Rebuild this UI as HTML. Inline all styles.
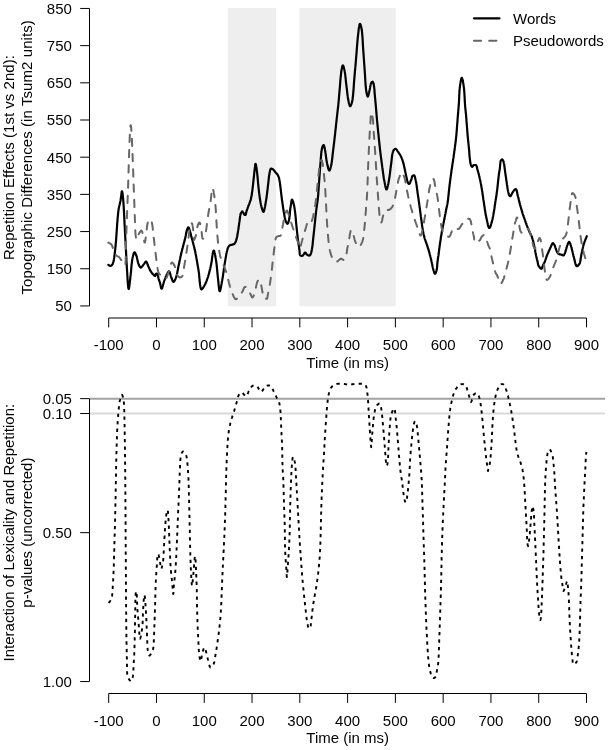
<!DOCTYPE html>
<html><head><meta charset="utf-8"><style>html,body{margin:0;padding:0;background:#fff;width:608px;height:750px;overflow:hidden}</style></head>
<body><svg width="608" height="750" viewBox="0 0 608 750" style="position:absolute;left:0;top:0">
<rect width="608" height="750" fill="#fff"/>
<rect x="227.8" y="7.9" width="48.1" height="298.4" fill="#eeeeee"/>
<rect x="299.4" y="7.9" width="96.3" height="298.4" fill="#eeeeee"/>
<line x1="89.6" y1="398.64" x2="605" y2="398.64" stroke="#a2a2a2" stroke-width="2"/>
<line x1="89.6" y1="413.53" x2="605" y2="413.53" stroke="#d9d9d9" stroke-width="2"/>
<path d="M108.4 264.8L108.9 265.2L109.4 265.5L110.0 265.8L110.5 265.8L111.1 265.7L111.6 265.4L112.1 264.9L112.5 264.4L112.7 263.9L112.9 263.4L113.1 262.9L113.3 262.4L113.4 261.8L113.6 261.2L113.7 260.6L113.8 260.0L113.9 259.3L114.0 258.7L114.1 258.1L114.2 257.5L114.3 256.8L114.4 256.2L114.4 255.6L114.5 255.1L114.6 254.5L114.7 253.9L114.8 253.3L114.8 252.7L114.9 252.1L115.0 251.5L115.0 250.9L115.1 250.3L115.2 249.7L115.2 249.1L115.3 248.5L115.4 247.9L115.4 247.3L115.5 246.7L115.5 246.1L115.6 245.5L115.6 244.9L115.7 244.3L115.7 243.7L115.8 243.1L115.9 242.5L115.9 241.9L116.0 241.3L116.0 240.7L116.1 240.1L116.1 239.5L116.2 238.9L116.2 238.3L116.2 237.7L116.3 237.1L116.3 236.5L116.4 235.9L116.4 235.3L116.5 234.7L116.5 234.1L116.5 233.5L116.6 232.9L116.6 232.3L116.7 231.7L116.7 231.1L116.7 230.5L116.8 229.9L116.8 229.3L116.9 228.8L116.9 228.2L116.9 227.6L117.0 227.0L117.0 226.4L117.1 225.8L117.1 225.2L117.1 224.6L117.2 224.0L117.2 223.4L117.3 222.8L117.3 222.2L117.4 221.6L117.4 221.0L117.5 220.4L117.5 219.8L117.6 219.2L117.6 218.6L117.7 218.0L117.7 217.4L117.8 216.8L117.8 216.2L117.9 215.6L118.0 215.0L118.0 214.4L118.1 213.8L118.1 213.2L118.2 212.6L118.3 212.0L118.3 211.4L118.4 210.8L118.5 210.2L118.6 209.6L118.7 209.0L118.7 208.4L118.8 207.9L119.0 207.3L119.1 206.7L119.2 206.1L119.4 205.5L119.5 204.9L119.7 204.3L119.8 203.8L120.0 203.2L120.1 202.6L120.2 202.0L120.4 201.4L120.5 200.8L120.6 200.2L120.7 199.5L120.8 198.7L120.9 197.9L121.0 197.1L121.1 196.4L121.2 195.6L121.3 194.8L121.4 194.1L121.5 193.5L121.6 192.9L121.6 192.3L121.7 191.9L121.8 191.6L121.9 191.4L122.0 191.3L122.1 191.4L122.2 191.5L122.2 191.8L122.3 192.2L122.4 192.6L122.5 193.2L122.6 193.8L122.7 194.4L122.8 195.2L122.8 195.9L122.9 196.7L123.0 197.5L123.1 198.2L123.1 199.0L123.2 199.8L123.3 200.6L123.3 201.3L123.4 201.9L123.4 202.6L123.5 203.2L123.5 203.7L123.5 204.3L123.6 204.9L123.6 205.5L123.7 206.1L123.7 206.7L123.7 207.3L123.8 207.9L123.8 208.5L123.8 209.1L123.9 209.7L123.9 210.3L123.9 210.9L124.0 211.5L124.0 212.1L124.0 212.7L124.1 213.3L124.1 213.9L124.1 214.5L124.1 215.1L124.2 215.7L124.2 216.3L124.2 216.9L124.3 217.5L124.3 218.1L124.3 218.7L124.3 219.3L124.4 219.9L124.4 220.5L124.4 221.1L124.5 221.7L124.5 222.3L124.5 222.9L124.5 223.5L124.6 224.1L124.6 224.7L124.6 225.3L124.7 225.9L124.7 226.5L124.7 227.1L124.8 227.7L124.8 228.3L124.8 228.9L124.9 229.5L124.9 230.1L124.9 230.7L125.0 231.3L125.0 231.9L125.0 232.5L125.0 233.1L125.1 233.7L125.1 234.3L125.1 234.9L125.2 235.5L125.2 236.1L125.2 236.7L125.3 237.3L125.3 237.9L125.3 238.5L125.4 239.1L125.4 239.7L125.4 240.3L125.5 240.9L125.5 241.5L125.5 242.1L125.6 242.7L125.6 243.3L125.6 243.9L125.6 244.5L125.7 245.1L125.7 245.7L125.7 246.3L125.8 246.9L125.8 247.5L125.8 248.1L125.9 248.7L125.9 249.3L125.9 249.9L126.0 250.5L126.0 251.1L126.0 251.7L126.1 252.3L126.1 252.9L126.1 253.5L126.1 254.1L126.2 254.7L126.2 255.3L126.2 255.9L126.3 256.5L126.3 257.1L126.3 257.7L126.4 258.3L126.4 258.9L126.4 259.5L126.4 260.1L126.5 260.7L126.5 261.3L126.5 261.9L126.6 262.5L126.6 263.1L126.6 263.7L126.7 264.3L126.7 264.9L126.7 265.5L126.8 266.1L126.8 266.7L126.8 267.3L126.9 267.9L126.9 268.5L127.0 269.1L127.0 269.7L127.0 270.3L127.1 270.9L127.1 271.6L127.2 272.3L127.2 273.1L127.3 273.8L127.3 274.6L127.3 275.3L127.4 276.1L127.4 276.9L127.5 277.7L127.5 278.5L127.6 279.3L127.6 280.1L127.7 280.9L127.7 281.6L127.8 282.4L127.8 283.1L127.9 283.8L128.0 284.4L128.0 285.1L128.1 285.7L128.1 286.2L128.2 286.8L128.2 287.2L128.3 287.7L128.4 288.0L128.4 288.3L128.5 288.6L128.5 288.8L128.6 288.9L128.7 289.0L128.7 289.0L128.8 288.9L128.9 288.7L129.0 288.4L129.0 288.0L129.1 287.6L129.2 287.1L129.3 286.5L129.4 285.9L129.5 285.2L129.5 284.5L129.6 283.8L129.7 283.0L129.8 282.2L129.9 281.5L130.0 280.7L130.1 279.9L130.2 279.1L130.3 278.3L130.3 277.6L130.4 276.9L130.5 276.2L130.6 275.5L130.6 274.9L130.7 274.4L130.8 273.8L130.8 273.2L130.9 272.6L131.0 272.0L131.0 271.4L131.1 270.8L131.1 270.2L131.2 269.5L131.2 268.9L131.3 268.3L131.3 267.7L131.4 267.1L131.4 266.5L131.5 265.9L131.5 265.3L131.6 264.7L131.7 264.1L131.7 263.6L131.8 263.0L131.9 262.4L131.9 261.8L132.0 261.2L132.1 260.6L132.2 260.0L132.3 259.4L132.4 258.8L132.5 258.2L132.6 257.5L132.8 256.8L133.0 256.0L133.2 255.3L133.4 254.6L133.6 253.9L133.8 253.3L134.0 252.9L134.3 252.5L134.5 252.3L134.7 252.3L135.0 252.6L135.3 253.0L135.5 253.6L135.8 254.3L136.1 255.0L136.4 255.7L136.6 256.3L136.8 256.9L136.9 257.5L137.1 258.1L137.2 258.7L137.3 259.2L137.4 259.8L137.6 260.4L137.7 261.0L137.8 261.6L138.0 262.2L138.1 262.8L138.3 263.3L138.5 263.9L138.8 264.5L139.0 265.2L139.3 265.9L139.7 266.5L140.0 267.0L140.4 267.4L140.7 267.6L141.1 267.5L141.4 267.3L141.8 266.9L142.2 266.4L142.7 265.8L143.1 265.2L143.5 264.6L143.9 264.1L144.3 263.6L144.7 263.0L145.1 262.4L145.4 261.9L145.8 261.6L146.1 261.5L146.4 261.7L146.7 262.2L147.0 262.8L147.2 263.4L147.5 264.2L147.7 264.8L148.0 265.5L148.2 266.0L148.5 266.6L148.7 267.1L148.9 267.7L149.2 268.2L149.4 268.8L149.7 269.3L149.9 269.9L150.2 270.4L150.5 270.9L150.8 271.4L151.1 271.9L151.5 272.4L151.8 272.9L152.2 273.4L152.6 273.8L153.0 274.3L153.5 274.8L154.1 275.3L154.6 275.7L155.0 275.9L155.3 276.0L155.5 275.4L155.6 274.6L155.8 273.9L156.2 273.7L156.8 273.7L157.3 273.8L157.6 274.4L157.8 275.0L157.9 275.5L158.1 276.1L158.2 276.7L158.3 277.3L158.4 277.9L158.5 278.5L158.7 279.1L158.9 279.7L159.0 280.2L159.2 280.8L159.5 281.4L159.7 281.9L159.9 282.5L160.0 283.1L160.2 283.7L160.4 284.4L160.5 285.2L160.7 286.0L160.8 286.7L161.0 287.4L161.1 288.0L161.3 288.4L161.5 288.7L161.6 288.7L161.8 288.6L162.0 288.4L162.2 288.0L162.3 287.5L162.5 286.9L162.7 286.2L162.9 285.5L163.1 284.7L163.3 284.0L163.5 283.2L163.7 282.5L163.9 281.9L164.1 281.2L164.3 280.7L164.5 280.1L164.7 279.6L164.9 279.0L165.2 278.4L165.4 277.9L165.6 277.3L165.8 276.7L166.1 276.2L166.3 275.6L166.6 275.1L166.8 274.6L167.1 274.0L167.4 273.5L167.7 272.9L168.1 272.2L168.5 271.7L168.8 271.4L169.1 271.3L169.4 271.5L169.6 271.9L169.8 272.4L170.0 273.0L170.2 273.7L170.4 274.4L170.6 275.2L170.8 275.9L171.0 276.6L171.2 277.2L171.4 277.8L171.7 278.5L171.9 279.2L172.2 279.9L172.5 280.5L172.7 281.1L173.0 281.6L173.3 281.8L173.6 281.9L173.9 281.7L174.2 281.4L174.5 280.9L174.8 280.3L175.2 279.6L175.5 278.9L175.7 278.2L176.0 277.6L176.1 277.1L176.3 276.5L176.5 276.0L176.6 275.4L176.8 274.8L176.9 274.2L177.1 273.6L177.2 273.1L177.3 272.5L177.4 271.9L177.5 271.3L177.6 270.7L177.8 270.1L177.9 269.5L178.0 268.9L178.1 268.3L178.2 267.7L178.3 267.1L178.4 266.5L178.6 265.9L178.7 265.3L178.8 264.7L178.9 264.2L179.1 263.6L179.2 263.0L179.3 262.4L179.4 261.8L179.6 261.2L179.7 260.6L179.8 260.0L179.9 259.5L180.0 258.9L180.2 258.3L180.3 257.7L180.4 257.1L180.5 256.5L180.7 255.9L180.8 255.3L180.9 254.8L181.1 254.2L181.2 253.6L181.3 253.0L181.5 252.4L181.6 251.8L181.8 251.3L181.9 250.7L182.1 250.1L182.2 249.5L182.4 248.9L182.5 248.4L182.7 247.8L182.8 247.2L183.0 246.6L183.1 246.0L183.3 245.5L183.4 244.9L183.6 244.3L183.7 243.7L183.9 243.1L184.1 242.6L184.2 242.0L184.4 241.4L184.5 240.8L184.7 240.2L184.8 239.7L185.0 239.0L185.2 238.3L185.3 237.6L185.5 236.9L185.6 236.2L185.8 235.4L185.9 234.6L186.1 233.9L186.3 233.1L186.4 232.4L186.6 231.6L186.7 230.9L186.9 230.3L187.1 229.7L187.2 229.1L187.4 228.6L187.6 228.2L187.7 227.9L187.9 227.6L188.1 227.4L188.2 227.3L188.4 227.3L188.6 227.5L188.8 227.7L189.0 228.0L189.1 228.5L189.3 229.0L189.5 229.6L189.7 230.2L189.9 230.9L190.1 231.6L190.3 232.3L190.5 233.1L190.7 233.9L190.9 234.6L191.0 235.4L191.2 236.1L191.4 236.7L191.6 237.3L191.7 237.9L191.9 238.5L192.0 239.1L192.2 239.7L192.4 240.2L192.5 240.8L192.7 241.4L192.8 242.0L193.0 242.6L193.1 243.1L193.3 243.7L193.4 244.3L193.6 244.9L193.7 245.5L193.9 246.0L194.0 246.6L194.2 247.2L194.3 247.8L194.4 248.4L194.6 249.0L194.7 249.6L194.8 250.1L195.0 250.7L195.1 251.3L195.2 251.9L195.4 252.5L195.5 253.1L195.6 253.7L195.7 254.2L195.8 254.8L195.9 255.4L196.1 256.0L196.2 256.6L196.3 257.2L196.4 257.8L196.5 258.4L196.6 259.0L196.7 259.5L196.8 260.1L196.9 260.7L197.0 261.3L197.1 261.9L197.2 262.5L197.3 263.1L197.4 263.7L197.5 264.3L197.6 264.9L197.7 265.5L197.8 266.1L197.9 266.6L198.0 267.2L198.1 267.8L198.2 268.4L198.3 269.0L198.4 269.6L198.5 270.2L198.6 270.8L198.7 271.5L198.8 272.2L198.9 272.9L199.0 273.6L199.1 274.3L199.1 275.1L199.2 275.9L199.3 276.7L199.3 277.4L199.4 278.2L199.5 279.0L199.6 279.8L199.6 280.6L199.7 281.3L199.8 282.1L199.9 282.8L199.9 283.5L200.0 284.2L200.1 284.9L200.2 285.5L200.3 286.1L200.4 286.7L200.5 287.2L200.6 287.6L200.7 288.1L200.8 288.4L200.9 288.7L201.1 289.0L201.2 289.2L201.4 289.3L201.5 289.4L201.7 289.4L202.0 289.2L202.3 288.8L202.7 288.3L203.1 287.7L203.5 287.1L203.9 286.5L204.3 285.8L204.6 285.2L204.9 284.7L205.2 284.2L205.4 283.6L205.7 283.1L205.9 282.6L206.2 282.0L206.4 281.4L206.6 280.9L206.8 280.3L207.0 279.7L207.2 279.2L207.4 278.6L207.6 278.0L207.8 277.4L208.0 276.9L208.2 276.3L208.3 275.7L208.5 275.2L208.7 274.6L208.8 274.0L209.0 273.4L209.2 272.9L209.3 272.3L209.5 271.7L209.6 271.1L209.7 270.5L209.9 269.9L210.0 269.4L210.2 268.8L210.3 268.2L210.4 267.6L210.6 267.0L210.7 266.4L210.8 265.8L210.9 265.2L211.1 264.7L211.2 264.0L211.3 263.3L211.4 262.6L211.6 261.9L211.7 261.1L211.8 260.4L211.9 259.6L212.0 258.8L212.1 258.0L212.2 257.2L212.3 256.5L212.4 255.7L212.5 255.0L212.6 254.4L212.7 253.7L212.8 253.1L213.0 252.6L213.1 252.1L213.2 251.6L213.3 251.3L213.4 251.0L213.5 250.8L213.6 250.6L213.8 250.6L213.9 250.7L214.0 250.9L214.2 251.2L214.3 251.7L214.5 252.2L214.6 252.8L214.8 253.5L215.0 254.2L215.1 254.9L215.3 255.7L215.4 256.5L215.5 257.2L215.7 258.0L215.8 258.7L215.9 259.4L216.0 260.0L216.1 260.6L216.2 261.2L216.3 261.8L216.3 262.4L216.4 263.0L216.5 263.6L216.6 264.2L216.6 264.8L216.7 265.4L216.8 266.0L216.8 266.6L216.9 267.2L216.9 267.7L217.0 268.3L217.0 268.9L217.1 269.5L217.2 270.1L217.2 270.7L217.3 271.3L217.3 271.9L217.4 272.5L217.4 273.1L217.5 273.7L217.6 274.3L217.6 274.9L217.7 275.5L217.7 276.1L217.8 276.7L217.9 277.3L217.9 277.9L218.0 278.6L218.1 279.3L218.2 280.0L218.2 280.7L218.3 281.5L218.4 282.3L218.5 283.1L218.5 283.9L218.6 284.7L218.7 285.4L218.8 286.2L218.8 286.9L218.9 287.6L219.0 288.3L219.1 288.9L219.2 289.4L219.2 289.9L219.3 290.3L219.4 290.7L219.5 291.0L219.6 291.1L219.7 291.2L219.8 291.2L219.9 291.1L220.0 290.9L220.2 290.5L220.3 290.1L220.4 289.6L220.6 289.1L220.7 288.4L220.8 287.8L221.0 287.1L221.1 286.3L221.3 285.6L221.4 284.8L221.5 284.0L221.7 283.2L221.8 282.5L221.9 281.7L222.1 281.0L222.2 280.4L222.3 279.8L222.4 279.2L222.5 278.6L222.6 278.0L222.7 277.4L222.8 276.8L222.9 276.2L223.0 275.6L223.1 275.1L223.1 274.5L223.2 273.9L223.3 273.3L223.4 272.7L223.5 272.1L223.6 271.5L223.7 270.9L223.7 270.3L223.8 269.7L223.9 269.1L224.0 268.5L224.1 267.9L224.2 267.3L224.2 266.7L224.3 266.1L224.4 265.5L224.5 264.9L224.6 264.4L224.7 263.8L224.8 263.2L224.9 262.6L225.0 262.0L225.1 261.4L225.2 260.8L225.3 260.2L225.4 259.6L225.5 259.0L225.6 258.4L225.7 257.8L225.8 257.2L225.9 256.6L226.0 256.1L226.1 255.5L226.2 254.9L226.3 254.3L226.4 253.7L226.5 253.1L226.7 252.5L226.8 251.9L226.9 251.4L227.1 250.8L227.2 250.2L227.4 249.6L227.5 249.0L227.7 248.4L227.9 247.9L228.2 247.3L228.5 246.8L228.8 246.3L229.2 245.9L229.7 245.5L230.2 245.1L230.7 244.9L231.3 244.8L231.9 244.8L232.5 244.6L233.1 244.4L233.7 244.2L234.2 244.0L234.5 243.6L234.9 243.1L235.2 242.6L235.5 242.0L235.8 241.4L236.0 240.8L236.2 240.3L236.4 239.7L236.5 239.1L236.7 238.6L236.8 238.0L236.9 237.4L237.1 236.8L237.2 236.2L237.3 235.6L237.4 235.0L237.5 234.4L237.6 233.8L237.7 233.2L237.8 232.6L237.9 232.0L238.0 231.4L238.1 230.9L238.2 230.3L238.3 229.7L238.4 229.1L238.5 228.5L238.6 227.9L238.6 227.3L238.7 226.7L238.8 226.1L238.9 225.5L239.0 224.9L239.1 224.3L239.1 223.7L239.2 223.1L239.3 222.5L239.4 221.9L239.5 221.4L239.6 220.8L239.6 220.2L239.7 219.6L239.8 219.0L239.9 218.4L240.0 217.8L240.0 217.1L240.1 216.5L240.2 216.0L240.3 215.4L240.4 214.8L240.6 214.2L240.7 213.7L241.0 213.1L241.3 212.6L241.7 212.1L241.9 211.5L242.2 211.4L242.6 211.8L243.0 212.4L243.4 212.9L243.7 213.4L244.0 214.0L244.3 214.5L244.7 215.0L245.2 215.0L245.5 214.8L245.8 214.4L246.0 213.8L246.1 213.1L246.3 212.3L246.4 211.6L246.6 211.0L246.8 210.5L247.0 209.9L247.2 209.3L247.4 208.8L247.6 208.2L247.8 207.6L248.0 207.1L248.2 206.5L248.4 206.0L248.6 205.4L248.9 204.8L249.1 204.3L249.3 203.7L249.5 203.1L249.7 202.6L249.9 202.0L250.1 201.5L250.3 200.9L250.5 200.3L250.7 199.8L250.8 199.2L251.0 198.6L251.1 198.0L251.2 197.4L251.3 196.8L251.5 196.2L251.6 195.7L251.7 195.1L251.8 194.5L251.8 193.9L251.9 193.3L252.0 192.7L252.1 192.1L252.2 191.5L252.3 190.9L252.4 190.3L252.4 189.7L252.5 189.1L252.6 188.5L252.6 187.9L252.7 187.3L252.8 186.7L252.9 186.1L252.9 185.5L253.0 184.9L253.1 184.3L253.1 183.8L253.2 183.2L253.2 182.6L253.3 182.0L253.4 181.4L253.4 180.8L253.5 180.2L253.6 179.6L253.6 179.0L253.7 178.4L253.8 177.8L253.8 177.2L253.9 176.6L254.0 176.0L254.0 175.4L254.1 174.8L254.1 174.2L254.2 173.6L254.3 173.0L254.3 172.4L254.4 171.8L254.4 171.2L254.5 170.6L254.6 170.0L254.7 169.4L254.7 168.8L254.8 168.2L254.9 167.6L255.0 167.0L255.1 166.2L255.1 165.5L255.2 164.7L255.3 164.2L255.4 163.8L255.6 163.8L255.7 164.0L255.8 164.4L255.9 164.9L256.1 165.6L256.2 166.3L256.3 167.1L256.4 167.8L256.6 168.6L256.7 169.3L256.7 170.0L256.8 170.6L256.9 171.2L257.0 171.8L257.1 172.4L257.1 172.9L257.2 173.5L257.3 174.1L257.3 174.7L257.4 175.3L257.4 175.9L257.5 176.5L257.6 177.1L257.6 177.7L257.7 178.3L257.7 178.9L257.8 179.5L257.8 180.1L257.9 180.7L257.9 181.3L258.0 181.9L258.0 182.5L258.1 183.1L258.1 183.7L258.2 184.3L258.3 184.9L258.3 185.5L258.4 186.1L258.4 186.7L258.5 187.3L258.6 187.9L258.6 188.5L258.7 189.1L258.8 189.7L258.8 190.3L258.9 190.9L259.0 191.5L259.0 192.1L259.1 192.7L259.2 193.3L259.3 193.8L259.3 194.4L259.4 195.0L259.5 195.6L259.6 196.2L259.6 196.8L259.7 197.4L259.8 198.0L259.9 198.6L260.0 199.2L260.1 199.8L260.2 200.4L260.3 201.0L260.4 201.6L260.5 202.2L260.6 202.8L260.7 203.3L260.8 203.9L260.9 204.5L261.1 205.1L261.2 205.7L261.3 206.3L261.5 206.9L261.6 207.4L261.8 208.0L262.0 208.6L262.2 209.2L262.4 209.9L262.7 210.7L262.9 211.3L263.2 211.7L263.4 211.9L263.6 211.8L263.8 211.5L264.0 211.0L264.2 210.4L264.3 209.7L264.5 208.9L264.7 208.2L264.8 207.4L265.0 206.7L265.1 206.2L265.2 205.6L265.3 205.0L265.4 204.4L265.5 203.8L265.6 203.2L265.7 202.6L265.8 202.0L265.9 201.4L266.0 200.8L266.1 200.2L266.2 199.6L266.3 199.1L266.4 198.5L266.5 197.9L266.6 197.3L266.6 196.7L266.7 196.1L266.8 195.5L266.9 194.9L267.0 194.3L267.0 193.7L267.1 193.1L267.2 192.5L267.2 191.9L267.3 191.3L267.4 190.7L267.5 190.1L267.5 189.5L267.6 188.9L267.7 188.3L267.7 187.7L267.8 187.1L267.9 186.6L267.9 186.0L268.0 185.4L268.1 184.8L268.1 184.2L268.2 183.6L268.3 183.0L268.4 182.4L268.4 181.8L268.5 181.2L268.6 180.6L268.6 180.0L268.7 179.4L268.7 178.8L268.8 178.2L268.9 177.6L268.9 177.0L269.0 176.4L269.1 175.8L269.2 175.2L269.3 174.6L269.4 174.0L269.5 173.4L269.6 172.8L269.7 172.2L269.8 171.7L269.9 171.1L270.1 170.4L270.3 169.7L270.6 169.0L270.9 168.6L271.2 168.5L271.7 168.7L272.3 169.0L272.9 169.3L273.3 169.7L273.8 170.1L274.1 170.5L274.5 171.0L274.9 171.5L275.2 172.0L275.6 172.5L276.0 172.9L276.4 173.4L276.9 173.9L277.2 174.3L277.6 174.8L277.9 175.3L278.1 175.8L278.4 176.4L278.6 176.9L278.8 177.5L279.0 178.1L279.2 178.7L279.3 179.3L279.4 179.8L279.5 180.4L279.6 181.0L279.7 181.6L279.8 182.2L279.9 182.8L280.0 183.4L280.1 184.0L280.1 184.6L280.2 185.2L280.3 185.8L280.4 186.4L280.4 187.0L280.5 187.6L280.6 188.2L280.7 188.8L280.7 189.4L280.8 190.0L280.9 190.6L280.9 191.1L281.0 191.7L281.1 192.3L281.1 192.9L281.2 193.5L281.3 194.1L281.3 194.7L281.4 195.3L281.5 195.9L281.6 196.5L281.6 197.1L281.7 197.7L281.8 198.3L281.9 198.9L281.9 199.5L282.0 200.1L282.1 200.7L282.2 201.3L282.3 201.9L282.4 202.5L282.4 203.1L282.5 203.6L282.6 204.2L282.7 204.8L282.8 205.4L282.9 206.0L282.9 206.6L283.0 207.2L283.1 207.8L283.2 208.4L283.3 209.0L283.4 209.6L283.5 210.2L283.6 210.8L283.7 211.4L283.8 212.0L283.9 212.5L284.0 213.1L284.1 213.7L284.2 214.3L284.3 214.9L284.4 215.5L284.5 216.1L284.6 216.7L284.7 217.3L284.9 217.9L285.0 218.5L285.1 219.1L285.2 219.7L285.4 220.2L285.6 220.8L285.8 221.4L286.1 222.1L286.5 222.8L286.8 223.3L287.1 223.7L287.4 223.8L287.7 223.7L287.9 223.3L288.2 222.8L288.4 222.2L288.6 221.5L288.8 220.7L289.0 220.0L289.1 219.3L289.3 218.7L289.4 218.1L289.4 217.5L289.5 216.9L289.6 216.3L289.7 215.7L289.7 215.1L289.8 214.5L289.8 213.9L289.9 213.3L289.9 212.7L290.0 212.1L290.0 211.5L290.1 210.9L290.1 210.3L290.2 209.7L290.3 209.1L290.3 208.5L290.4 207.9L290.5 207.3L290.6 206.7L290.7 206.2L290.8 205.6L290.9 205.0L291.0 204.4L291.1 203.8L291.3 203.2L291.3 202.4L291.4 201.6L291.5 200.9L291.6 200.3L291.8 199.8L292.0 199.6L292.4 200.0L292.6 200.5L292.9 201.0L293.1 201.6L293.2 202.2L293.4 202.8L293.5 203.4L293.7 204.0L293.8 204.5L293.9 205.1L294.1 205.7L294.2 206.3L294.3 206.9L294.4 207.5L294.5 208.1L294.6 208.7L294.7 209.3L294.8 209.8L294.9 210.4L294.9 211.0L295.0 211.6L295.1 212.2L295.2 212.8L295.2 213.4L295.3 214.0L295.4 214.6L295.4 215.2L295.5 215.8L295.6 216.4L295.6 217.0L295.7 217.6L295.7 218.2L295.8 218.8L295.8 219.4L295.9 220.0L295.9 220.6L296.0 221.2L296.0 221.8L296.1 222.4L296.1 223.0L296.2 223.6L296.3 224.2L296.3 224.8L296.4 225.4L296.4 226.0L296.5 226.6L296.6 227.2L296.6 227.8L296.7 228.4L296.7 228.9L296.8 229.5L296.9 230.1L296.9 230.7L297.0 231.3L297.1 231.9L297.1 232.5L297.2 233.1L297.3 233.7L297.3 234.3L297.4 234.9L297.5 235.5L297.5 236.1L297.6 236.7L297.7 237.3L297.7 237.9L297.8 238.5L297.9 239.1L298.0 239.7L298.0 240.3L298.1 240.9L298.2 241.5L298.3 242.1L298.4 242.7L298.4 243.2L298.5 243.8L298.6 244.4L298.7 245.0L298.8 245.6L298.9 246.2L299.0 246.8L299.1 247.4L299.1 248.0L299.2 248.6L299.3 249.2L299.4 249.8L299.5 250.4L299.5 251.0L299.6 251.7L299.6 252.3L299.7 253.0L299.7 253.6L299.8 254.2L299.9 254.7L300.0 255.1L300.5 255.5L301.1 255.8L301.7 256.0L302.2 255.9L302.7 255.6L303.2 255.1L303.6 254.6L304.0 254.1L304.3 253.4L304.6 252.8L304.9 252.5L305.3 252.6L305.7 253.0L306.1 253.5L306.5 254.1L307.0 254.6L307.5 255.0L308.0 255.2L308.6 255.5L309.2 255.6L309.6 255.5L310.0 255.2L310.4 254.7L310.7 254.1L311.0 253.4L311.2 252.7L311.3 252.2L311.5 251.6L311.6 251.1L311.7 250.5L311.8 249.9L311.9 249.4L312.0 248.8L312.1 248.2L312.2 247.6L312.3 247.0L312.4 246.4L312.5 245.8L312.5 245.2L312.6 244.6L312.7 244.0L312.7 243.4L312.8 242.8L312.8 242.2L312.9 241.5L313.0 240.9L313.0 240.3L313.1 239.7L313.1 239.1L313.2 238.5L313.3 237.9L313.3 237.3L313.4 236.7L313.5 236.1L313.5 235.5L313.6 234.9L313.7 234.3L313.7 233.7L313.8 233.1L313.9 232.5L313.9 231.9L314.0 231.3L314.1 230.7L314.1 230.1L314.2 229.5L314.3 228.9L314.3 228.3L314.4 227.7L314.4 227.2L314.5 226.6L314.6 226.0L314.6 225.4L314.7 224.8L314.7 224.2L314.8 223.6L314.9 223.0L314.9 222.4L315.0 221.8L315.1 221.2L315.1 220.6L315.2 220.0L315.2 219.4L315.3 218.8L315.4 218.2L315.4 217.6L315.5 217.0L315.6 216.4L315.6 215.8L315.7 215.2L315.8 214.6L315.8 214.0L315.9 213.4L315.9 212.8L316.0 212.2L316.1 211.6L316.1 211.0L316.2 210.4L316.3 209.8L316.4 209.3L316.4 208.7L316.5 208.1L316.6 207.5L316.7 206.9L316.8 206.3L316.9 205.7L317.0 205.1L317.0 204.5L317.1 203.9L317.2 203.3L317.3 202.7L317.4 202.1L317.5 201.5L317.5 200.9L317.6 200.3L317.7 199.7L317.8 199.1L317.8 198.6L317.9 198.0L317.9 197.4L318.0 196.8L318.1 196.2L318.1 195.6L318.2 195.0L318.2 194.4L318.3 193.8L318.3 193.2L318.3 192.6L318.4 192.0L318.4 191.4L318.5 190.8L318.5 190.2L318.6 189.6L318.6 189.0L318.6 188.4L318.7 187.8L318.7 187.2L318.8 186.6L318.8 186.0L318.8 185.4L318.9 184.8L318.9 184.2L319.0 183.6L319.0 183.0L319.1 182.4L319.1 181.8L319.1 181.2L319.2 180.6L319.2 180.0L319.3 179.4L319.3 178.8L319.4 178.2L319.4 177.6L319.4 177.0L319.5 176.4L319.5 175.8L319.6 175.2L319.6 174.6L319.7 174.0L319.7 173.4L319.7 172.8L319.8 172.2L319.8 171.6L319.9 171.0L319.9 170.4L320.0 169.8L320.0 169.2L320.0 168.6L320.1 168.0L320.1 167.4L320.2 166.8L320.2 166.2L320.3 165.6L320.3 165.0L320.4 164.5L320.4 163.9L320.5 163.3L320.5 162.7L320.6 162.1L320.6 161.5L320.7 160.8L320.7 160.2L320.7 159.6L320.8 159.0L320.8 158.4L320.9 157.8L320.9 157.2L321.0 156.6L321.0 156.0L321.1 155.4L321.1 154.8L321.2 154.2L321.2 153.6L321.3 153.0L321.4 152.4L321.4 151.8L321.5 151.2L321.6 150.6L321.7 150.1L321.8 149.5L321.9 148.9L322.0 148.3L322.2 147.6L322.4 146.9L322.7 146.2L323.0 145.6L323.3 145.2L323.5 145.0L323.7 145.1L323.9 145.4L324.1 145.9L324.3 146.6L324.4 147.3L324.6 148.0L324.8 148.8L324.9 149.5L325.0 150.1L325.1 150.7L325.3 151.3L325.4 151.9L325.4 152.5L325.5 153.1L325.6 153.7L325.7 154.3L325.8 154.9L325.9 155.5L325.9 156.1L326.0 156.7L326.1 157.3L326.2 157.9L326.2 158.4L326.3 159.0L326.4 159.6L326.5 160.2L326.6 160.8L326.7 161.4L326.8 162.0L326.9 162.6L327.0 163.2L327.2 163.9L327.3 164.6L327.5 165.4L327.7 166.1L327.9 166.9L328.1 167.6L328.2 168.3L328.4 168.9L328.6 169.5L328.8 170.0L329.0 170.3L329.2 170.5L329.4 170.6L329.6 170.5L329.8 170.2L330.0 169.7L330.2 169.1L330.4 168.4L330.6 167.7L330.8 166.9L331.0 166.2L331.1 165.5L331.3 164.9L331.4 164.3L331.5 163.7L331.6 163.1L331.7 162.6L331.8 162.0L331.9 161.4L331.9 160.8L332.0 160.2L332.1 159.6L332.2 159.0L332.2 158.4L332.3 157.8L332.4 157.2L332.4 156.6L332.5 156.0L332.6 155.4L332.6 154.8L332.7 154.2L332.8 153.6L332.8 153.0L332.9 152.4L333.0 151.8L333.0 151.2L333.1 150.6L333.2 150.0L333.3 149.4L333.3 148.8L333.4 148.2L333.5 147.6L333.6 147.0L333.6 146.4L333.7 145.8L333.8 145.2L333.8 144.7L333.9 144.1L334.0 143.5L334.1 142.9L334.1 142.3L334.2 141.7L334.3 141.1L334.3 140.5L334.4 139.9L334.5 139.3L334.5 138.7L334.6 138.1L334.7 137.5L334.7 136.9L334.8 136.3L334.9 135.7L335.0 135.1L335.0 134.5L335.1 133.9L335.2 133.3L335.2 132.7L335.3 132.1L335.3 131.5L335.4 130.9L335.5 130.3L335.5 129.8L335.6 129.2L335.7 128.6L335.7 128.0L335.8 127.4L335.9 126.8L335.9 126.2L336.0 125.6L336.0 125.0L336.1 124.4L336.2 123.8L336.2 123.2L336.3 122.6L336.4 122.0L336.4 121.4L336.5 120.8L336.6 120.2L336.6 119.6L336.7 119.0L336.8 118.4L336.8 117.8L336.9 117.2L337.0 116.6L337.0 116.0L337.1 115.4L337.2 114.8L337.2 114.2L337.3 113.6L337.4 113.0L337.4 112.5L337.5 111.9L337.6 111.3L337.6 110.7L337.7 110.1L337.8 109.5L337.8 108.9L337.9 108.3L338.0 107.7L338.1 107.1L338.1 106.5L338.2 105.9L338.3 105.3L338.3 104.7L338.4 104.1L338.4 103.5L338.5 102.9L338.5 102.3L338.6 101.7L338.7 101.1L338.7 100.5L338.8 99.9L338.8 99.3L338.9 98.7L338.9 98.1L339.0 97.5L339.0 96.9L339.1 96.3L339.1 95.7L339.2 95.1L339.2 94.5L339.3 93.9L339.3 93.3L339.4 92.8L339.4 92.2L339.5 91.6L339.5 91.0L339.6 90.4L339.6 89.8L339.7 89.2L339.7 88.6L339.8 88.0L339.8 87.4L339.9 86.8L339.9 86.2L340.0 85.6L340.0 85.0L340.1 84.4L340.1 83.8L340.2 83.2L340.2 82.6L340.2 82.0L340.3 81.4L340.3 80.8L340.4 80.2L340.4 79.6L340.5 79.0L340.5 78.4L340.6 77.8L340.7 77.2L340.7 76.6L340.8 76.0L340.9 75.4L340.9 74.8L341.0 74.2L341.1 73.6L341.1 73.0L341.2 72.4L341.3 71.8L341.4 71.1L341.5 70.4L341.7 69.6L341.8 68.8L341.9 68.1L342.1 67.4L342.2 66.7L342.4 66.2L342.6 65.8L342.7 65.5L342.9 65.4L343.1 65.5L343.3 65.9L343.5 66.4L343.7 67.1L343.9 67.8L344.1 68.6L344.3 69.3L344.4 69.9L344.5 70.5L344.7 71.1L344.8 71.7L344.9 72.2L344.9 72.8L345.0 73.4L345.1 74.0L345.2 74.6L345.3 75.2L345.3 75.8L345.4 76.4L345.5 77.0L345.5 77.6L345.6 78.2L345.7 78.8L345.7 79.4L345.8 80.0L345.8 80.6L345.9 81.2L346.0 81.8L346.0 82.4L346.1 83.0L346.2 83.6L346.2 84.2L346.3 84.8L346.4 85.4L346.5 86.0L346.5 86.6L346.6 87.2L346.7 87.8L346.8 88.4L346.8 89.0L346.9 89.6L347.0 90.2L347.0 90.8L347.1 91.4L347.2 92.0L347.2 92.6L347.3 93.2L347.4 93.8L347.4 94.4L347.5 95.0L347.6 95.6L347.7 96.2L347.8 96.7L347.8 97.3L347.9 97.9L348.0 98.5L348.1 99.1L348.2 99.7L348.4 100.3L348.5 100.9L348.6 101.5L348.7 102.2L348.9 102.9L349.1 103.7L349.3 104.4L349.5 105.0L349.7 105.6L349.9 106.0L350.1 106.2L350.3 106.2L350.6 105.9L350.8 105.5L351.1 104.9L351.3 104.3L351.6 103.6L351.8 102.8L352.0 102.1L352.2 101.4L352.3 100.8L352.4 100.2L352.5 99.7L352.6 99.1L352.6 98.5L352.7 97.9L352.8 97.3L352.9 96.7L352.9 96.2L353.0 95.6L353.1 95.0L353.1 94.4L353.2 93.8L353.2 93.2L353.3 92.6L353.3 92.0L353.4 91.4L353.4 90.8L353.5 90.2L353.5 89.6L353.6 89.0L353.6 88.4L353.7 87.8L353.7 87.2L353.7 86.5L353.8 85.9L353.8 85.3L353.9 84.7L353.9 84.1L353.9 83.5L354.0 82.9L354.0 82.3L354.1 81.7L354.1 81.1L354.2 80.5L354.2 79.9L354.3 79.3L354.3 78.7L354.4 78.1L354.4 77.5L354.5 76.9L354.5 76.3L354.6 75.7L354.6 75.1L354.7 74.5L354.7 73.9L354.8 73.3L354.8 72.7L354.9 72.1L354.9 71.5L355.0 70.9L355.0 70.3L355.1 69.7L355.1 69.1L355.2 68.5L355.2 67.9L355.3 67.4L355.4 66.8L355.4 66.2L355.5 65.6L355.5 65.0L355.6 64.4L355.6 63.8L355.7 63.2L355.7 62.6L355.8 62.0L355.8 61.4L355.9 60.8L355.9 60.2L356.0 59.6L356.0 59.0L356.1 58.4L356.1 57.8L356.2 57.2L356.2 56.6L356.3 56.0L356.3 55.4L356.4 54.8L356.4 54.2L356.5 53.6L356.5 53.0L356.6 52.4L356.6 51.8L356.7 51.2L356.7 50.6L356.7 50.0L356.8 49.4L356.8 48.8L356.9 48.2L356.9 47.6L357.0 47.0L357.0 46.4L357.1 45.8L357.1 45.2L357.2 44.6L357.2 44.0L357.3 43.4L357.3 42.8L357.4 42.2L357.4 41.6L357.5 41.0L357.5 40.4L357.6 39.8L357.6 39.2L357.7 38.6L357.7 38.0L357.8 37.4L357.9 36.9L357.9 36.3L358.0 35.7L358.1 35.1L358.1 34.5L358.2 33.8L358.3 33.1L358.4 32.4L358.5 31.6L358.5 30.8L358.6 30.1L358.7 29.3L358.8 28.5L358.9 27.7L359.1 27.0L359.2 26.4L359.3 25.8L359.4 25.2L359.5 24.7L359.6 24.3L359.7 24.1L359.9 23.9L360.0 23.8L360.1 23.9L360.3 24.1L360.4 24.5L360.6 25.0L360.8 25.6L361.0 26.3L361.2 27.0L361.3 27.8L361.5 28.6L361.6 29.3L361.8 30.1L361.9 30.7L361.9 31.3L362.0 31.9L362.1 32.5L362.1 33.1L362.2 33.7L362.2 34.3L362.3 34.9L362.3 35.5L362.4 36.1L362.4 36.7L362.5 37.3L362.5 37.9L362.6 38.5L362.6 39.1L362.6 39.7L362.7 40.3L362.7 40.9L362.7 41.5L362.8 42.1L362.8 42.7L362.8 43.3L362.9 43.9L362.9 44.5L362.9 45.1L363.0 45.7L363.0 46.3L363.0 46.9L363.1 47.5L363.1 48.1L363.2 48.7L363.2 49.3L363.2 49.9L363.3 50.5L363.3 51.1L363.4 51.7L363.4 52.3L363.5 52.9L363.5 53.5L363.5 54.1L363.6 54.7L363.6 55.3L363.7 55.9L363.7 56.5L363.7 57.1L363.8 57.7L363.8 58.3L363.9 58.8L363.9 59.4L364.0 60.0L364.0 60.6L364.0 61.2L364.1 61.8L364.1 62.4L364.2 63.0L364.2 63.6L364.2 64.2L364.3 64.8L364.3 65.4L364.4 66.0L364.4 66.6L364.5 67.2L364.5 67.8L364.5 68.4L364.6 69.0L364.6 69.6L364.7 70.2L364.7 70.8L364.8 71.4L364.8 72.0L364.8 72.6L364.9 73.2L364.9 73.8L365.0 74.4L365.0 75.0L365.0 75.6L365.1 76.2L365.1 76.8L365.1 77.4L365.2 78.0L365.2 78.6L365.2 79.2L365.3 79.8L365.3 80.4L365.3 81.0L365.4 81.6L365.4 82.2L365.5 82.8L365.5 83.4L365.5 84.0L365.6 84.6L365.6 85.2L365.7 85.8L365.7 86.4L365.8 87.0L365.9 87.6L365.9 88.2L366.0 88.8L366.0 89.4L366.1 90.0L366.2 90.6L366.3 91.2L366.4 91.8L366.5 92.6L366.7 93.3L366.8 94.1L367.0 94.8L367.2 95.5L367.4 96.0L367.6 96.4L367.7 96.6L367.9 96.6L368.1 96.3L368.2 95.9L368.4 95.4L368.6 94.7L368.7 94.0L368.9 93.2L369.1 92.4L369.2 91.7L369.4 91.1L369.5 90.5L369.6 89.9L369.8 89.3L369.9 88.7L370.0 88.1L370.1 87.5L370.2 86.8L370.3 86.2L370.4 85.7L370.5 85.1L370.7 84.5L370.8 84.0L371.0 83.4L371.3 82.9L371.8 82.2L372.2 81.8L372.5 81.6L372.8 81.8L373.0 82.1L373.2 82.7L373.5 83.4L373.6 84.1L373.8 84.9L373.9 85.6L374.0 86.2L374.1 86.8L374.2 87.4L374.2 87.9L374.3 88.5L374.4 89.1L374.4 89.7L374.5 90.3L374.5 90.9L374.5 91.5L374.6 92.1L374.6 92.7L374.7 93.4L374.7 94.0L374.8 94.6L374.8 95.2L374.9 95.8L374.9 96.3L375.0 96.9L375.0 97.5L375.1 98.1L375.2 98.7L375.2 99.3L375.3 99.9L375.3 100.5L375.4 101.1L375.4 101.7L375.5 102.3L375.5 102.9L375.6 103.5L375.7 104.1L375.7 104.7L375.8 105.3L375.8 105.9L375.9 106.5L375.9 107.1L376.0 107.7L376.0 108.3L376.1 108.9L376.1 109.5L376.2 110.1L376.2 110.7L376.3 111.3L376.3 111.9L376.4 112.5L376.4 113.1L376.5 113.7L376.5 114.3L376.6 114.9L376.6 115.5L376.7 116.1L376.7 116.7L376.8 117.3L376.8 117.9L376.9 118.5L376.9 119.1L377.0 119.7L377.0 120.3L377.1 120.9L377.2 121.4L377.2 122.0L377.3 122.6L377.3 123.2L377.4 123.8L377.4 124.4L377.5 125.0L377.6 125.6L377.6 126.2L377.7 126.8L377.7 127.4L377.8 128.0L377.9 128.6L377.9 129.2L378.0 129.8L378.0 130.4L378.1 131.0L378.1 131.6L378.2 132.2L378.3 132.8L378.3 133.4L378.4 134.0L378.5 134.6L378.5 135.2L378.6 135.8L378.6 136.4L378.7 137.0L378.8 137.6L378.8 138.2L378.9 138.8L378.9 139.4L379.0 140.0L379.1 140.6L379.1 141.2L379.2 141.7L379.3 142.3L379.3 142.9L379.4 143.5L379.4 144.1L379.5 144.7L379.6 145.3L379.6 145.9L379.7 146.5L379.8 147.1L379.8 147.7L379.9 148.3L380.0 148.9L380.0 149.5L380.1 150.1L380.2 150.7L380.2 151.3L380.3 151.9L380.4 152.5L380.5 153.1L380.5 153.7L380.6 154.3L380.7 154.9L380.7 155.5L380.8 156.1L380.9 156.6L381.0 157.2L381.1 157.8L381.1 158.4L381.2 159.0L381.3 159.6L381.4 160.2L381.4 160.8L381.5 161.4L381.6 162.0L381.7 162.6L381.8 163.2L381.8 163.8L381.9 164.4L382.0 165.0L382.1 165.6L382.2 166.2L382.2 166.8L382.3 167.4L382.4 168.0L382.5 168.5L382.6 169.1L382.6 169.7L382.7 170.3L382.8 170.9L382.9 171.5L383.0 172.1L383.0 172.7L383.1 173.3L383.2 173.9L383.3 174.5L383.4 175.1L383.5 175.7L383.5 176.3L383.6 176.9L383.7 177.5L383.8 178.1L383.9 178.7L384.0 179.2L384.1 179.8L384.2 180.4L384.4 181.0L384.5 181.6L384.6 182.3L384.7 183.0L384.9 183.7L385.0 184.5L385.2 185.3L385.3 186.0L385.5 186.8L385.6 187.4L385.8 188.0L386.0 188.5L386.1 189.0L386.3 189.2L386.4 189.4L386.6 189.4L386.7 189.2L386.9 188.9L387.1 188.5L387.3 188.0L387.4 187.4L387.6 186.7L387.8 186.0L388.0 185.2L388.1 184.5L388.3 183.7L388.4 182.9L388.6 182.2L388.7 181.6L388.8 181.0L388.9 180.4L389.0 179.8L389.1 179.2L389.2 178.6L389.3 178.0L389.4 177.4L389.5 176.8L389.6 176.3L389.6 175.7L389.7 175.1L389.8 174.5L389.9 173.9L390.0 173.3L390.0 172.7L390.1 172.1L390.2 171.5L390.2 170.9L390.3 170.3L390.4 169.7L390.5 169.1L390.5 168.5L390.6 167.9L390.7 167.3L390.8 166.7L390.8 166.1L390.9 165.5L391.0 164.9L391.1 164.3L391.2 163.7L391.3 163.1L391.3 162.5L391.4 161.9L391.5 161.3L391.5 160.6L391.6 160.0L391.7 159.4L391.7 158.8L391.8 158.1L391.9 157.5L391.9 156.9L392.0 156.3L392.1 155.7L392.2 155.1L392.3 154.5L392.4 153.9L392.5 153.4L392.6 152.8L392.8 152.3L392.9 151.8L393.1 151.3L393.3 150.7L393.7 150.2L394.2 149.6L394.6 149.1L395.1 148.9L395.5 148.8L395.9 149.0L396.4 149.4L396.8 149.9L397.2 150.5L397.5 151.1L397.9 151.6L398.3 152.1L398.6 152.6L399.0 153.1L399.3 153.6L399.6 154.1L400.0 154.6L400.3 155.2L400.6 155.7L400.8 156.2L401.1 156.7L401.3 157.3L401.6 157.8L401.8 158.4L402.0 158.9L402.2 159.5L402.4 160.1L402.6 160.7L402.8 161.2L403.0 161.8L403.2 162.4L403.3 163.0L403.5 163.5L403.6 164.1L403.8 164.7L403.9 165.3L404.0 165.9L404.1 166.5L404.3 167.0L404.4 167.6L404.5 168.2L404.7 168.8L404.8 169.4L404.9 170.0L405.0 170.6L405.2 171.1L405.3 171.7L405.4 172.3L405.6 172.9L405.7 173.5L405.8 174.1L406.0 174.7L406.1 175.3L406.2 175.8L406.3 176.4L406.4 177.0L406.5 177.6L406.7 178.2L406.8 178.8L406.9 179.4L407.1 179.9L407.2 180.5L407.4 181.2L407.5 181.7L407.7 182.3L408.0 182.8L408.3 183.4L408.7 183.8L409.3 183.8L409.7 183.6L409.9 183.1L410.2 182.3L410.4 181.7L410.6 181.2L410.9 180.6L411.1 180.1L411.4 179.5L411.5 179.0L411.7 178.3L411.8 177.7L411.9 177.1L412.1 176.5L412.4 176.1L412.9 175.7L413.5 175.4L414.0 175.3L414.3 175.4L414.5 175.8L414.7 176.3L414.9 177.0L415.1 177.7L415.3 178.4L415.4 179.2L415.6 179.8L415.7 180.4L415.8 181.0L416.0 181.6L416.1 182.2L416.2 182.8L416.3 183.4L416.4 184.0L416.5 184.6L416.6 185.1L416.7 185.7L416.7 186.3L416.8 186.9L416.9 187.5L417.0 188.1L417.0 188.7L417.1 189.3L417.2 189.9L417.3 190.5L417.4 191.1L417.4 191.7L417.5 192.3L417.6 192.9L417.7 193.5L417.8 194.1L417.9 194.7L418.0 195.3L418.0 195.8L418.1 196.4L418.2 197.0L418.3 197.6L418.4 198.2L418.5 198.8L418.6 199.4L418.6 200.0L418.7 200.6L418.8 201.2L418.9 201.8L419.0 202.4L419.1 203.0L419.2 203.6L419.2 204.2L419.3 204.8L419.4 205.4L419.5 205.9L419.6 206.5L419.6 207.1L419.7 207.7L419.8 208.3L419.9 208.9L420.0 209.5L420.0 210.1L420.1 210.7L420.2 211.3L420.3 211.9L420.3 212.5L420.4 213.1L420.5 213.7L420.6 214.3L420.7 214.9L420.7 215.5L420.8 216.1L420.9 216.7L421.0 217.2L421.1 217.8L421.1 218.4L421.2 219.0L421.3 219.6L421.4 220.2L421.5 220.8L421.6 221.4L421.6 222.0L421.7 222.6L421.8 223.2L421.9 223.8L422.0 224.4L422.0 225.0L422.1 225.6L422.2 226.2L422.3 226.8L422.4 227.4L422.5 227.9L422.6 228.5L422.7 229.1L422.8 229.7L422.9 230.3L423.0 230.9L423.1 231.5L423.2 232.1L423.3 232.7L423.4 233.3L423.6 233.8L423.7 234.4L423.8 235.0L424.0 235.6L424.1 236.2L424.3 236.8L424.4 237.3L424.6 237.9L424.7 238.5L424.9 239.1L425.1 239.6L425.3 240.2L425.5 240.8L425.7 241.4L425.9 241.9L426.1 242.5L426.3 243.0L426.5 243.6L426.7 244.2L426.9 244.7L427.1 245.3L427.3 245.9L427.4 246.4L427.6 247.0L427.8 247.6L428.0 248.2L428.2 248.7L428.4 249.3L428.6 249.9L428.7 250.5L428.9 251.0L429.1 251.6L429.2 252.2L429.4 252.8L429.5 253.3L429.7 253.9L429.8 254.5L430.0 255.1L430.1 255.7L430.3 256.2L430.4 256.8L430.6 257.4L430.7 258.0L430.9 258.6L431.0 259.2L431.1 259.7L431.3 260.3L431.4 260.9L431.5 261.5L431.7 262.1L431.8 262.7L431.9 263.3L432.1 263.8L432.2 264.4L432.3 265.0L432.4 265.6L432.5 266.2L432.6 266.8L432.8 267.4L432.9 268.0L433.0 268.5L433.2 269.1L433.4 269.8L433.6 270.6L433.8 271.3L434.0 272.0L434.2 272.7L434.5 273.2L434.7 273.6L434.9 273.8L435.1 273.8L435.4 273.5L435.6 273.1L435.9 272.5L436.1 271.8L436.4 271.1L436.6 270.3L436.7 269.6L436.9 269.0L436.9 268.4L437.0 267.8L437.1 267.2L437.1 266.6L437.2 266.0L437.2 265.4L437.2 264.8L437.3 264.2L437.3 263.6L437.4 263.0L437.4 262.4L437.5 261.8L437.6 261.2L437.7 260.6L437.8 260.0L437.8 259.4L437.9 258.8L438.0 258.2L438.1 257.6L438.2 257.0L438.3 256.4L438.4 255.9L438.5 255.3L438.5 254.7L438.6 254.1L438.7 253.5L438.8 252.9L438.8 252.3L438.9 251.7L439.0 251.1L439.1 250.5L439.1 249.9L439.2 249.3L439.3 248.7L439.4 248.1L439.5 247.5L439.5 246.9L439.6 246.3L439.7 245.7L439.8 245.1L439.9 244.5L439.9 244.0L440.0 243.4L440.1 242.8L440.2 242.2L440.3 241.6L440.4 241.0L440.5 240.4L440.6 239.8L440.7 239.2L440.7 238.6L440.8 238.0L440.9 237.4L441.0 236.8L441.1 236.2L441.2 235.6L441.3 235.1L441.4 234.5L441.5 233.9L441.6 233.3L441.7 232.7L441.8 232.1L441.9 231.5L442.0 230.9L442.1 230.3L442.2 229.7L442.3 229.1L442.5 228.6L442.6 228.0L442.7 227.4L442.8 226.8L442.9 226.2L443.0 225.6L443.2 225.0L443.3 224.4L443.4 223.9L443.5 223.3L443.6 222.7L443.8 222.1L443.9 221.5L444.0 220.9L444.1 220.3L444.2 219.7L444.4 219.1L444.5 218.6L444.6 218.0L444.7 217.4L444.8 216.8L444.9 216.2L445.0 215.6L445.1 215.0L445.2 214.4L445.4 213.8L445.5 213.3L445.6 212.7L445.7 212.1L445.8 211.5L445.9 210.9L446.0 210.3L446.2 209.7L446.3 209.1L446.4 208.5L446.5 208.0L446.7 207.4L446.8 206.8L446.9 206.2L447.0 205.6L447.2 205.0L447.3 204.4L447.4 203.9L447.5 203.3L447.6 202.7L447.7 202.1L447.8 201.5L447.9 200.9L447.9 200.3L448.0 199.7L448.1 199.1L448.1 198.5L448.2 197.9L448.3 197.3L448.3 196.7L448.4 196.1L448.5 195.5L448.5 194.9L448.6 194.3L448.7 193.7L448.7 193.1L448.8 192.5L448.8 191.9L448.9 191.3L449.0 190.7L449.0 190.1L449.1 189.6L449.2 189.0L449.2 188.4L449.3 187.8L449.4 187.2L449.4 186.6L449.5 186.0L449.6 185.4L449.6 184.8L449.7 184.2L449.8 183.6L449.9 183.0L449.9 182.4L450.0 181.8L450.1 181.2L450.2 180.6L450.2 180.0L450.3 179.4L450.4 178.8L450.5 178.2L450.5 177.6L450.6 177.0L450.7 176.5L450.8 175.9L450.9 175.3L451.0 174.7L451.0 174.1L451.1 173.5L451.2 172.9L451.3 172.3L451.4 171.7L451.4 171.1L451.5 170.5L451.6 169.9L451.7 169.3L451.8 168.7L451.9 168.1L452.0 167.5L452.1 166.9L452.2 166.4L452.2 165.8L452.3 165.2L452.4 164.6L452.5 164.0L452.6 163.4L452.7 162.8L452.8 162.2L452.9 161.6L453.0 161.0L453.1 160.4L453.1 159.8L453.2 159.2L453.3 158.6L453.4 158.0L453.5 157.5L453.6 156.9L453.7 156.3L453.7 155.7L453.8 155.1L453.9 154.5L454.0 153.9L454.1 153.3L454.2 152.7L454.2 152.1L454.3 151.5L454.4 150.9L454.5 150.3L454.6 149.7L454.7 149.1L454.7 148.5L454.8 147.9L454.9 147.4L455.0 146.8L455.0 146.2L455.1 145.6L455.2 145.0L455.3 144.4L455.4 143.8L455.4 143.2L455.5 142.6L455.6 142.0L455.7 141.4L455.7 140.8L455.8 140.2L455.9 139.6L455.9 139.0L456.0 138.4L456.1 137.8L456.1 137.2L456.2 136.6L456.3 136.0L456.3 135.4L456.4 134.8L456.4 134.2L456.5 133.6L456.5 133.0L456.6 132.4L456.6 131.9L456.7 131.3L456.7 130.7L456.8 130.1L456.8 129.5L456.9 128.9L456.9 128.3L456.9 127.7L457.0 127.1L457.0 126.5L457.1 125.9L457.1 125.3L457.2 124.7L457.2 124.1L457.3 123.5L457.3 122.9L457.4 122.3L457.4 121.7L457.5 121.1L457.5 120.5L457.5 119.9L457.6 119.3L457.6 118.7L457.7 118.1L457.7 117.5L457.8 116.9L457.8 116.3L457.9 115.7L457.9 115.1L458.0 114.5L458.0 113.9L458.1 113.3L458.1 112.7L458.2 112.1L458.2 111.5L458.3 110.9L458.3 110.3L458.4 109.7L458.4 109.1L458.5 108.5L458.5 107.9L458.6 107.3L458.6 106.7L458.7 106.1L458.7 105.5L458.8 104.9L458.8 104.3L458.9 103.7L458.9 103.1L458.9 102.5L459.0 101.9L459.0 101.3L459.0 100.7L459.0 100.1L459.1 99.5L459.1 98.9L459.1 98.3L459.1 97.7L459.2 97.1L459.2 96.5L459.2 95.9L459.2 95.3L459.3 94.7L459.3 94.1L459.3 93.5L459.4 92.9L459.4 92.3L459.4 91.7L459.5 91.1L459.5 90.5L459.6 90.0L459.6 89.4L459.7 88.7L459.8 88.0L459.8 87.3L459.9 86.5L460.0 85.8L460.1 85.0L460.2 84.2L460.4 83.4L460.5 82.7L460.6 81.9L460.7 81.2L460.9 80.6L461.0 79.9L461.1 79.4L461.2 78.9L461.4 78.5L461.5 78.2L461.6 77.9L461.7 77.8L461.8 77.8L462.0 77.9L462.1 78.1L462.2 78.4L462.3 78.8L462.5 79.3L462.6 79.8L462.7 80.4L462.9 81.1L463.0 81.8L463.1 82.5L463.3 83.3L463.4 84.0L463.5 84.8L463.6 85.6L463.7 86.4L463.8 87.1L463.9 87.9L464.0 88.6L464.1 89.2L464.1 89.8L464.2 90.4L464.2 91.0L464.3 91.6L464.3 92.2L464.4 92.8L464.4 93.4L464.4 94.0L464.5 94.6L464.5 95.2L464.5 95.8L464.6 96.4L464.6 97.0L464.6 97.6L464.7 98.2L464.7 98.8L464.7 99.4L464.7 100.0L464.8 100.6L464.8 101.2L464.8 101.8L464.9 102.4L464.9 103.0L465.0 103.6L465.0 104.2L465.0 104.8L465.1 105.4L465.1 106.0L465.2 106.6L465.2 107.2L465.3 107.8L465.4 108.4L465.4 109.0L465.5 109.6L465.5 110.2L465.6 110.8L465.7 111.4L465.7 112.0L465.8 112.6L465.8 113.1L465.9 113.7L466.0 114.3L466.0 114.9L466.1 115.5L466.1 116.1L466.2 116.7L466.2 117.3L466.3 117.9L466.3 118.5L466.4 119.1L466.4 119.7L466.4 120.3L466.5 120.9L466.5 121.5L466.6 122.1L466.6 122.7L466.7 123.3L466.7 123.9L466.8 124.5L466.8 125.1L466.9 125.7L466.9 126.3L467.0 126.9L467.0 127.5L467.1 128.1L467.1 128.7L467.2 129.3L467.2 129.9L467.2 130.5L467.3 131.1L467.3 131.7L467.4 132.3L467.4 132.9L467.5 133.5L467.5 134.1L467.6 134.7L467.6 135.3L467.7 135.9L467.7 136.5L467.8 137.1L467.9 137.7L467.9 138.3L468.0 138.9L468.0 139.5L468.1 140.1L468.1 140.7L468.2 141.2L468.3 141.8L468.3 142.4L468.4 143.0L468.5 143.6L468.5 144.2L468.6 144.8L468.6 145.4L468.7 146.0L468.8 146.6L468.8 147.2L468.9 147.8L468.9 148.4L469.0 149.0L469.1 149.6L469.1 150.2L469.2 150.8L469.2 151.4L469.3 152.0L469.3 152.7L469.3 153.3L469.4 153.9L469.4 154.5L469.5 155.1L469.5 155.7L469.6 156.3L469.6 156.9L469.7 157.5L469.8 158.1L469.8 158.7L469.9 159.3L470.0 159.9L470.0 160.5L470.1 161.1L470.2 161.6L470.3 162.2L470.4 162.8L470.5 163.4L470.6 163.9L470.8 164.6L471.1 165.3L471.3 166.0L471.7 166.5L472.0 166.8L472.3 166.9L472.7 166.4L473.1 165.8L473.5 165.2L474.0 165.0L474.6 165.0L475.2 165.0L475.7 165.0L476.1 165.2L476.3 165.6L476.6 166.1L476.8 166.7L477.0 167.4L477.1 168.2L477.3 168.9L477.5 169.6L477.6 170.2L477.8 170.8L478.0 171.4L478.2 172.0L478.3 172.5L478.5 173.1L478.6 173.7L478.8 174.3L478.9 174.9L479.1 175.4L479.2 176.0L479.4 176.6L479.5 177.2L479.6 177.8L479.8 178.4L479.9 179.0L480.0 179.5L480.2 180.1L480.3 180.7L480.4 181.3L480.5 181.9L480.6 182.5L480.8 183.1L480.9 183.7L481.0 184.2L481.1 184.8L481.2 185.4L481.3 186.0L481.4 186.6L481.5 187.2L481.6 187.8L481.7 188.4L481.8 189.0L481.9 189.6L482.0 190.2L482.1 190.7L482.2 191.3L482.3 191.9L482.4 192.5L482.5 193.1L482.5 193.7L482.6 194.3L482.7 194.9L482.8 195.5L482.9 196.1L483.0 196.7L483.1 197.3L483.1 197.9L483.2 198.5L483.3 199.1L483.4 199.7L483.5 200.2L483.6 200.8L483.7 201.4L483.8 202.0L483.9 202.6L484.0 203.2L484.0 203.8L484.1 204.4L484.2 205.0L484.3 205.6L484.4 206.2L484.5 206.8L484.6 207.4L484.7 208.0L484.7 208.6L484.8 209.1L484.9 209.7L485.0 210.3L485.1 210.9L485.2 211.5L485.3 212.1L485.4 212.7L485.5 213.3L485.6 213.9L485.7 214.5L485.8 215.1L485.9 215.7L486.1 216.2L486.2 216.8L486.3 217.4L486.4 218.0L486.5 218.6L486.7 219.2L486.8 219.8L486.9 220.4L487.1 220.9L487.2 221.5L487.4 222.1L487.5 222.7L487.7 223.4L487.8 224.2L488.0 224.9L488.2 225.7L488.3 226.4L488.5 227.0L488.8 227.5L489.0 227.8L489.3 228.0L489.7 227.8L490.1 227.4L490.3 226.9L490.5 226.3L490.7 225.7L490.9 225.1L491.0 224.5L491.2 223.9L491.4 223.3L491.5 222.8L491.7 222.2L491.9 221.6L492.0 221.0L492.2 220.4L492.3 219.9L492.5 219.3L492.6 218.7L492.7 218.1L492.8 217.5L492.9 216.9L493.1 216.3L493.2 215.8L493.3 215.2L493.4 214.6L493.5 214.0L493.6 213.4L493.7 212.8L493.8 212.2L493.9 211.6L494.0 211.0L494.1 210.4L494.2 209.8L494.3 209.2L494.4 208.7L494.5 208.1L494.6 207.5L494.6 206.9L494.7 206.3L494.8 205.7L494.9 205.1L495.0 204.5L495.1 203.9L495.2 203.3L495.3 202.7L495.3 202.1L495.4 201.5L495.5 200.9L495.6 200.4L495.7 199.8L495.8 199.2L495.9 198.6L496.0 198.0L496.1 197.4L496.2 196.8L496.3 196.2L496.4 195.6L496.5 195.0L496.6 194.4L496.6 193.8L496.7 193.2L496.8 192.6L496.9 192.0L497.0 191.5L497.0 190.9L497.1 190.3L497.2 189.7L497.3 189.1L497.3 188.5L497.4 187.9L497.5 187.3L497.5 186.7L497.6 186.1L497.7 185.5L497.7 184.9L497.8 184.3L497.9 183.7L497.9 183.1L498.0 182.5L498.0 181.9L498.1 181.3L498.2 180.7L498.2 180.1L498.3 179.5L498.4 178.9L498.4 178.3L498.5 177.7L498.6 177.1L498.6 176.5L498.7 175.9L498.8 175.4L498.8 174.8L498.9 174.2L499.0 173.6L499.1 173.0L499.2 172.4L499.3 171.8L499.4 171.2L499.5 170.6L499.6 170.0L499.7 169.4L499.8 168.8L499.9 168.2L499.9 167.6L500.0 167.0L500.0 166.4L500.1 165.8L500.1 165.1L500.2 164.5L500.2 163.9L500.3 163.3L500.3 162.7L500.4 162.2L500.5 161.6L500.6 161.1L501.0 160.5L501.4 159.9L501.8 159.5L502.2 159.4L502.5 159.7L502.9 160.2L503.2 160.8L503.4 161.5L503.7 162.2L503.8 162.8L503.9 163.3L504.1 163.9L504.2 164.5L504.3 165.1L504.3 165.7L504.4 166.3L504.5 166.9L504.6 167.5L504.6 168.1L504.7 168.7L504.8 169.3L504.9 169.9L505.0 170.5L505.0 171.1L505.1 171.7L505.2 172.3L505.3 172.9L505.4 173.5L505.5 174.1L505.5 174.6L505.6 175.2L505.7 175.8L505.8 176.4L505.9 177.0L506.0 177.6L506.1 178.2L506.1 178.8L506.2 179.4L506.3 180.0L506.4 180.6L506.5 181.2L506.6 181.8L506.7 182.4L506.7 183.0L506.8 183.6L506.9 184.2L507.0 184.7L507.1 185.3L507.2 185.9L507.3 186.5L507.3 187.1L507.4 187.7L507.5 188.3L507.6 188.9L507.7 189.5L507.9 190.1L508.0 190.7L508.1 191.3L508.2 191.8L508.4 192.4L508.5 193.0L508.7 193.6L508.8 194.2L509.0 194.8L509.2 195.3L509.6 195.8L510.1 196.2L510.5 196.1L510.9 195.7L511.2 195.1L511.5 194.5L511.8 193.9L512.1 193.3L512.4 192.8L512.8 192.3L513.1 191.8L513.4 191.3L513.7 190.8L514.1 190.3L514.5 189.9L515.0 189.4L515.5 189.2L515.9 189.2L516.2 189.4L516.4 189.8L516.6 190.3L516.8 190.9L517.0 191.6L517.1 192.4L517.2 193.1L517.4 193.9L517.5 194.6L517.6 195.2L517.8 195.8L518.0 196.4L518.1 197.0L518.3 197.6L518.4 198.1L518.6 198.7L518.7 199.3L518.9 199.9L519.0 200.5L519.1 201.1L519.3 201.6L519.4 202.2L519.6 202.8L519.7 203.4L519.9 204.0L520.0 204.5L520.2 205.1L520.4 205.7L520.5 206.3L520.7 206.9L520.8 207.4L521.0 208.0L521.2 208.6L521.3 209.2L521.5 209.7L521.7 210.3L521.8 210.9L522.0 211.5L522.2 212.0L522.3 212.6L522.5 213.2L522.7 213.8L522.9 214.3L523.1 214.9L523.3 215.5L523.5 216.0L523.7 216.6L523.9 217.2L524.1 217.7L524.3 218.3L524.5 218.9L524.7 219.4L524.9 220.0L525.1 220.6L525.3 221.1L525.5 221.7L525.7 222.3L525.9 222.8L526.1 223.4L526.3 224.0L526.5 224.5L526.7 225.1L526.9 225.6L527.1 226.2L527.3 226.8L527.6 227.3L527.8 227.9L528.0 228.4L528.2 229.0L528.4 229.5L528.7 230.1L528.9 230.7L529.2 231.2L529.4 231.8L529.6 232.3L529.9 232.8L530.2 233.4L530.4 233.9L530.7 234.4L531.0 235.0L531.3 235.5L531.5 236.0L531.8 236.6L532.0 237.2L532.1 237.7L532.3 238.3L532.5 238.9L532.7 239.5L532.8 240.0L533.0 240.6L533.1 241.2L533.3 241.8L533.4 242.4L533.6 243.0L533.7 243.5L533.8 244.1L534.0 244.7L534.1 245.3L534.3 245.9L534.4 246.5L534.5 247.0L534.6 247.6L534.8 248.2L534.9 248.8L535.0 249.4L535.1 250.0L535.2 250.6L535.2 251.2L535.3 251.8L535.5 252.4L535.6 253.0L535.7 253.5L535.8 254.1L535.9 254.7L536.0 255.3L536.2 255.9L536.3 256.5L536.4 257.1L536.6 257.7L536.7 258.2L536.8 258.8L537.0 259.4L537.1 260.0L537.3 260.6L537.4 261.1L537.6 261.7L537.7 262.3L537.8 262.9L537.9 263.5L538.0 264.1L538.2 264.7L538.3 265.2L538.6 265.8L539.0 266.4L539.4 267.0L539.8 267.6L540.3 268.1L540.7 268.5L541.1 268.7L541.5 268.8L541.7 268.6L542.0 268.2L542.2 267.5L542.4 266.8L542.7 266.1L542.9 265.4L543.2 264.9L543.5 264.3L543.8 263.8L544.1 263.3L544.3 262.8L544.6 262.2L544.8 261.6L545.0 261.1L545.2 260.5L545.4 259.9L545.6 259.4L545.8 258.8L546.0 258.3L546.2 257.7L546.4 257.1L546.6 256.5L546.8 256.0L547.0 255.4L547.2 254.9L547.4 254.3L547.7 253.8L547.9 253.2L548.2 252.7L548.4 252.1L548.7 251.6L548.9 251.0L549.2 250.5L549.4 249.9L549.7 249.4L549.9 248.8L550.1 248.3L550.4 247.7L550.7 247.2L550.9 246.6L551.2 245.9L551.5 245.2L551.8 244.5L552.1 243.9L552.4 243.5L552.7 243.2L553.0 243.1L553.3 243.3L553.7 243.7L554.0 244.3L554.4 244.9L554.7 245.6L555.0 246.2L555.2 246.7L555.3 247.3L555.5 247.9L555.7 248.5L555.9 249.0L556.1 249.6L556.3 250.2L556.5 250.7L556.8 251.3L557.0 251.8L557.3 252.4L557.6 252.9L558.0 253.4L558.4 253.8L558.9 254.0L559.5 254.3L560.1 254.4L560.7 254.5L561.3 254.7L561.9 254.8L562.4 255.0L562.9 255.4L563.4 255.5L563.8 255.2L564.2 254.6L564.5 254.0L564.8 253.5L565.0 252.9L565.2 252.4L565.4 251.8L565.6 251.2L565.7 250.6L565.9 250.0L566.1 249.5L566.2 248.9L566.4 248.3L566.5 247.7L566.7 247.1L566.9 246.6L567.1 246.0L567.3 245.4L567.6 244.6L567.8 243.9L568.1 243.3L568.4 242.7L568.7 242.2L568.9 241.9L569.2 241.9L569.4 242.1L569.7 242.4L569.9 242.9L570.2 243.5L570.4 244.2L570.6 244.9L570.9 245.7L571.1 246.4L571.3 247.1L571.5 247.7L571.6 248.2L571.8 248.8L571.9 249.4L572.1 250.0L572.2 250.5L572.4 251.1L572.5 251.7L572.6 252.3L572.8 252.9L572.9 253.5L573.0 254.1L573.2 254.7L573.3 255.2L573.4 255.8L573.6 256.4L573.8 257.0L573.9 257.6L574.1 258.2L574.3 258.8L574.4 259.6L574.6 260.3L574.8 261.0L574.9 261.8L575.1 262.5L575.3 263.2L575.5 263.9L575.7 264.5L575.9 265.0L576.1 265.5L576.4 265.8L576.6 266.1L576.9 266.2L577.2 266.1L577.7 265.9L578.2 265.4L578.7 264.9L579.2 264.3L579.5 263.8L579.7 263.3L579.9 262.8L580.0 262.3L580.2 261.7L580.3 261.2L580.4 260.6L580.5 260.0L580.6 259.4L580.7 258.8L580.8 258.1L580.9 257.5L581.0 256.9L581.1 256.3L581.2 255.6L581.3 255.0L581.4 254.4L581.5 253.8L581.7 253.2L581.8 252.7L581.9 252.1L582.0 251.5L582.2 250.9L582.3 250.3L582.4 249.7L582.5 249.1L582.7 248.5L582.8 248.0L582.9 247.4L583.1 246.8L583.2 246.2L583.4 245.6L583.5 245.0L583.7 244.5L583.9 243.9L584.0 243.3L584.2 242.8L584.4 242.2L584.6 241.6L584.8 241.1L585.0 240.5L585.3 240.0L585.5 239.4L585.7 238.8L585.9 238.3L586.2 237.7L586.4 237.2L586.6 236.6L586.8 236.2" fill="none" stroke="#000" stroke-width="2.2" stroke-linejoin="round" stroke-linecap="round"/>
<path d="M108.4 242.6L108.9 242.9L109.5 243.2L110.1 243.5L110.6 243.8L111.1 244.1L111.5 244.5L111.7 244.9L112.0 245.4L112.2 246.0L112.4 246.6L112.6 247.2L112.8 247.8L113.0 248.4L113.2 249.0L113.4 249.5L113.6 250.1L113.8 250.7L114.0 251.2L114.2 251.8L114.4 252.4L114.7 252.9L114.9 253.4L115.2 253.9L115.6 254.5L116.0 255.0L116.4 255.4L116.8 255.8L117.3 256.1L117.9 256.4L118.4 256.6L118.9 257.0L119.3 257.4L119.7 257.8L120.1 258.3L120.4 258.8L120.8 259.3L121.1 259.8L121.3 260.4L121.6 261.1L121.8 261.8L122.0 262.5L122.2 263.2L122.4 263.8L122.7 264.3L123.0 264.6L123.3 264.8L123.9 264.8L124.5 264.8L125.2 264.8L125.2 264.8L125.3 264.7L125.4 264.5L125.4 264.3L125.4 264.0L125.5 263.7L125.5 263.3L125.5 262.9L125.6 262.4L125.6 261.9L125.6 261.3L125.7 260.7L125.7 260.1L125.7 259.4L125.7 258.7L125.7 258.0L125.7 257.3L125.7 256.5L125.8 255.8L125.8 255.0L125.8 254.2L125.8 253.4L125.8 252.6L125.8 251.8L125.8 251.0L125.8 250.2L125.8 249.4L125.9 248.7L125.9 247.9L125.9 247.2L125.9 246.5L125.9 245.8L125.9 245.1L125.9 244.5L126.0 243.9L126.0 243.3L126.0 242.7L126.0 242.1L126.1 241.5L126.1 240.9L126.1 240.3L126.1 239.7L126.1 239.1L126.2 238.5L126.2 237.9L126.2 237.3L126.2 236.7L126.2 236.1L126.3 235.5L126.3 234.9L126.3 234.3L126.3 233.7L126.3 233.1L126.4 232.5L126.4 231.9L126.4 231.3L126.4 230.7L126.4 230.1L126.5 229.5L126.5 228.9L126.5 228.3L126.5 227.7L126.5 227.1L126.6 226.5L126.6 225.9L126.6 225.3L126.6 224.7L126.6 224.1L126.7 223.5L126.7 222.9L126.7 222.3L126.7 221.7L126.8 221.1L126.8 220.5L126.8 219.9L126.8 219.3L126.8 218.7L126.9 218.1L126.9 217.5L126.9 216.9L126.9 216.3L127.0 215.7L127.0 215.1L127.0 214.5L127.0 213.9L127.1 213.3L127.1 212.7L127.1 212.1L127.1 211.5L127.2 210.9L127.2 210.3L127.2 209.7L127.2 209.1L127.2 208.5L127.3 207.9L127.3 207.3L127.3 206.7L127.3 206.1L127.4 205.5L127.4 204.9L127.4 204.3L127.4 203.7L127.5 203.1L127.5 202.5L127.5 201.9L127.5 201.3L127.6 200.7L127.6 200.1L127.6 199.5L127.6 198.9L127.7 198.3L127.7 197.7L127.7 197.0L127.7 196.4L127.8 195.7L127.8 195.1L127.8 194.4L127.8 193.7L127.9 193.0L127.9 192.3L127.9 191.6L127.9 190.9L128.0 190.2L128.0 189.5L128.0 188.8L128.0 188.0L128.1 187.3L128.1 186.6L128.1 185.8L128.1 185.1L128.2 184.3L128.2 183.6L128.2 182.8L128.2 182.0L128.3 181.2L128.3 180.5L128.3 179.7L128.3 178.9L128.3 178.1L128.4 177.3L128.4 176.5L128.4 175.8L128.4 175.0L128.5 174.2L128.5 173.4L128.5 172.6L128.5 171.8L128.6 171.0L128.6 170.2L128.6 169.4L128.6 168.6L128.7 167.8L128.7 167.0L128.7 166.2L128.7 165.4L128.8 164.6L128.8 163.8L128.8 163.0L128.8 162.2L128.9 161.4L128.9 160.6L128.9 159.9L128.9 159.1L129.0 158.3L129.0 157.5L129.0 156.8L129.0 156.0L129.1 155.2L129.1 154.5L129.1 153.7L129.1 153.0L129.2 152.2L129.2 151.5L129.2 150.7L129.2 150.0L129.3 149.3L129.3 148.6L129.3 147.9L129.3 147.2L129.4 146.5L129.4 145.8L129.4 145.1L129.4 144.4L129.5 143.8L129.5 143.1L129.5 142.4L129.5 141.8L129.6 141.2L129.6 140.5L129.6 139.9L129.6 139.3L129.7 138.7L129.7 138.1L129.7 137.6L129.7 137.0L129.8 136.4L129.8 135.9L129.8 135.3L129.8 134.8L129.9 134.3L129.9 133.8L129.9 133.3L129.9 132.8L130.0 132.4L130.0 131.9L130.0 131.5L130.0 131.1L130.1 130.6L130.1 130.2L130.1 129.9L130.1 129.5L130.2 129.1L130.2 128.8L130.2 128.5L130.2 128.1L130.3 127.8L130.3 127.6L130.3 127.3L130.3 127.0L130.4 126.8L130.4 126.6L130.4 126.4L130.4 126.2L130.5 126.0L130.5 125.9L130.5 125.7L130.5 125.6L130.6 125.5L130.6 125.4L130.6 125.4L130.7 125.3L130.7 125.3L130.7 125.3L130.7 125.3L130.8 125.3L130.8 125.4L130.8 125.5L130.8 125.6L130.9 125.7L130.9 125.8L130.9 125.9L130.9 126.1L131.0 126.3L131.0 126.4L131.0 126.7L131.1 126.9L131.1 127.1L131.1 127.4L131.1 127.6L131.2 127.9L131.2 128.2L131.2 128.6L131.3 128.9L131.3 129.2L131.3 129.6L131.3 130.0L131.4 130.4L131.4 130.8L131.4 131.2L131.5 131.6L131.5 132.1L131.5 132.5L131.5 133.0L131.6 133.5L131.6 134.0L131.6 134.5L131.7 135.0L131.7 135.5L131.7 136.0L131.7 136.6L131.8 137.2L131.8 137.7L131.8 138.3L131.9 138.9L131.9 139.5L131.9 140.1L132.0 140.7L132.0 141.4L132.0 142.0L132.0 142.6L132.1 143.3L132.1 144.0L132.1 144.6L132.2 145.3L132.2 146.0L132.2 146.7L132.3 147.4L132.3 148.1L132.3 148.8L132.3 149.5L132.4 150.2L132.4 151.0L132.4 151.7L132.5 152.4L132.5 153.2L132.5 153.9L132.6 154.7L132.6 155.5L132.6 156.2L132.6 157.0L132.7 157.8L132.7 158.5L132.7 159.3L132.8 160.1L132.8 160.9L132.8 161.7L132.8 162.5L132.9 163.2L132.9 164.0L132.9 164.8L133.0 165.6L133.0 166.4L133.0 167.2L133.0 168.0L133.1 168.8L133.1 169.6L133.1 170.4L133.2 171.2L133.2 172.0L133.2 172.8L133.2 173.6L133.3 174.4L133.3 175.2L133.3 176.0L133.4 176.8L133.4 177.6L133.4 178.4L133.4 179.1L133.5 179.9L133.5 180.7L133.5 181.5L133.6 182.2L133.6 183.0L133.6 183.8L133.6 184.5L133.7 185.3L133.7 186.0L133.7 186.8L133.7 187.5L133.8 188.3L133.8 189.0L133.8 189.7L133.8 190.4L133.9 191.1L133.9 191.8L133.9 192.5L133.9 193.2L134.0 193.9L134.0 194.6L134.0 195.3L134.0 195.9L134.1 196.6L134.1 197.2L134.1 197.9L134.1 198.5L134.2 199.1L134.2 199.7L134.2 200.3L134.2 200.9L134.3 201.5L134.3 202.1L134.3 202.7L134.3 203.3L134.3 203.9L134.4 204.5L134.4 205.1L134.4 205.7L134.4 206.3L134.4 206.9L134.5 207.5L134.5 208.1L134.5 208.7L134.5 209.3L134.5 209.9L134.6 210.5L134.6 211.1L134.6 211.7L134.6 212.3L134.7 212.9L134.7 213.5L134.7 214.1L134.7 214.7L134.7 215.3L134.8 215.9L134.8 216.5L134.8 217.1L134.8 217.7L134.8 218.3L134.9 218.9L134.9 219.5L134.9 220.1L134.9 220.7L134.9 221.3L135.0 221.9L135.0 222.5L135.0 223.1L135.0 223.7L135.0 224.3L135.0 224.9L135.1 225.5L135.1 226.1L135.1 226.7L135.1 227.3L135.2 227.9L135.2 228.5L135.2 229.1L135.2 229.7L135.3 230.3L135.3 230.9L135.3 231.5L135.4 232.1L135.4 232.7L135.5 233.4L135.5 234.1L135.6 234.9L135.7 235.7L135.8 236.5L135.9 237.2L136.0 237.9L136.1 238.5L136.2 239.0L136.4 239.3L136.5 239.6L136.6 239.6L136.8 239.4L137.0 239.0L137.2 238.4L137.4 237.7L137.6 237.0L137.8 236.2L138.1 235.5L138.3 234.9L138.6 234.4L139.0 233.8L139.3 233.1L139.7 232.5L140.1 231.9L140.5 231.3L140.9 230.9L141.2 230.7L141.4 230.6L141.7 230.8L141.9 231.1L142.1 231.6L142.3 232.2L142.5 232.9L142.7 233.7L142.8 234.4L143.0 235.2L143.2 235.8L143.3 236.4L143.5 237.1L143.6 237.8L143.7 238.6L143.9 239.4L144.0 240.1L144.1 240.8L144.3 241.5L144.4 242.0L144.5 242.4L144.6 242.6L144.7 242.6L144.9 242.5L145.0 242.2L145.1 241.8L145.2 241.3L145.3 240.7L145.4 240.1L145.5 239.4L145.6 238.6L145.7 237.8L145.8 237.1L145.8 236.3L145.9 235.5L146.0 234.8L146.1 234.1L146.2 233.5L146.3 232.9L146.4 232.3L146.5 231.7L146.5 231.1L146.6 230.4L146.7 229.8L146.7 229.2L146.8 228.6L146.9 228.0L146.9 227.4L147.0 226.8L147.1 226.1L147.2 225.5L147.3 225.0L147.3 224.4L147.5 223.8L147.6 223.2L147.7 222.7L147.8 222.1L148.0 221.6L148.2 221.0L148.6 220.4L149.0 219.8L149.4 219.4L149.8 219.2L150.2 219.4L150.6 219.8L151.0 220.4L151.4 221.0L151.6 221.6L151.7 222.1L151.9 222.7L152.0 223.2L152.1 223.8L152.2 224.3L152.3 224.9L152.4 225.5L152.5 226.1L152.6 226.7L152.6 227.3L152.7 227.9L152.8 228.5L152.8 229.1L152.9 229.8L152.9 230.4L153.0 231.0L153.1 231.6L153.1 232.2L153.2 232.8L153.2 233.5L153.3 234.1L153.4 234.7L153.5 235.3L153.5 235.9L153.6 236.5L153.7 237.0L153.7 237.6L153.8 238.2L153.9 238.8L154.0 239.4L154.0 240.0L154.1 240.6L154.2 241.2L154.2 241.8L154.3 242.4L154.4 243.0L154.4 243.6L154.5 244.2L154.6 244.8L154.6 245.4L154.7 246.0L154.8 246.6L154.9 247.2L154.9 247.8L155.0 248.4L155.1 249.0L155.1 249.6L155.2 250.2L155.3 250.8L155.4 251.3L155.4 251.9L155.5 252.5L155.6 253.1L155.6 253.7L155.7 254.3L155.8 254.9L155.8 255.5L155.9 256.1L156.0 256.7L156.1 257.3L156.1 257.9L156.2 258.5L156.3 259.1L156.4 259.7L156.4 260.3L156.5 260.9L156.6 261.5L156.7 262.1L156.7 262.7L156.8 263.3L156.9 263.9L157.0 264.4L157.1 265.0L157.2 265.6L157.2 266.3L157.3 266.9L157.4 267.5L157.5 268.1L157.6 268.7L157.7 269.2L157.8 269.8L157.9 270.4L158.1 271.0L158.2 271.5L158.4 272.1L158.6 272.7L158.9 273.2L159.2 273.7L159.6 274.2L160.0 274.6L160.4 275.0L160.9 275.3L161.4 275.7L162.0 276.0L162.4 276.4L162.9 276.9L163.4 277.4L163.9 277.8L164.4 278.3L164.9 278.6L165.3 278.8L165.6 278.8L165.9 278.6L166.2 278.2L166.5 277.8L166.8 277.2L167.1 276.6L167.3 275.9L167.5 275.2L167.8 274.5L168.0 273.8L168.3 273.1L168.5 272.5L168.7 272.0L168.9 271.3L169.1 270.6L169.3 269.9L169.5 269.2L169.7 268.5L169.9 267.7L170.1 267.0L170.3 266.2L170.5 265.6L170.7 264.9L170.9 264.3L171.1 263.8L171.3 263.3L171.5 263.0L171.7 262.7L172.0 262.5L172.2 262.5L172.5 262.7L172.9 263.0L173.3 263.5L173.7 264.1L174.0 264.8L174.4 265.4L174.7 266.0L174.9 266.6L175.1 267.1L175.3 267.7L175.4 268.3L175.6 268.9L175.7 269.5L175.8 270.1L176.0 270.7L176.1 271.4L176.2 272.0L176.4 272.5L176.5 273.1L176.7 273.7L176.9 274.2L177.1 274.7L177.4 275.2L177.7 275.8L178.1 276.3L178.6 276.8L179.1 277.2L179.6 277.5L180.1 277.5L180.7 277.3L181.3 277.0L181.9 276.7L182.2 276.3L182.4 275.9L182.6 275.5L182.8 275.0L182.9 274.5L183.1 274.0L183.2 273.4L183.3 272.8L183.4 272.2L183.5 271.5L183.6 270.9L183.7 270.2L183.8 269.5L183.8 268.9L183.9 268.2L184.0 267.6L184.1 266.9L184.2 266.3L184.3 265.7L184.4 265.1L184.5 264.5L184.6 263.9L184.7 263.3L184.8 262.8L184.9 262.2L185.0 261.6L185.1 261.0L185.2 260.4L185.3 259.8L185.4 259.2L185.5 258.6L185.6 258.0L185.7 257.4L185.8 256.8L185.9 256.2L186.0 255.6L186.1 255.1L186.2 254.5L186.2 253.9L186.3 253.3L186.4 252.7L186.5 252.1L186.6 251.5L186.7 250.9L186.8 250.3L186.9 249.7L187.0 249.1L187.0 248.5L187.1 247.9L187.2 247.3L187.3 246.7L187.4 246.1L187.5 245.6L187.5 245.0L187.6 244.4L187.7 243.8L187.8 243.2L187.9 242.6L188.0 242.0L188.0 241.4L188.1 240.8L188.2 240.2L188.3 239.6L188.4 239.0L188.5 238.4L188.5 237.8L188.6 237.2L188.7 236.6L188.8 236.0L188.8 235.4L188.9 234.8L189.0 234.2L189.0 233.6L189.1 233.0L189.1 232.4L189.2 231.7L189.3 231.1L189.4 230.5L189.4 229.9L189.5 229.3L189.6 228.7L189.7 228.2L189.8 227.6L189.9 227.0L190.0 226.4L190.2 225.9L190.3 225.3L190.5 224.8L190.8 224.1L191.2 223.5L191.5 223.1L191.7 223.2L192.0 223.5L192.2 224.0L192.4 224.6L192.5 225.4L192.7 226.1L192.8 226.9L192.9 227.5L193.0 228.1L193.1 228.8L193.1 229.5L193.2 230.2L193.3 231.0L193.3 231.8L193.3 232.6L193.4 233.4L193.4 234.2L193.5 234.9L193.5 235.7L193.5 236.4L193.6 237.1L193.6 237.7L193.7 238.3L193.7 238.8L193.8 239.2L193.9 239.5L193.9 239.8L194.0 240.0L194.1 240.0L194.2 239.9L194.4 239.5L194.6 239.0L194.9 238.4L195.1 237.7L195.4 237.0L195.6 236.2L195.9 235.5L196.0 234.9L196.2 234.3L196.3 233.7L196.4 233.1L196.5 232.5L196.6 231.9L196.7 231.3L196.8 230.7L196.9 230.1L196.9 229.5L197.0 228.9L197.1 228.3L197.2 227.7L197.3 227.1L197.5 226.6L197.6 226.0L197.8 225.4L197.9 224.9L198.2 224.3L198.6 223.6L198.9 223.0L199.3 222.6L199.6 222.5L199.8 222.7L200.0 223.1L200.2 223.6L200.3 224.3L200.5 225.0L200.7 225.8L200.8 226.5L200.9 227.2L201.1 227.8L201.2 228.5L201.3 229.2L201.4 229.9L201.5 230.7L201.6 231.4L201.7 232.2L201.7 233.0L201.8 233.8L201.9 234.5L202.0 235.3L202.1 235.9L202.1 236.6L202.2 237.2L202.3 237.7L202.4 238.1L202.6 238.4L202.7 238.7L202.8 238.8L203.0 238.8L203.2 238.6L203.5 238.2L203.8 237.7L204.1 237.1L204.4 236.4L204.7 235.7L205.0 235.0L205.2 234.3L205.4 233.7L205.5 233.2L205.7 232.6L205.8 232.0L205.9 231.4L206.0 230.8L206.1 230.3L206.2 229.7L206.3 229.1L206.4 228.5L206.4 227.9L206.5 227.3L206.6 226.7L206.7 226.1L206.7 225.5L206.8 224.9L206.9 224.2L207.0 223.6L207.0 223.0L207.1 222.4L207.2 221.9L207.3 221.3L207.4 220.7L207.5 220.1L207.6 219.5L207.6 218.9L207.7 218.3L207.8 217.7L207.9 217.1L208.0 216.5L208.1 215.9L208.1 215.3L208.2 214.7L208.3 214.1L208.4 213.5L208.5 212.9L208.6 212.3L208.7 211.8L208.8 211.2L208.9 210.6L209.0 210.0L209.1 209.4L209.2 208.8L209.3 208.2L209.4 207.6L209.5 207.0L209.6 206.4L209.8 205.9L209.9 205.3L210.0 204.7L210.1 204.1L210.2 203.5L210.3 202.9L210.4 202.3L210.5 201.7L210.6 201.0L210.7 200.3L210.8 199.6L210.9 198.8L211.0 198.0L211.1 197.3L211.2 196.5L211.2 195.7L211.3 194.9L211.4 194.1L211.5 193.4L211.6 192.7L211.6 192.0L211.7 191.3L211.8 190.7L211.9 190.1L212.0 189.6L212.1 189.2L212.1 188.8L212.2 188.5L212.3 188.3L212.4 188.1L212.5 188.1L212.6 188.1L212.7 188.3L212.8 188.5L212.9 188.7L213.0 189.1L213.1 189.5L213.2 189.9L213.4 190.4L213.5 190.9L213.6 191.5L213.7 192.2L213.8 192.8L213.9 193.5L214.1 194.2L214.2 195.0L214.3 195.8L214.4 196.5L214.5 197.3L214.6 198.1L214.7 198.9L214.8 199.7L214.9 200.4L215.0 201.2L215.1 202.0L215.2 202.7L215.2 203.4L215.3 204.0L215.4 204.7L215.4 205.3L215.5 205.9L215.5 206.5L215.6 207.1L215.6 207.7L215.7 208.3L215.7 208.9L215.8 209.5L215.8 210.1L215.8 210.7L215.9 211.3L215.9 211.9L215.9 212.5L216.0 213.1L216.0 213.7L216.0 214.3L216.1 214.9L216.1 215.5L216.1 216.1L216.2 216.7L216.2 217.3L216.2 217.9L216.3 218.5L216.3 219.1L216.3 219.7L216.4 220.3L216.4 220.9L216.4 221.5L216.5 222.0L216.5 222.6L216.5 223.2L216.6 223.8L216.6 224.4L216.6 225.0L216.7 225.6L216.7 226.2L216.8 226.8L216.8 227.4L216.9 228.0L216.9 228.6L216.9 229.2L217.0 229.8L217.0 230.4L217.1 231.0L217.1 231.6L217.1 232.2L217.2 232.8L217.2 233.4L217.3 234.0L217.3 234.6L217.4 235.2L217.4 235.8L217.5 236.4L217.5 237.0L217.6 237.6L217.6 238.2L217.7 238.8L217.7 239.4L217.8 240.0L217.8 240.6L217.9 241.2L218.0 241.8L218.0 242.4L218.1 243.0L218.2 243.6L218.2 244.2L218.3 244.8L218.4 245.4L218.5 246.0L218.5 246.6L218.6 247.2L218.7 247.8L218.8 248.4L218.9 249.0L219.0 249.5L219.1 250.1L219.2 250.7L219.3 251.3L219.4 251.9L219.5 252.5L219.6 253.1L219.7 253.7L219.9 254.3L220.0 254.9L220.1 255.4L220.2 256.0L220.4 256.6L220.5 257.2L220.7 257.7L220.9 258.3L221.1 258.9L221.3 259.4L221.5 260.0L221.7 260.6L221.9 261.1L222.1 261.7L222.4 262.3L222.6 262.8L222.8 263.4L223.0 263.9L223.2 264.5L223.5 265.1L223.7 265.6L223.9 266.2L224.2 266.7L224.4 267.3L224.7 267.8L224.9 268.4L225.2 268.9L225.4 269.5L225.6 270.0L225.8 270.6L226.0 271.1L226.2 271.7L226.3 272.3L226.5 272.9L226.7 273.4L226.8 274.0L227.0 274.6L227.2 275.2L227.3 275.8L227.4 276.4L227.6 276.9L227.7 277.5L227.8 278.1L227.9 278.7L228.1 279.3L228.2 279.9L228.4 280.4L228.6 281.0L228.7 281.6L228.8 282.2L229.0 282.8L229.1 283.4L229.2 283.9L229.4 284.5L229.5 285.1L229.7 285.7L229.9 286.3L230.1 286.8L230.3 287.4L230.6 287.9L230.9 288.4L231.1 289.0L231.3 289.6L231.4 290.1L231.6 290.7L231.8 291.3L231.9 291.9L232.1 292.5L232.3 293.0L232.5 293.6L232.7 294.2L232.9 294.7L233.1 295.3L233.4 295.8L233.6 296.4L233.9 296.9L234.2 297.4L234.6 298.1L234.9 298.6L235.3 299.1L235.8 299.2L236.3 299.1L236.8 298.8L237.4 298.5L238.0 298.2L238.4 297.8L238.8 297.4L239.2 296.9L239.5 296.4L239.8 295.9L240.1 295.3L240.4 294.8L240.7 294.3L241.0 293.7L241.4 293.2L241.7 292.7L242.0 292.2L242.3 291.7L242.6 291.2L242.9 290.7L243.1 290.1L243.4 289.5L243.6 288.9L243.8 288.4L244.0 287.8L244.4 287.4L244.8 286.9L245.3 286.8L245.7 287.2L246.2 287.7L246.6 288.2L247.0 288.7L247.4 289.1L247.8 289.6L248.2 290.0L248.6 290.5L248.9 291.0L249.2 291.5L249.5 292.0L249.8 292.5L250.0 293.1L250.3 293.6L250.5 294.2L250.8 294.7L251.1 295.4L251.4 296.1L251.7 296.7L252.0 297.2L252.3 297.5L252.6 297.4L252.9 297.1L253.2 296.5L253.6 295.9L253.8 295.2L254.1 294.5L254.3 294.0L254.5 293.4L254.6 292.9L254.8 292.3L254.9 291.7L255.1 291.1L255.2 290.5L255.4 289.9L255.5 289.3L255.6 288.8L255.8 288.2L255.9 287.6L256.0 287.0L256.1 286.4L256.2 285.8L256.4 285.2L256.5 284.6L256.6 284.0L256.8 283.5L257.0 282.9L257.2 282.3L257.4 281.7L257.7 281.0L258.0 280.3L258.3 279.8L258.6 279.5L259.0 279.7L259.4 280.2L259.7 280.7L259.9 281.3L260.2 281.8L260.4 282.4L260.6 283.0L260.8 283.5L260.9 284.1L261.1 284.7L261.2 285.3L261.4 285.9L261.5 286.5L261.6 287.0L261.7 287.6L261.8 288.2L261.9 288.8L262.0 289.4L262.1 290.0L262.2 290.6L262.3 291.2L262.4 291.8L262.6 292.4L262.7 293.0L262.8 293.5L263.0 294.1L263.1 294.7L263.3 295.3L263.5 296.0L263.7 296.7L263.8 297.4L264.1 298.1L264.3 298.5L264.7 298.8L265.1 298.8L265.8 298.8L266.4 298.8L266.9 298.8L267.1 298.6L267.3 298.2L267.4 297.6L267.5 296.9L267.6 296.2L267.7 295.4L267.8 294.7L267.9 294.0L268.1 293.5L268.2 292.9L268.3 292.3L268.5 291.7L268.6 291.1L268.8 290.5L268.9 290.0L269.0 289.4L269.1 288.8L269.2 288.2L269.3 287.6L269.4 287.0L269.5 286.4L269.6 285.8L269.7 285.2L269.8 284.6L269.9 284.0L270.0 283.5L270.1 282.9L270.2 282.3L270.3 281.7L270.3 281.1L270.4 280.5L270.5 279.9L270.6 279.3L270.7 278.7L270.8 278.1L270.8 277.5L270.9 276.9L271.0 276.3L271.1 275.7L271.1 275.1L271.2 274.5L271.3 273.9L271.4 273.3L271.4 272.8L271.5 272.2L271.6 271.6L271.7 271.0L271.7 270.4L271.8 269.8L271.9 269.2L271.9 268.6L272.0 268.0L272.1 267.4L272.2 266.8L272.2 266.2L272.3 265.6L272.3 265.0L272.4 264.4L272.5 263.8L272.5 263.2L272.6 262.6L272.7 262.0L272.7 261.4L272.8 260.8L272.9 260.2L272.9 259.6L273.0 259.0L273.1 258.4L273.2 257.9L273.2 257.3L273.3 256.7L273.4 256.1L273.5 255.5L273.5 254.9L273.6 254.3L273.7 253.7L273.7 253.1L273.8 252.5L273.9 251.9L274.0 251.3L274.0 250.7L274.1 250.1L274.2 249.5L274.3 248.9L274.3 248.3L274.4 247.7L274.5 247.1L274.6 246.5L274.7 245.9L274.7 245.3L274.8 244.7L274.9 244.1L275.0 243.5L275.0 242.8L275.1 242.1L275.2 241.5L275.3 240.9L275.4 240.2L275.5 239.6L275.6 239.1L275.7 238.5L275.9 238.1L276.0 237.6L276.3 237.2L276.8 236.8L277.4 236.5L278.0 236.3L278.6 236.1L279.3 236.0L279.9 235.9L280.3 235.8L280.6 235.6L280.8 235.3L281.0 234.9L281.2 234.5L281.3 234.0L281.5 233.4L281.6 232.8L281.8 232.2L281.9 231.5L282.0 230.8L282.1 230.1L282.2 229.4L282.3 228.6L282.4 227.9L282.5 227.2L282.6 226.5L282.7 225.9L282.8 225.3L283.0 224.7L283.1 224.1L283.2 223.5L283.3 222.9L283.4 222.3L283.5 221.7L283.6 221.1L283.7 220.5L283.8 219.9L283.9 219.4L284.0 218.8L284.1 218.2L284.3 217.6L284.4 217.0L284.5 216.4L284.7 215.8L284.8 215.3L285.0 214.7L285.2 214.0L285.4 213.3L285.7 212.6L285.9 211.9L286.2 211.3L286.4 210.9L286.7 210.6L286.9 210.6L287.2 210.8L287.4 211.2L287.7 211.7L287.9 212.3L288.2 213.0L288.4 213.7L288.6 214.4L288.9 215.1L289.1 215.8L289.3 216.4L289.5 217.0L289.7 217.5L289.9 218.1L290.1 218.7L290.2 219.2L290.4 219.8L290.6 220.4L290.7 221.0L290.9 221.6L291.1 222.1L291.2 222.7L291.4 223.3L291.6 223.9L291.8 224.4L292.0 225.0L292.1 225.6L292.3 226.1L292.5 226.7L292.7 227.3L292.9 227.8L293.1 228.4L293.3 229.0L293.5 229.5L293.7 230.1L293.9 230.7L294.1 231.2L294.3 231.8L294.5 232.4L294.7 233.0L294.9 233.5L295.0 234.1L295.2 234.7L295.4 235.2L295.6 235.8L295.8 236.4L296.0 236.9L296.2 237.5L296.4 238.1L296.6 238.6L296.8 239.2L297.0 239.8L297.2 240.3L297.4 240.9L297.7 241.4L297.9 242.0L298.1 242.6L298.3 243.1L298.6 243.7L298.9 244.2L299.2 244.7L299.4 245.3L299.7 245.9L299.8 246.4L299.9 247.0L299.9 247.8L300.0 248.4L300.0 248.5L300.1 248.3L300.2 248.0L300.3 247.5L300.5 247.0L300.7 246.3L300.8 245.6L301.0 244.8L301.2 244.1L301.4 243.3L301.6 242.6L301.7 241.9L301.9 241.3L302.1 240.7L302.2 240.1L302.4 239.5L302.6 238.9L302.7 238.4L302.9 237.8L303.1 237.2L303.3 236.6L303.4 236.1L303.6 235.5L303.8 234.9L303.9 234.3L304.1 233.8L304.3 233.2L304.4 232.6L304.6 232.0L304.8 231.5L304.9 230.9L305.1 230.3L305.3 229.7L305.5 229.2L305.7 228.6L305.8 228.0L306.0 227.3L306.2 226.6L306.4 225.8L306.6 225.1L306.8 224.4L307.0 223.7L307.3 223.1L307.5 222.6L307.8 222.1L308.1 221.8L308.4 221.6L308.7 221.6L309.2 221.9L309.8 222.4L310.3 222.8L310.7 223.0L311.1 222.8L311.3 222.4L311.6 221.9L311.8 221.2L312.0 220.5L312.2 219.8L312.4 219.1L312.6 218.5L312.7 217.9L312.9 217.3L313.0 216.8L313.2 216.2L313.3 215.6L313.4 215.0L313.5 214.4L313.6 213.8L313.7 213.2L313.9 212.6L314.0 212.0L314.1 211.5L314.2 210.9L314.3 210.3L314.4 209.7L314.5 209.1L314.6 208.5L314.7 207.9L314.8 207.3L314.9 206.7L315.0 206.1L315.1 205.5L315.2 205.0L315.3 204.4L315.4 203.8L315.5 203.2L315.6 202.6L315.7 202.0L315.7 201.4L315.8 200.8L315.9 200.2L315.9 199.6L316.0 199.0L316.1 198.4L316.1 197.8L316.2 197.2L316.2 196.6L316.3 196.0L316.4 195.4L316.4 194.8L316.5 194.2L316.6 193.6L316.6 193.0L316.7 192.4L316.8 191.8L316.8 191.2L316.9 190.6L317.0 190.1L317.0 189.5L317.1 188.9L317.1 188.3L317.2 187.7L317.3 187.1L317.3 186.5L317.4 185.9L317.5 185.3L317.5 184.7L317.6 184.1L317.7 183.5L317.7 182.9L317.8 182.3L317.9 181.7L317.9 181.1L318.0 180.5L318.1 179.9L318.1 179.3L318.2 178.7L318.2 178.1L318.3 177.5L318.4 176.9L318.4 176.3L318.5 175.7L318.5 175.1L318.6 174.5L318.7 173.9L318.7 173.3L318.8 172.7L318.8 172.1L318.9 171.5L318.9 170.9L319.0 170.3L319.1 169.7L319.1 169.1L319.2 168.5L319.3 167.9L319.4 167.3L319.5 166.7L319.6 166.1L319.7 165.6L319.8 165.0L319.9 164.4L320.0 163.8L320.1 163.2L320.3 162.5L320.6 161.7L320.8 161.1L321.1 160.5L321.3 160.1L321.5 160.0L321.7 160.1L321.9 160.4L322.1 160.9L322.2 161.5L322.4 162.2L322.5 162.9L322.7 163.7L322.8 164.4L322.9 165.2L323.0 165.9L323.1 166.5L323.2 167.1L323.3 167.7L323.4 168.2L323.5 168.8L323.5 169.4L323.6 170.0L323.7 170.6L323.7 171.2L323.8 171.8L323.8 172.4L323.9 173.0L323.9 173.6L324.0 174.2L324.0 174.8L324.1 175.4L324.1 176.0L324.2 176.6L324.2 177.2L324.3 177.8L324.3 178.4L324.4 179.0L324.5 179.6L324.5 180.2L324.6 180.8L324.6 181.4L324.7 182.0L324.7 182.6L324.8 183.2L324.8 183.8L324.9 184.4L324.9 185.0L325.0 185.6L325.0 186.2L325.1 186.8L325.1 187.4L325.1 188.0L325.2 188.6L325.2 189.2L325.3 189.8L325.3 190.4L325.3 191.0L325.4 191.6L325.4 192.2L325.4 192.8L325.5 193.4L325.5 194.0L325.5 194.6L325.6 195.2L325.6 195.8L325.6 196.4L325.7 197.0L325.7 197.6L325.7 198.2L325.8 198.8L325.8 199.4L325.8 200.0L325.9 200.6L325.9 201.2L325.9 201.8L326.0 202.4L326.0 203.0L326.0 203.6L326.0 204.2L326.1 204.8L326.1 205.4L326.1 206.0L326.2 206.6L326.2 207.2L326.2 207.8L326.2 208.4L326.3 209.0L326.3 209.6L326.3 210.2L326.4 210.8L326.4 211.4L326.4 212.0L326.4 212.5L326.5 213.1L326.5 213.7L326.5 214.3L326.6 214.9L326.6 215.5L326.6 216.1L326.7 216.7L326.7 217.3L326.7 217.9L326.8 218.5L326.8 219.1L326.8 219.7L326.9 220.3L326.9 220.9L326.9 221.5L327.0 222.1L327.0 222.7L327.1 223.3L327.1 223.9L327.1 224.5L327.2 225.1L327.2 225.7L327.3 226.3L327.3 226.9L327.3 227.5L327.4 228.1L327.4 228.7L327.5 229.3L327.5 229.9L327.6 230.5L327.6 231.1L327.7 231.7L327.7 232.3L327.8 232.9L327.8 233.5L327.9 234.1L327.9 234.7L328.0 235.3L328.0 235.9L328.1 236.5L328.1 237.1L328.2 237.7L328.3 238.3L328.3 238.9L328.4 239.5L328.4 240.1L328.5 240.7L328.6 241.3L328.6 241.9L328.7 242.5L328.8 243.1L328.9 243.7L328.9 244.2L329.0 244.8L329.1 245.4L329.2 246.0L329.3 246.6L329.3 247.2L329.4 247.8L329.5 248.4L329.6 249.0L329.7 249.6L329.8 250.2L330.0 250.8L330.1 251.4L330.2 251.9L330.4 252.5L330.5 253.1L330.7 253.7L330.9 254.3L331.0 254.9L331.2 255.4L331.5 256.0L331.7 256.5L331.9 257.1L332.2 257.6L332.5 258.1L332.8 258.6L333.1 259.1L333.5 259.6L333.9 260.1L334.3 260.5L334.8 261.0L335.2 261.4L335.7 261.8L336.2 261.9L336.7 261.8L337.2 261.5L337.7 261.2L338.3 260.7L338.8 260.3L339.3 259.8L339.8 259.4L340.3 259.0L340.8 258.8L341.4 258.8L341.9 259.0L342.5 259.4L343.1 259.7L343.6 260.0L344.0 260.0L344.4 259.6L344.8 259.1L345.2 258.5L345.5 257.8L345.7 257.3L345.8 256.8L346.0 256.2L346.1 255.6L346.3 255.1L346.4 254.5L346.5 253.9L346.6 253.3L346.7 252.7L346.8 252.1L346.9 251.5L347.0 250.9L347.1 250.3L347.1 249.6L347.2 249.0L347.3 248.4L347.4 247.8L347.5 247.3L347.7 246.7L347.8 246.1L347.9 245.5L348.0 244.9L348.1 244.3L348.2 243.7L348.3 243.1L348.4 242.5L348.5 241.9L348.6 241.3L348.7 240.8L348.9 240.2L349.0 239.6L349.1 239.0L349.2 238.4L349.3 237.8L349.5 237.2L349.6 236.6L349.7 235.8L349.8 235.1L349.9 234.3L350.1 233.5L350.2 232.8L350.3 232.1L350.5 231.5L350.6 230.9L350.8 230.5L350.9 230.2L351.1 230.0L351.3 230.1L351.6 230.3L351.9 230.8L352.2 231.5L352.5 232.2L352.8 232.9L353.0 233.5L353.2 234.1L353.4 234.6L353.6 235.2L353.7 235.8L353.9 236.4L354.0 237.0L354.2 237.6L354.3 238.2L354.5 238.8L354.6 239.4L354.7 240.0L354.9 240.5L355.1 241.1L355.3 241.7L355.5 242.2L355.7 242.7L356.0 243.3L356.3 244.0L356.7 244.6L357.1 245.2L357.5 245.8L357.9 246.3L358.2 246.6L358.6 246.9L358.9 246.9L359.2 246.8L359.6 246.6L359.9 246.2L360.2 245.8L360.6 245.3L360.9 244.7L361.2 244.1L361.5 243.4L361.8 242.8L362.1 242.1L362.4 241.3L362.6 240.6L362.8 240.0L363.0 239.3L363.1 238.7L363.2 238.2L363.3 237.6L363.4 237.0L363.5 236.4L363.6 235.9L363.7 235.3L363.7 234.7L363.8 234.1L363.9 233.5L363.9 232.9L364.0 232.3L364.1 231.6L364.1 231.0L364.2 230.4L364.2 229.8L364.3 229.2L364.4 228.6L364.4 228.0L364.5 227.4L364.5 226.8L364.6 226.2L364.6 225.6L364.7 225.0L364.8 224.4L364.8 223.8L364.9 223.2L364.9 222.7L365.0 222.1L365.0 221.5L365.1 220.9L365.1 220.3L365.2 219.7L365.2 219.1L365.3 218.5L365.3 217.9L365.4 217.3L365.4 216.7L365.5 216.1L365.5 215.5L365.5 214.9L365.6 214.3L365.6 213.7L365.7 213.1L365.7 212.5L365.8 211.9L365.8 211.3L365.9 210.7L365.9 210.1L366.0 209.5L366.0 208.9L366.0 208.3L366.1 207.7L366.1 207.1L366.2 206.5L366.2 205.9L366.3 205.3L366.3 204.7L366.4 204.1L366.4 203.5L366.5 202.9L366.5 202.3L366.6 201.7L366.6 201.1L366.7 200.5L366.7 199.9L366.8 199.3L366.8 198.7L366.9 198.1L366.9 197.5L366.9 196.9L367.0 196.3L367.0 195.7L367.0 195.1L367.1 194.5L367.1 193.9L367.1 193.3L367.2 192.7L367.2 192.1L367.2 191.5L367.2 190.9L367.3 190.3L367.3 189.7L367.3 189.1L367.3 188.5L367.4 187.9L367.4 187.3L367.4 186.7L367.4 186.1L367.5 185.5L367.5 184.9L367.5 184.3L367.5 183.7L367.5 183.1L367.6 182.5L367.6 181.9L367.6 181.3L367.6 180.7L367.6 180.1L367.7 179.5L367.7 178.9L367.7 178.3L367.7 177.7L367.7 177.1L367.7 176.5L367.8 175.9L367.8 175.3L367.8 174.7L367.8 174.1L367.9 173.5L367.9 172.9L367.9 172.3L367.9 171.8L367.9 171.2L368.0 170.6L368.0 170.0L368.0 169.4L368.0 168.8L368.1 168.2L368.1 167.6L368.1 167.0L368.1 166.4L368.2 165.8L368.2 165.2L368.2 164.6L368.2 164.0L368.3 163.4L368.3 162.8L368.3 162.2L368.3 161.6L368.4 161.0L368.4 160.4L368.4 159.8L368.4 159.2L368.5 158.6L368.5 158.0L368.5 157.4L368.5 156.8L368.6 156.2L368.6 155.6L368.6 155.0L368.6 154.4L368.7 153.8L368.7 153.2L368.7 152.6L368.8 152.0L368.8 151.4L368.8 150.8L368.8 150.2L368.9 149.6L368.9 149.0L368.9 148.4L369.0 147.8L369.0 147.2L369.0 146.6L369.0 146.0L369.1 145.4L369.1 144.8L369.1 144.2L369.2 143.6L369.2 143.0L369.2 142.4L369.3 141.8L369.3 141.2L369.3 140.6L369.3 140.0L369.4 139.4L369.4 138.8L369.4 138.2L369.5 137.6L369.5 137.0L369.5 136.4L369.6 135.8L369.6 135.2L369.6 134.6L369.7 134.0L369.7 133.4L369.7 132.8L369.8 132.2L369.8 131.6L369.9 131.0L369.9 130.4L369.9 129.8L370.0 129.2L370.0 128.6L370.0 128.0L370.1 127.4L370.1 126.8L370.2 126.2L370.2 125.6L370.2 125.0L370.3 124.4L370.3 123.8L370.4 123.2L370.4 122.5L370.4 121.7L370.5 121.0L370.5 120.2L370.6 119.4L370.6 118.6L370.6 117.8L370.7 117.0L370.7 116.3L370.8 115.6L370.8 114.9L370.9 114.3L370.9 113.8L371.0 113.4L371.0 113.0L371.1 112.7L371.2 112.6L371.3 112.5L371.4 112.7L371.6 113.1L371.8 113.8L372.1 114.5L372.3 115.2L372.4 115.9L372.5 116.5L372.6 117.1L372.7 117.7L372.8 118.3L372.8 118.9L372.9 119.5L373.0 120.1L373.0 120.7L373.1 121.3L373.1 121.9L373.1 122.5L373.2 123.1L373.2 123.7L373.3 124.3L373.3 124.9L373.3 125.5L373.4 126.1L373.4 126.7L373.4 127.3L373.5 127.9L373.5 128.5L373.5 129.1L373.6 129.7L373.6 130.3L373.7 130.9L373.7 131.5L373.7 132.1L373.8 132.7L373.8 133.3L373.9 133.9L373.9 134.5L374.0 135.1L374.0 135.7L374.1 136.3L374.1 136.9L374.1 137.5L374.2 138.1L374.2 138.7L374.3 139.3L374.3 139.9L374.3 140.5L374.4 141.1L374.4 141.7L374.5 142.3L374.5 142.9L374.6 143.5L374.6 144.1L374.6 144.7L374.7 145.3L374.7 145.9L374.8 146.5L374.8 147.1L374.8 147.7L374.9 148.3L374.9 148.9L375.0 149.5L375.0 150.1L375.0 150.7L375.1 151.3L375.1 151.9L375.2 152.4L375.2 153.0L375.2 153.6L375.3 154.2L375.3 154.8L375.3 155.4L375.4 156.0L375.4 156.6L375.5 157.2L375.5 157.8L375.5 158.4L375.6 159.0L375.6 159.6L375.6 160.2L375.7 160.8L375.7 161.4L375.8 162.0L375.8 162.6L375.8 163.2L375.9 163.8L375.9 164.4L375.9 165.0L376.0 165.6L376.0 166.2L376.0 166.8L376.1 167.4L376.1 168.0L376.2 168.6L376.2 169.2L376.2 169.8L376.3 170.4L376.3 171.0L376.3 171.6L376.4 172.2L376.4 172.8L376.4 173.4L376.5 174.0L376.5 174.6L376.6 175.2L376.6 175.8L376.6 176.4L376.7 177.0L376.7 177.6L376.8 178.2L376.8 178.8L376.8 179.4L376.9 180.0L376.9 180.6L377.0 181.2L377.0 181.8L377.1 182.4L377.1 183.0L377.2 183.6L377.2 184.2L377.2 184.8L377.3 185.4L377.3 186.0L377.4 186.6L377.4 187.2L377.4 187.8L377.5 188.4L377.5 189.0L377.6 189.6L377.6 190.2L377.6 190.8L377.7 191.4L377.7 192.0L377.8 192.6L377.8 193.2L377.9 193.8L377.9 194.4L377.9 195.0L378.0 195.6L378.0 196.2L378.1 196.8L378.1 197.4L378.2 198.0L378.2 198.5L378.2 199.1L378.3 199.7L378.3 200.3L378.4 200.9L378.4 201.5L378.5 202.1L378.5 202.7L378.6 203.3L378.6 203.9L378.7 204.5L378.7 205.1L378.8 205.7L378.8 206.3L378.9 206.9L378.9 207.5L378.9 208.1L379.0 208.7L379.0 209.3L379.1 209.9L379.1 210.5L379.2 211.1L379.2 211.7L379.3 212.3L379.3 212.9L379.4 213.5L379.4 214.1L379.5 214.7L379.5 215.3L379.6 215.9L379.7 216.5L379.8 217.1L379.8 217.7L379.9 218.3L380.0 218.9L380.2 219.5L380.3 220.3L380.5 221.0L380.7 221.7L380.9 222.2L381.1 222.5L381.3 222.5L381.5 222.3L381.6 222.0L381.8 221.6L381.9 221.1L382.1 220.5L382.2 219.8L382.4 219.1L382.5 218.4L382.7 217.6L382.9 216.8L383.0 216.1L383.2 215.4L383.4 214.7L383.6 214.1L383.9 213.5L384.1 212.9L384.4 212.2L384.7 211.6L385.0 211.0L385.4 210.5L385.8 210.1L386.2 210.0L386.7 210.0L387.4 210.0L388.0 210.0L388.5 210.0L389.1 209.8L389.7 209.5L390.2 209.1L390.7 208.7L391.2 208.2L391.6 207.7L392.0 207.3L392.2 206.9L392.5 206.4L392.7 205.9L393.0 205.4L393.2 204.8L393.4 204.2L393.6 203.6L393.8 203.0L393.9 202.4L394.1 201.8L394.3 201.2L394.4 200.6L394.6 200.0L394.7 199.4L394.8 198.8L395.0 198.2L395.1 197.6L395.2 197.0L395.3 196.5L395.5 195.9L395.6 195.3L395.7 194.7L395.8 194.1L395.9 193.5L396.0 192.9L396.1 192.3L396.2 191.7L396.3 191.1L396.4 190.5L396.5 189.9L396.6 189.3L396.7 188.8L396.8 188.2L396.9 187.6L397.0 187.0L397.1 186.4L397.2 185.8L397.3 185.2L397.4 184.6L397.6 184.0L397.7 183.4L397.8 182.9L397.9 182.3L398.0 181.7L398.2 181.1L398.3 180.5L398.5 179.9L398.6 179.4L398.8 178.8L399.0 178.2L399.2 177.6L399.4 177.1L399.6 176.5L399.8 175.9L400.0 175.3L400.2 174.5L400.4 173.8L400.6 173.2L400.8 172.7L401.2 172.5L401.7 172.5L402.2 172.6L402.5 173.0L402.9 173.6L403.1 174.2L403.4 174.9L403.6 175.4L403.9 176.0L404.1 176.5L404.3 177.1L404.5 177.7L404.7 178.2L404.8 178.8L404.9 179.4L405.1 180.0L405.2 180.6L405.3 181.2L405.4 181.8L405.5 182.4L405.7 182.9L405.8 183.5L405.9 184.1L406.0 184.7L406.1 185.3L406.2 185.9L406.3 186.5L406.4 187.1L406.5 187.7L406.6 188.3L406.7 188.9L406.8 189.4L406.9 190.0L407.0 190.6L407.1 191.2L407.2 191.8L407.4 192.4L407.5 193.0L407.6 193.6L407.7 194.2L407.9 194.7L408.0 195.3L408.1 195.9L408.2 196.5L408.4 197.1L408.5 197.7L408.6 198.3L408.8 198.8L408.9 199.4L409.1 200.0L409.2 200.6L409.3 201.2L409.5 201.8L409.6 202.3L409.8 202.9L409.9 203.5L410.1 204.1L410.2 204.7L410.4 205.2L410.5 205.8L410.7 206.4L410.8 207.0L411.0 207.6L411.2 208.1L411.3 208.7L411.5 209.3L411.7 209.9L411.8 210.4L412.0 211.0L412.2 211.6L412.3 212.2L412.5 212.7L412.7 213.3L412.9 213.9L413.0 214.5L413.2 215.0L413.4 215.6L413.6 216.2L413.8 216.7L414.0 217.3L414.2 217.9L414.4 218.4L414.6 219.0L414.7 219.6L414.9 220.1L415.1 220.7L415.3 221.3L415.5 221.8L415.7 222.4L415.9 223.0L416.1 223.6L416.3 224.1L416.5 224.7L416.7 225.3L416.9 225.8L417.1 226.4L417.3 227.0L417.4 227.5L417.6 228.1L417.8 228.7L418.0 229.2L418.2 229.8L418.4 230.4L418.6 230.9L418.8 231.5L419.1 232.2L419.3 232.9L419.6 233.6L419.8 234.3L420.0 234.9L420.3 235.3L420.5 235.6L420.7 235.6L420.9 235.3L421.1 234.9L421.4 234.4L421.6 233.8L421.8 233.0L422.0 232.3L422.1 231.5L422.3 230.8L422.5 230.2L422.6 229.6L422.7 229.0L422.9 228.4L423.0 227.8L423.1 227.3L423.2 226.7L423.3 226.1L423.4 225.5L423.5 224.9L423.7 224.3L423.8 223.7L423.9 223.1L423.9 222.5L424.0 221.9L424.1 221.3L424.2 220.7L424.3 220.1L424.4 219.6L424.5 219.0L424.6 218.4L424.7 217.8L424.8 217.2L424.9 216.6L425.0 216.0L425.1 215.4L425.2 214.8L425.3 214.2L425.4 213.6L425.5 213.0L425.6 212.4L425.7 211.9L425.8 211.3L425.9 210.7L426.0 210.1L426.1 209.5L426.2 208.9L426.3 208.3L426.4 207.7L426.5 207.1L426.6 206.5L426.7 205.9L426.8 205.3L426.9 204.8L427.0 204.2L427.1 203.6L427.2 203.0L427.3 202.4L427.4 201.8L427.5 201.2L427.6 200.6L427.6 200.0L427.7 199.4L427.8 198.8L427.9 198.2L428.0 197.6L428.1 197.0L428.2 196.5L428.3 195.9L428.4 195.3L428.4 194.7L428.5 194.1L428.6 193.5L428.7 192.9L428.8 192.3L428.9 191.7L429.0 191.1L429.1 190.5L429.2 189.9L429.3 189.3L429.4 188.8L429.5 188.2L429.7 187.6L429.8 187.0L429.9 186.4L430.0 185.8L430.2 185.2L430.3 184.6L430.5 184.1L430.6 183.5L430.8 182.9L430.9 182.2L431.1 181.4L431.3 180.7L431.5 180.0L431.8 179.5L432.0 179.0L432.4 178.8L432.9 178.8L433.3 178.8L433.5 179.0L433.8 179.4L434.0 179.8L434.1 180.4L434.3 181.0L434.4 181.8L434.6 182.5L434.7 183.3L434.8 184.0L434.9 184.8L435.0 185.4L435.2 186.1L435.3 186.6L435.5 187.2L435.6 187.8L435.7 188.4L435.9 189.0L436.0 189.6L436.1 190.2L436.2 190.7L436.4 191.3L436.5 191.9L436.6 192.5L436.7 193.1L436.8 193.7L436.9 194.3L437.1 194.9L437.2 195.5L437.3 196.0L437.4 196.6L437.5 197.2L437.6 197.8L437.7 198.4L437.8 199.0L437.9 199.6L437.9 200.2L438.0 200.8L438.1 201.4L438.2 202.0L438.3 202.6L438.4 203.2L438.4 203.8L438.5 204.3L438.6 204.9L438.6 205.5L438.7 206.1L438.8 206.7L438.8 207.3L438.9 207.9L438.9 208.5L439.0 209.1L439.1 209.7L439.1 210.3L439.2 210.9L439.3 211.5L439.4 212.1L439.4 212.7L439.5 213.3L439.6 213.9L439.6 214.5L439.7 215.1L439.8 215.7L439.9 216.3L439.9 216.9L440.0 217.5L440.1 218.1L440.2 218.6L440.3 219.2L440.4 219.8L440.5 220.4L440.6 221.0L440.7 221.6L440.7 222.2L440.8 222.8L440.9 223.4L441.0 224.0L441.1 224.6L441.2 225.2L441.3 225.8L441.4 226.4L441.5 227.0L441.6 227.6L441.7 228.1L441.9 228.7L442.0 229.3L442.2 229.9L442.4 230.4L442.6 231.0L442.8 231.6L443.1 232.1L443.3 232.6L443.7 233.1L444.0 233.6L444.4 234.1L444.8 234.5L445.3 234.9L445.8 235.3L446.3 235.6L446.8 236.0L447.4 236.3L448.0 236.6L448.5 236.8L448.9 236.9L449.3 236.8L449.6 236.5L449.9 236.1L450.2 235.6L450.4 235.0L450.7 234.4L450.9 233.7L451.1 233.0L451.4 232.3L451.7 231.6L451.9 231.0L452.2 230.4L452.6 229.9L452.9 229.3L453.3 228.8L453.7 228.3L454.2 227.9L454.7 227.8L455.3 228.0L455.8 228.2L456.4 228.4L457.0 228.7L457.6 228.9L458.1 229.0L458.5 228.9L459.0 228.7L459.4 228.3L459.7 227.9L460.1 227.4L460.4 226.8L460.8 226.2L461.2 225.6L461.5 225.0L461.9 224.4L462.3 223.9L462.8 223.5L463.2 223.2L463.7 222.8L464.2 222.5L464.7 222.1L465.2 221.7L465.5 221.2L465.9 220.6L466.2 220.0L466.6 219.4L466.9 219.0L467.4 218.8L467.9 218.8L468.5 218.8L469.2 218.9L469.8 219.2L470.1 219.5L470.3 220.0L470.5 220.5L470.7 221.1L470.8 221.8L471.0 222.5L471.1 223.1L471.3 223.6L471.4 224.2L471.5 224.8L471.7 225.4L471.8 226.0L471.9 226.6L472.0 227.2L472.1 227.8L472.3 228.3L472.4 228.9L472.5 229.5L472.5 230.1L472.6 230.7L472.7 231.3L472.8 231.9L473.0 232.5L473.1 233.1L473.2 233.7L473.3 234.2L473.5 234.8L473.6 235.4L473.7 236.0L473.8 236.6L474.0 237.2L474.1 237.9L474.1 238.6L474.2 239.4L474.3 240.2L474.4 240.9L474.5 241.5L474.6 242.0L474.8 242.4L475.0 242.5L475.6 242.5L476.2 242.4L476.7 242.2L477.3 242.0L477.8 241.6L478.3 241.3L478.8 241.0L479.3 240.6L479.8 240.2L480.2 239.8L480.5 239.3L480.7 238.7L480.9 238.2L481.2 237.6L481.5 237.1L481.9 236.5L482.4 236.0L482.9 235.5L483.3 235.2L483.7 235.0L484.1 235.1L484.4 235.3L484.6 235.8L484.9 236.3L485.1 237.0L485.4 237.7L485.6 238.4L485.9 239.1L486.1 239.7L486.4 240.3L486.7 240.8L487.0 241.4L487.2 241.9L487.4 242.5L487.6 243.0L487.8 243.6L488.0 244.2L488.1 244.8L488.3 245.3L488.6 245.9L488.8 246.4L489.1 246.9L489.4 247.5L489.6 248.0L489.8 248.6L490.0 249.2L490.2 249.7L490.3 250.3L490.4 250.9L490.6 251.5L490.7 252.1L490.8 252.7L490.9 253.3L491.0 253.9L491.1 254.4L491.2 255.0L491.4 255.6L491.5 256.2L491.6 256.8L491.7 257.4L491.8 258.0L492.0 258.6L492.1 259.1L492.2 259.7L492.4 260.3L492.5 260.9L492.6 261.5L492.8 262.1L492.9 262.6L493.1 263.2L493.2 263.8L493.4 264.4L493.5 265.0L493.7 265.6L493.8 266.1L494.0 266.7L494.1 267.3L494.3 267.9L494.4 268.5L494.6 269.0L494.7 269.6L494.9 270.2L495.0 270.8L495.1 271.4L495.3 272.0L495.5 272.5L495.7 273.1L496.0 273.6L496.3 274.1L496.7 274.6L497.0 275.1L497.2 275.7L497.5 276.3L497.7 277.0L498.0 277.7L498.2 278.5L498.4 279.2L498.6 279.9L498.8 280.6L499.0 281.3L499.2 281.9L499.4 282.5L499.7 282.9L499.9 283.3L500.2 283.6L500.4 283.8L500.7 283.8L501.0 283.6L501.4 283.2L501.7 282.7L502.1 282.1L502.4 281.4L502.8 280.7L503.0 280.1L503.3 279.6L503.5 279.1L503.7 278.5L503.9 278.0L504.1 277.4L504.3 276.8L504.4 276.2L504.6 275.7L504.8 275.1L504.9 274.5L505.1 273.9L505.2 273.3L505.4 272.7L505.5 272.1L505.7 271.5L505.8 271.0L506.0 270.4L506.1 269.8L506.3 269.2L506.5 268.6L506.6 268.1L506.8 267.5L506.9 266.9L507.1 266.3L507.2 265.7L507.4 265.2L507.5 264.6L507.7 264.0L507.8 263.4L508.0 262.8L508.1 262.3L508.2 261.7L508.4 261.1L508.5 260.5L508.6 259.9L508.8 259.3L508.9 258.7L509.0 258.2L509.1 257.6L509.3 257.0L509.4 256.4L509.5 255.8L509.6 255.2L509.7 254.6L509.8 254.0L509.9 253.4L510.0 252.8L510.1 252.3L510.2 251.7L510.3 251.1L510.4 250.5L510.5 249.9L510.6 249.3L510.7 248.7L510.8 248.1L510.9 247.5L511.0 246.9L511.1 246.3L511.2 245.7L511.3 245.1L511.3 244.6L511.4 244.0L511.5 243.4L511.6 242.8L511.7 242.2L511.8 241.6L511.9 241.0L512.0 240.4L512.1 239.8L512.2 239.2L512.3 238.6L512.4 238.0L512.5 237.4L512.6 236.9L512.7 236.3L512.8 235.7L512.9 235.1L513.0 234.5L513.1 233.9L513.2 233.3L513.3 232.7L513.4 232.1L513.5 231.5L513.6 230.9L513.7 230.3L513.8 229.8L513.9 229.2L514.0 228.6L514.0 228.0L514.1 227.4L514.2 226.8L514.3 226.2L514.4 225.6L514.5 225.0L514.6 224.4L514.8 223.8L514.9 223.3L515.1 222.7L515.3 222.1L515.5 221.6L515.7 221.0L515.9 220.3L516.1 219.5L516.3 218.8L516.5 218.2L516.7 217.7L516.9 217.5L517.1 217.6L517.3 217.9L517.5 218.4L517.7 219.0L518.0 219.7L518.2 220.4L518.4 221.1L518.6 221.9L518.7 222.5L518.9 223.1L519.0 223.7L519.1 224.3L519.2 224.9L519.3 225.5L519.4 226.1L519.5 226.8L519.6 227.4L519.7 228.0L519.8 228.6L519.9 229.2L520.1 229.7L520.2 230.3L520.4 230.8L520.6 231.3L520.9 231.8L521.3 232.4L521.8 232.8L522.3 233.1L522.8 233.1L523.3 232.9L523.9 232.6L524.4 232.2L524.9 231.8L525.4 231.4L525.9 231.0L526.4 230.5L526.8 229.9L527.3 229.4L527.7 229.0L528.0 228.8L528.4 228.9L528.7 229.2L529.0 229.7L529.3 230.4L529.5 231.1L529.8 231.8L530.0 232.4L530.2 233.0L530.3 233.5L530.5 234.1L530.7 234.7L530.8 235.3L531.0 235.8L531.1 236.4L531.2 237.0L531.4 237.6L531.5 238.2L531.6 238.8L531.8 239.4L531.9 240.0L532.1 240.6L532.2 241.1L532.3 241.7L532.5 242.3L532.6 242.9L532.7 243.5L532.9 244.1L533.0 244.7L533.1 245.3L533.3 245.9L533.5 246.5L533.7 247.0L533.9 247.5L534.3 248.1L534.7 248.6L535.0 248.8L535.2 248.6L535.4 248.3L535.5 247.8L535.6 247.1L535.7 246.4L535.8 245.6L535.8 244.8L536.0 244.1L536.1 243.4L536.3 242.8L536.5 242.3L537.0 241.9L537.5 241.6L537.9 241.1L538.2 240.5L538.4 239.8L538.7 239.1L538.9 238.5L539.2 238.2L539.7 238.1L540.0 238.2L540.3 238.7L540.4 239.3L540.6 240.0L540.7 240.8L540.9 241.5L541.0 242.0L541.1 242.6L541.3 243.2L541.4 243.8L541.5 244.4L541.6 245.0L541.7 245.6L541.8 246.2L541.8 246.8L541.9 247.4L542.0 248.0L542.0 248.6L542.1 249.2L542.2 249.8L542.3 250.4L542.3 250.9L542.4 251.5L542.5 252.1L542.6 252.7L542.7 253.3L542.8 253.9L542.8 254.5L542.9 255.1L543.0 255.7L543.1 256.3L543.2 256.9L543.3 257.5L543.4 258.1L543.5 258.7L543.5 259.3L543.6 259.9L543.7 260.5L543.7 261.0L543.8 261.6L543.8 262.2L543.9 262.8L543.9 263.4L544.0 264.0L544.1 264.6L544.1 265.2L544.2 265.8L544.3 266.4L544.3 267.0L544.4 267.6L544.5 268.2L544.5 268.8L544.6 269.4L544.7 270.0L544.8 270.6L544.9 271.2L545.0 271.8L545.1 272.4L545.2 273.0L545.3 273.7L545.4 274.4L545.5 275.2L545.6 275.9L545.8 276.7L545.9 277.4L546.0 278.1L546.2 278.7L546.4 279.2L546.5 279.6L546.8 279.9L547.0 280.0L547.3 279.9L547.7 279.6L548.2 279.1L548.7 278.6L549.1 278.0L549.5 277.5L549.8 277.0L550.0 276.5L550.2 276.0L550.5 275.4L550.7 274.8L550.8 274.3L551.0 273.7L551.2 273.1L551.4 272.5L551.6 271.9L551.8 271.3L552.0 270.7L552.2 270.2L552.4 269.6L552.6 269.1L552.8 268.5L553.1 268.0L553.3 267.4L553.5 266.8L553.7 266.3L554.0 265.7L554.2 265.2L554.4 264.6L554.6 264.1L554.9 263.5L555.1 262.9L555.3 262.4L555.5 261.8L555.7 261.3L555.9 260.7L556.2 260.1L556.4 259.6L556.5 259.0L556.7 258.4L556.9 257.9L557.1 257.3L557.2 256.7L557.4 256.1L557.5 255.5L557.7 255.0L557.8 254.4L557.9 253.8L558.1 253.2L558.2 252.6L558.3 252.0L558.5 251.5L558.6 250.9L558.8 250.3L558.9 249.7L559.1 249.1L559.2 248.5L559.4 248.0L559.5 247.4L559.7 246.8L559.9 246.2L560.0 245.7L560.2 245.1L560.4 244.5L560.5 243.9L560.7 243.4L560.9 242.8L561.1 242.2L561.3 241.7L561.6 241.1L561.8 240.6L562.1 240.0L562.4 239.5L562.7 239.0L563.1 238.5L563.5 238.1L563.9 237.6L564.3 237.2L564.8 236.8L565.1 236.3L565.4 235.8L565.7 235.3L566.0 234.7L566.2 234.2L566.4 233.6L566.5 233.0L566.7 232.5L566.8 231.9L566.9 231.3L567.0 230.7L567.1 230.1L567.2 229.5L567.3 228.9L567.4 228.3L567.4 227.7L567.5 227.1L567.6 226.5L567.7 225.9L567.8 225.3L567.9 224.7L567.9 224.1L568.0 223.5L568.1 222.9L568.2 222.4L568.2 221.8L568.3 221.2L568.4 220.6L568.4 220.0L568.5 219.4L568.6 218.8L568.6 218.2L568.7 217.6L568.8 217.0L568.8 216.4L568.9 215.8L569.0 215.2L569.0 214.6L569.1 214.0L569.2 213.4L569.3 212.8L569.3 212.2L569.4 211.6L569.5 211.0L569.5 210.4L569.6 209.8L569.7 209.2L569.7 208.6L569.8 208.0L569.9 207.4L570.0 206.8L570.0 206.2L570.1 205.7L570.2 205.1L570.3 204.5L570.3 203.9L570.4 203.3L570.5 202.7L570.6 202.1L570.7 201.5L570.8 200.9L570.9 200.2L571.0 199.5L571.1 198.8L571.2 198.0L571.3 197.2L571.4 196.4L571.6 195.7L571.7 195.0L571.8 194.4L572.0 193.9L572.2 193.5L572.3 193.2L572.5 193.1L572.8 193.2L573.1 193.4L573.6 193.9L574.0 194.4L574.5 195.0L574.8 195.7L575.1 196.2L575.3 196.7L575.4 197.3L575.6 197.8L575.7 198.4L575.8 199.0L575.9 199.5L576.0 200.1L576.1 200.7L576.2 201.3L576.3 202.0L576.4 202.6L576.4 203.2L576.5 203.8L576.6 204.4L576.7 205.0L576.7 205.6L576.8 206.3L576.9 206.9L577.0 207.5L577.1 208.0L577.2 208.6L577.3 209.2L577.3 209.8L577.4 210.4L577.5 211.0L577.6 211.6L577.7 212.2L577.7 212.8L577.8 213.4L577.9 214.0L578.0 214.6L578.0 215.2L578.1 215.8L578.2 216.4L578.3 217.0L578.3 217.6L578.4 218.2L578.5 218.8L578.6 219.4L578.6 219.9L578.7 220.5L578.8 221.1L578.9 221.7L578.9 222.3L579.0 222.9L579.1 223.5L579.1 224.1L579.2 224.7L579.3 225.3L579.3 225.9L579.4 226.5L579.5 227.1L579.5 227.7L579.6 228.3L579.7 228.9L579.7 229.5L579.8 230.1L579.9 230.7L579.9 231.3L580.0 231.9L580.1 232.5L580.2 233.1L580.2 233.7L580.3 234.2L580.4 234.8L580.5 235.4L580.6 236.0L580.6 236.6L580.7 237.2L580.8 237.8L580.9 238.4L581.0 239.0L581.1 239.6L581.2 240.2L581.3 240.8L581.3 241.4L581.4 242.0L581.5 242.6L581.7 243.1L581.8 243.7L581.9 244.3L582.0 244.9L582.1 245.5L582.2 246.1L582.4 246.7L582.5 247.3L582.6 247.9L582.7 248.4L582.9 249.0L583.0 249.6L583.1 250.2L583.3 250.8L583.4 251.4L583.6 251.9L583.7 252.5L583.9 253.1L584.0 253.7L584.2 254.3L584.4 254.8L584.5 255.4L584.7 256.0L584.8 256.6L585.0 257.1L585.2 257.7L585.3 258.3L585.5 258.9L585.7 259.5L585.8 260.0L586.0 260.6L586.2 261.2L586.4 261.8L586.5 262.3L586.7 262.9L586.8 263.1" fill="none" stroke="#666" stroke-width="2" stroke-linejoin="round" stroke-linecap="round" stroke-dasharray="7.3 8.0"/>
<path d="M108.8 603.1L109.1 602.6L109.4 602.1L109.8 601.5L110.2 601.0L110.5 600.5L110.8 600.0L111.2 599.5L111.4 599.0L111.7 598.4L111.8 597.9L111.9 597.3L112.0 596.7L112.1 596.2L112.1 595.6L112.2 595.0L112.2 594.4L112.3 593.8L112.3 593.2L112.3 592.6L112.4 591.9L112.4 591.3L112.4 590.7L112.5 590.1L112.5 589.5L112.6 588.9L112.6 588.3L112.7 587.7L112.7 587.1L112.8 586.5L112.8 585.9L112.9 585.3L112.9 584.7L112.9 584.1L113.0 583.5L113.0 582.9L113.1 582.3L113.1 581.7L113.1 581.1L113.2 580.5L113.2 579.9L113.2 579.3L113.2 578.8L113.3 578.2L113.3 577.6L113.3 577.0L113.4 576.4L113.4 575.8L113.4 575.2L113.4 574.6L113.5 574.0L113.5 573.4L113.5 572.8L113.5 572.2L113.6 571.6L113.6 571.0L113.6 570.4L113.6 569.8L113.6 569.2L113.7 568.6L113.7 568.0L113.7 567.4L113.7 566.8L113.8 566.2L113.8 565.6L113.8 565.0L113.8 564.4L113.8 563.8L113.9 563.2L113.9 562.6L113.9 562.0L113.9 561.4L113.9 560.8L113.9 560.2L114.0 559.6L114.0 559.0L114.0 558.4L114.0 557.8L114.0 557.2L114.1 556.6L114.1 556.0L114.1 555.4L114.1 554.8L114.1 554.2L114.1 553.6L114.2 553.0L114.2 552.4L114.2 551.8L114.2 551.2L114.2 550.6L114.2 550.0L114.3 549.4L114.3 548.8L114.3 548.2L114.3 547.6L114.3 547.0L114.3 546.4L114.4 545.8L114.4 545.2L114.4 544.6L114.4 544.0L114.4 543.4L114.4 542.8L114.5 542.2L114.5 541.6L114.5 541.0L114.5 540.4L114.5 539.8L114.5 539.2L114.6 538.6L114.6 538.0L114.6 537.4L114.6 536.8L114.6 536.2L114.6 535.6L114.7 535.0L114.7 534.4L114.7 533.8L114.7 533.2L114.7 532.6L114.7 532.0L114.8 531.4L114.8 530.8L114.8 530.2L114.8 529.6L114.8 529.0L114.8 528.4L114.9 527.8L114.9 527.2L114.9 526.6L114.9 526.0L114.9 525.4L114.9 524.8L115.0 524.2L115.0 523.6L115.0 523.0L115.0 522.4L115.0 521.8L115.0 521.2L115.1 520.6L115.1 520.0L115.1 519.4L115.1 518.8L115.1 518.2L115.1 517.6L115.1 517.0L115.2 516.4L115.2 515.8L115.2 515.2L115.2 514.6L115.2 514.0L115.2 513.4L115.2 512.8L115.3 512.2L115.3 511.6L115.3 511.0L115.3 510.4L115.3 509.8L115.3 509.2L115.3 508.6L115.4 508.0L115.4 507.4L115.4 506.8L115.4 506.2L115.4 505.6L115.4 505.0L115.4 504.4L115.4 503.8L115.5 503.2L115.5 502.6L115.5 502.0L115.5 501.4L115.5 500.8L115.5 500.2L115.5 499.6L115.5 499.0L115.6 498.4L115.6 497.8L115.6 497.2L115.6 496.6L115.6 496.0L115.6 495.4L115.6 494.8L115.6 494.2L115.6 493.6L115.7 493.0L115.7 492.4L115.7 491.8L115.7 491.2L115.7 490.6L115.7 490.0L115.7 489.4L115.7 488.8L115.7 488.2L115.8 487.6L115.8 487.0L115.8 486.4L115.8 485.8L115.8 485.2L115.8 484.6L115.8 484.0L115.8 483.4L115.8 482.8L115.9 482.2L115.9 481.6L115.9 481.0L115.9 480.4L115.9 479.8L115.9 479.2L115.9 478.6L115.9 478.0L115.9 477.4L115.9 476.8L115.9 476.2L116.0 475.6L116.0 475.0L116.0 474.4L116.0 473.8L116.0 473.2L116.0 472.6L116.0 472.0L116.0 471.4L116.0 470.8L116.0 470.2L116.1 469.6L116.1 469.0L116.1 468.4L116.1 467.8L116.1 467.2L116.1 466.6L116.1 466.0L116.1 465.4L116.2 464.8L116.2 464.2L116.2 463.6L116.2 463.0L116.2 462.4L116.2 461.8L116.2 461.2L116.2 460.6L116.3 460.0L116.3 459.4L116.3 458.8L116.3 458.2L116.3 457.6L116.3 457.0L116.3 456.4L116.4 455.8L116.4 455.2L116.4 454.6L116.4 454.0L116.4 453.4L116.4 452.8L116.5 452.2L116.5 451.6L116.5 451.0L116.5 450.4L116.5 449.8L116.5 449.2L116.5 448.6L116.6 448.0L116.6 447.4L116.6 446.8L116.6 446.2L116.6 445.6L116.7 445.0L116.7 444.4L116.7 443.8L116.7 443.2L116.7 442.6L116.7 442.0L116.8 441.4L116.8 440.8L116.8 440.2L116.8 439.6L116.9 439.0L116.9 438.4L116.9 437.8L116.9 437.2L116.9 436.6L117.0 436.0L117.0 435.4L117.0 434.8L117.0 434.2L117.1 433.6L117.1 433.0L117.1 432.4L117.1 431.8L117.2 431.2L117.2 430.6L117.2 430.0L117.3 429.4L117.3 428.8L117.3 428.2L117.4 427.6L117.4 427.0L117.4 426.4L117.5 425.8L117.5 425.2L117.5 424.6L117.6 424.0L117.6 423.4L117.6 422.8L117.7 422.2L117.7 421.6L117.8 421.0L117.8 420.4L117.8 419.8L117.9 419.2L117.9 418.6L118.0 418.0L118.0 417.4L118.1 416.8L118.1 416.2L118.1 415.6L118.2 415.0L118.2 414.4L118.3 413.8L118.3 413.2L118.4 412.6L118.4 412.0L118.5 411.4L118.5 410.8L118.6 410.2L118.6 409.6L118.7 409.0L118.8 408.4L118.8 407.8L118.9 407.2L119.0 406.6L119.0 406.0L119.1 405.4L119.2 404.8L119.3 404.3L119.3 403.7L119.4 403.1L119.5 402.5L119.6 401.9L119.7 401.3L119.8 400.7L120.0 400.0L120.2 399.2L120.3 398.5L120.6 397.7L120.8 397.0L121.0 396.4L121.2 395.8L121.4 395.3L121.6 395.0L121.8 394.8L122.0 394.8L122.2 395.0L122.4 395.4L122.6 395.9L122.8 396.5L123.0 397.1L123.2 397.9L123.4 398.6L123.5 399.4L123.7 400.1L123.7 400.8L123.8 401.5L123.8 402.0L123.9 402.6L123.9 403.2L124.0 403.8L124.0 404.4L124.0 405.0L124.0 405.6L124.1 406.2L124.1 406.8L124.1 407.4L124.2 408.0L124.2 408.6L124.2 409.2L124.2 409.8L124.2 410.4L124.3 411.0L124.3 411.6L124.3 412.2L124.3 412.8L124.3 413.4L124.3 414.0L124.4 414.6L124.4 415.2L124.4 415.8L124.4 416.4L124.4 417.0L124.4 417.6L124.4 418.2L124.4 418.8L124.5 419.4L124.5 420.0L124.5 420.6L124.5 421.2L124.5 421.8L124.5 422.4L124.5 423.0L124.5 423.6L124.5 424.2L124.6 424.8L124.6 425.4L124.6 426.0L124.6 426.6L124.6 427.2L124.6 427.8L124.6 428.4L124.6 429.0L124.7 429.6L124.7 430.2L124.7 430.8L124.7 431.4L124.7 432.0L124.7 432.6L124.7 433.2L124.7 433.8L124.7 434.4L124.8 435.0L124.8 435.6L124.8 436.2L124.8 436.8L124.8 437.4L124.8 438.0L124.8 438.6L124.8 439.2L124.8 439.8L124.8 440.4L124.8 441.0L124.9 441.6L124.9 442.2L124.9 442.8L124.9 443.4L124.9 444.0L124.9 444.6L124.9 445.2L124.9 445.8L124.9 446.4L124.9 447.0L124.9 447.6L124.9 448.2L125.0 448.8L125.0 449.4L125.0 450.0L125.0 450.6L125.0 451.2L125.0 451.8L125.0 452.4L125.0 453.0L125.0 453.6L125.0 454.2L125.0 454.8L125.0 455.4L125.0 456.0L125.0 456.6L125.1 457.2L125.1 457.8L125.1 458.4L125.1 459.0L125.1 459.6L125.1 460.2L125.1 460.8L125.1 461.4L125.1 462.0L125.1 462.6L125.1 463.2L125.1 463.8L125.1 464.4L125.1 465.0L125.1 465.6L125.1 466.2L125.2 466.8L125.2 467.4L125.2 468.0L125.2 468.6L125.2 469.2L125.2 469.8L125.2 470.4L125.2 471.0L125.2 471.6L125.2 472.2L125.2 472.8L125.2 473.4L125.2 474.0L125.2 474.6L125.2 475.2L125.2 475.8L125.2 476.4L125.2 477.0L125.2 477.6L125.3 478.2L125.3 478.8L125.3 479.4L125.3 480.0L125.3 480.6L125.3 481.2L125.3 481.8L125.3 482.4L125.3 483.0L125.3 483.6L125.3 484.2L125.3 484.8L125.3 485.4L125.3 486.0L125.3 486.6L125.3 487.2L125.3 487.8L125.3 488.4L125.3 489.0L125.3 489.6L125.3 490.2L125.4 490.8L125.4 491.4L125.4 492.0L125.4 492.6L125.4 493.2L125.4 493.8L125.4 494.4L125.4 495.0L125.4 495.6L125.4 496.2L125.4 496.8L125.4 497.4L125.4 498.0L125.4 498.6L125.4 499.2L125.4 499.8L125.4 500.4L125.4 501.0L125.4 501.6L125.4 502.2L125.4 502.8L125.4 503.4L125.4 504.0L125.4 504.6L125.5 505.2L125.5 505.8L125.5 506.4L125.5 507.0L125.5 507.6L125.5 508.2L125.5 508.8L125.5 509.4L125.5 510.0L125.5 510.6L125.5 511.2L125.5 511.8L125.5 512.4L125.5 513.0L125.5 513.6L125.5 514.2L125.5 514.8L125.5 515.4L125.5 516.0L125.5 516.6L125.5 517.2L125.5 517.8L125.5 518.4L125.5 519.0L125.5 519.6L125.5 520.2L125.5 520.8L125.5 521.4L125.6 522.0L125.6 522.6L125.6 523.2L125.6 523.8L125.6 524.4L125.6 525.0L125.6 525.6L125.6 526.2L125.6 526.8L125.6 527.4L125.6 528.0L125.6 528.6L125.6 529.2L125.6 529.8L125.6 530.4L125.6 531.0L125.6 531.6L125.6 532.2L125.6 532.8L125.6 533.4L125.6 534.0L125.6 534.6L125.6 535.2L125.6 535.8L125.6 536.4L125.6 537.0L125.6 537.6L125.6 538.2L125.6 538.8L125.7 539.4L125.7 540.0L125.7 540.6L125.7 541.2L125.7 541.8L125.7 542.4L125.7 543.0L125.7 543.6L125.7 544.2L125.7 544.8L125.7 545.4L125.7 546.0L125.7 546.6L125.7 547.2L125.7 547.8L125.7 548.4L125.7 549.0L125.7 549.6L125.7 550.2L125.7 550.8L125.7 551.4L125.7 552.0L125.7 552.6L125.7 553.2L125.7 553.8L125.7 554.4L125.7 555.0L125.7 555.6L125.7 556.2L125.8 556.8L125.8 557.4L125.8 558.0L125.8 558.6L125.8 559.2L125.8 559.8L125.8 560.4L125.8 561.0L125.8 561.6L125.8 562.2L125.8 562.8L125.8 563.4L125.8 564.0L125.8 564.6L125.8 565.2L125.8 565.8L125.8 566.4L125.8 567.0L125.8 567.6L125.8 568.2L125.8 568.8L125.8 569.4L125.8 570.0L125.8 570.6L125.8 571.2L125.8 571.8L125.8 572.4L125.8 573.0L125.9 573.6L125.9 574.2L125.9 574.8L125.9 575.4L125.9 576.0L125.9 576.6L125.9 577.2L125.9 577.8L125.9 578.4L125.9 579.0L125.9 579.6L125.9 580.2L125.9 580.8L125.9 581.4L125.9 582.0L125.9 582.6L125.9 583.2L125.9 583.8L125.9 584.4L125.9 585.0L125.9 585.6L125.9 586.2L125.9 586.8L125.9 587.4L126.0 588.0L126.0 588.6L126.0 589.2L126.0 589.8L126.0 590.4L126.0 591.0L126.0 591.6L126.0 592.2L126.0 592.8L126.0 593.4L126.0 594.0L126.0 594.6L126.0 595.2L126.0 595.8L126.0 596.4L126.0 597.0L126.0 597.6L126.0 598.2L126.0 598.8L126.0 599.4L126.0 600.0L126.0 600.6L126.1 601.2L126.1 601.8L126.1 602.4L126.1 603.0L126.1 603.6L126.1 604.2L126.1 604.8L126.1 605.4L126.1 606.0L126.1 606.6L126.1 607.2L126.1 607.8L126.1 608.4L126.1 609.0L126.1 609.6L126.1 610.2L126.1 610.8L126.1 611.4L126.1 612.0L126.2 612.6L126.2 613.2L126.2 613.8L126.2 614.4L126.2 615.0L126.2 615.6L126.2 616.2L126.2 616.8L126.2 617.4L126.2 618.0L126.2 618.6L126.2 619.2L126.2 619.8L126.2 620.4L126.2 621.0L126.2 621.6L126.3 622.2L126.3 622.8L126.3 623.4L126.3 624.0L126.3 624.6L126.3 625.2L126.3 625.8L126.3 626.4L126.3 627.0L126.3 627.6L126.3 628.2L126.3 628.8L126.3 629.4L126.3 630.0L126.4 630.6L126.4 631.2L126.4 631.8L126.4 632.4L126.4 633.0L126.4 633.6L126.4 634.2L126.4 634.8L126.4 635.4L126.4 636.0L126.4 636.6L126.4 637.2L126.5 637.8L126.5 638.4L126.5 639.0L126.5 639.6L126.5 640.2L126.5 640.8L126.5 641.4L126.5 642.0L126.5 642.6L126.5 643.2L126.6 643.8L126.6 644.4L126.6 645.0L126.6 645.6L126.6 646.2L126.6 646.8L126.6 647.4L126.6 648.0L126.6 648.6L126.7 649.2L126.7 649.8L126.7 650.4L126.7 651.0L126.7 651.6L126.7 652.2L126.7 652.8L126.8 653.4L126.8 654.0L126.8 654.6L126.8 655.2L126.8 655.8L126.8 656.4L126.8 657.0L126.8 657.6L126.9 658.2L126.9 658.8L126.9 659.4L126.9 660.0L126.9 660.6L126.9 661.2L126.9 661.8L126.9 662.4L127.0 663.0L127.0 663.6L127.0 664.2L127.0 664.8L127.0 665.4L127.0 666.0L127.0 666.7L127.0 667.3L127.1 667.9L127.1 668.5L127.1 669.1L127.1 669.7L127.1 670.3L127.1 671.0L127.1 671.6L127.1 672.2L127.2 672.7L127.2 673.3L127.2 673.9L127.2 674.5L127.3 675.0L127.3 675.6L127.5 676.2L127.8 676.9L128.1 677.6L128.4 678.3L128.8 678.9L129.2 679.5L129.6 680.1L130.0 680.5L130.4 680.9L130.7 681.1L131.0 681.2L131.2 681.1L131.5 680.8L131.7 680.4L132.0 679.9L132.2 679.2L132.4 678.5L132.6 677.8L132.8 677.0L132.9 676.3L133.0 675.6L133.1 675.0L133.2 674.4L133.2 673.8L133.2 673.2L133.3 672.6L133.3 672.0L133.3 671.4L133.4 670.8L133.4 670.2L133.4 669.6L133.4 669.0L133.5 668.4L133.5 667.8L133.5 667.2L133.5 666.6L133.5 666.0L133.6 665.4L133.6 664.8L133.6 664.2L133.7 663.6L133.7 663.0L133.7 662.4L133.8 661.8L133.8 661.2L133.9 660.6L133.9 660.0L133.9 659.4L134.0 658.8L134.0 658.2L134.1 657.6L134.1 657.0L134.1 656.4L134.1 655.8L134.2 655.2L134.2 654.6L134.2 654.0L134.3 653.4L134.3 652.8L134.3 652.2L134.3 651.6L134.3 651.0L134.4 650.4L134.4 649.8L134.4 649.2L134.4 648.6L134.5 648.0L134.5 647.4L134.5 646.8L134.5 646.2L134.5 645.6L134.6 645.0L134.6 644.4L134.6 643.8L134.6 643.2L134.6 642.6L134.6 642.0L134.7 641.4L134.7 640.8L134.7 640.2L134.7 639.6L134.7 639.0L134.7 638.4L134.7 637.8L134.8 637.2L134.8 636.6L134.8 636.0L134.8 635.4L134.8 634.8L134.8 634.2L134.8 633.6L134.8 633.0L134.9 632.4L134.9 631.8L134.9 631.2L134.9 630.6L134.9 630.0L134.9 629.4L134.9 628.8L134.9 628.2L134.9 627.6L135.0 627.0L135.0 626.4L135.0 625.8L135.0 625.2L135.0 624.6L135.0 624.0L135.0 623.4L135.0 622.8L135.0 622.2L135.1 621.6L135.1 621.0L135.1 620.4L135.1 619.8L135.1 619.2L135.1 618.6L135.1 618.0L135.1 617.4L135.1 616.8L135.2 616.2L135.2 615.6L135.2 615.0L135.2 614.4L135.2 613.8L135.2 613.2L135.2 612.6L135.2 612.0L135.2 611.4L135.2 610.8L135.2 610.2L135.2 609.6L135.2 609.0L135.3 608.4L135.3 607.8L135.3 607.2L135.3 606.6L135.3 606.0L135.3 605.4L135.3 604.8L135.3 604.2L135.3 603.6L135.3 603.0L135.4 602.4L135.4 601.8L135.4 601.2L135.4 600.6L135.4 600.0L135.4 599.4L135.5 598.8L135.5 598.2L135.5 597.6L135.5 597.0L135.5 596.4L135.6 595.8L135.6 595.2L135.6 594.6L135.7 593.8L135.8 593.1L135.9 592.3L136.0 591.7L136.1 591.3L136.2 591.2L136.3 591.3L136.3 591.4L136.4 591.6L136.4 591.8L136.5 592.2L136.5 592.5L136.6 593.0L136.6 593.4L136.7 594.0L136.7 594.5L136.8 595.1L136.8 595.8L136.8 596.5L136.9 597.2L136.9 597.9L136.9 598.6L137.0 599.4L137.0 600.2L137.0 601.0L137.1 601.8L137.1 602.6L137.1 603.4L137.2 604.2L137.2 604.9L137.2 605.7L137.3 606.5L137.3 607.2L137.4 607.9L137.4 608.6L137.4 609.3L137.5 609.9L137.5 610.5L137.6 611.1L137.6 611.7L137.7 612.3L137.7 612.9L137.8 613.5L137.8 614.1L137.9 614.7L137.9 615.3L138.0 615.9L138.0 616.5L138.1 617.1L138.1 617.7L138.2 618.3L138.2 618.9L138.3 619.5L138.3 620.1L138.4 620.7L138.4 621.3L138.5 621.9L138.5 622.5L138.6 623.0L138.6 623.6L138.7 624.2L138.7 624.8L138.8 625.5L138.8 626.1L138.9 626.8L138.9 627.5L139.0 628.3L139.0 629.1L139.1 629.9L139.1 630.7L139.2 631.4L139.2 632.2L139.3 633.0L139.3 633.8L139.4 634.5L139.4 635.2L139.5 635.8L139.5 636.4L139.6 637.0L139.7 637.5L139.7 637.9L139.8 638.3L139.8 638.5L139.9 638.7L140.0 638.8L140.0 638.8L140.1 638.7L140.2 638.5L140.3 638.2L140.4 637.8L140.6 637.4L140.7 636.9L140.8 636.3L140.9 635.7L141.1 635.1L141.2 634.4L141.3 633.7L141.5 632.9L141.6 632.2L141.7 631.4L141.8 630.6L142.0 629.8L142.1 629.0L142.2 628.3L142.3 627.5L142.3 626.8L142.4 626.1L142.5 625.4L142.5 624.8L142.5 624.2L142.6 623.6L142.6 623.1L142.6 622.5L142.7 621.9L142.7 621.3L142.7 620.7L142.7 620.1L142.8 619.5L142.8 618.9L142.8 618.3L142.8 617.7L142.8 617.1L142.9 616.5L142.9 615.9L142.9 615.3L142.9 614.7L142.9 614.1L142.9 613.5L143.0 612.9L143.0 612.3L143.0 611.7L143.0 611.1L143.1 610.5L143.1 609.9L143.1 609.2L143.2 608.5L143.2 607.8L143.3 607.1L143.3 606.3L143.4 605.6L143.4 604.8L143.5 604.0L143.5 603.2L143.6 602.4L143.6 601.6L143.7 600.8L143.7 600.1L143.8 599.4L143.8 598.7L143.9 598.1L144.0 597.5L144.0 596.9L144.1 596.4L144.1 596.0L144.2 595.7L144.2 595.4L144.3 595.2L144.4 595.0L144.4 595.0L144.5 595.0L144.5 595.1L144.6 595.3L144.6 595.5L144.7 595.8L144.7 596.1L144.8 596.5L144.8 596.9L144.9 597.3L144.9 597.8L145.0 598.4L145.0 598.9L145.1 599.5L145.2 600.2L145.2 600.8L145.3 601.5L145.3 602.2L145.4 602.9L145.4 603.7L145.5 604.4L145.5 605.2L145.6 606.0L145.6 606.8L145.7 607.6L145.7 608.4L145.8 609.2L145.8 610.0L145.9 610.8L145.9 611.5L146.0 612.3L146.0 613.1L146.0 613.8L146.1 614.5L146.1 615.2L146.2 615.9L146.2 616.6L146.2 617.2L146.3 617.8L146.3 618.4L146.3 619.0L146.4 619.6L146.4 620.2L146.4 620.8L146.4 621.4L146.5 622.0L146.5 622.6L146.5 623.2L146.5 623.8L146.6 624.4L146.6 625.0L146.6 625.6L146.6 626.2L146.7 626.8L146.7 627.4L146.7 628.0L146.7 628.6L146.8 629.2L146.8 629.8L146.8 630.4L146.8 631.0L146.9 631.6L146.9 632.2L146.9 632.8L146.9 633.4L147.0 634.0L147.0 634.6L147.0 635.2L147.0 635.8L147.0 636.4L147.1 637.0L147.1 637.6L147.1 638.2L147.1 638.8L147.2 639.4L147.2 640.0L147.2 640.6L147.2 641.2L147.3 641.8L147.3 642.4L147.3 643.0L147.3 643.6L147.4 644.2L147.4 644.8L147.4 645.4L147.4 646.0L147.5 646.6L147.5 647.2L147.5 647.8L147.6 648.5L147.6 649.2L147.7 649.9L147.8 650.7L148.0 651.5L148.1 652.2L148.2 653.0L148.4 653.6L148.6 654.2L148.7 654.8L148.9 655.2L149.1 655.4L149.3 655.6L149.5 655.6L149.8 655.4L150.2 655.0L150.6 654.5L151.0 653.9L151.4 653.3L151.8 652.6L152.2 652.0L152.4 651.4L152.6 650.9L152.8 650.3L153.0 649.7L153.1 649.1L153.2 648.5L153.3 647.9L153.4 647.3L153.4 646.7L153.5 646.1L153.5 645.5L153.6 644.9L153.6 644.3L153.7 643.7L153.7 643.1L153.7 642.5L153.8 641.9L153.8 641.3L153.8 640.7L153.8 640.1L153.9 639.5L153.9 638.9L153.9 638.3L153.9 637.7L154.0 637.1L154.0 636.5L154.0 635.9L154.0 635.3L154.1 634.7L154.1 634.1L154.1 633.5L154.1 632.9L154.2 632.3L154.2 631.7L154.2 631.1L154.2 630.5L154.2 629.9L154.3 629.3L154.3 628.7L154.3 628.1L154.3 627.5L154.3 626.9L154.4 626.3L154.4 625.7L154.4 625.1L154.4 624.5L154.4 623.9L154.5 623.4L154.5 622.8L154.5 622.2L154.5 621.6L154.6 621.0L154.6 620.4L154.6 619.8L154.6 619.2L154.6 618.6L154.7 618.0L154.7 617.4L154.7 616.8L154.7 616.2L154.7 615.6L154.8 615.0L154.8 614.4L154.8 613.8L154.8 613.2L154.8 612.6L154.9 612.0L154.9 611.4L154.9 610.8L154.9 610.2L154.9 609.6L155.0 609.0L155.0 608.4L155.0 607.8L155.0 607.2L155.0 606.6L155.0 606.0L155.1 605.4L155.1 604.8L155.1 604.2L155.1 603.6L155.1 603.0L155.2 602.4L155.2 601.8L155.2 601.2L155.2 600.6L155.2 600.0L155.2 599.4L155.3 598.8L155.3 598.2L155.3 597.6L155.3 597.0L155.3 596.4L155.3 595.8L155.4 595.2L155.4 594.6L155.4 594.0L155.4 593.4L155.4 592.8L155.4 592.2L155.5 591.6L155.5 591.0L155.5 590.4L155.5 589.8L155.5 589.2L155.5 588.6L155.6 588.0L155.6 587.4L155.6 586.8L155.6 586.2L155.6 585.6L155.7 585.0L155.7 584.4L155.7 583.8L155.7 583.2L155.7 582.6L155.8 582.0L155.8 581.4L155.8 580.8L155.9 580.2L155.9 579.6L155.9 579.0L156.0 578.4L156.0 577.8L156.0 577.2L156.1 576.6L156.1 576.0L156.2 575.4L156.2 574.8L156.2 574.2L156.3 573.6L156.3 573.0L156.3 572.4L156.4 571.8L156.4 571.2L156.5 570.6L156.5 570.0L156.6 569.4L156.6 568.8L156.7 568.2L156.7 567.6L156.7 567.0L156.8 566.4L156.8 565.8L156.9 565.2L156.9 564.6L156.9 564.0L157.0 563.4L157.0 562.8L157.0 562.2L157.1 561.6L157.1 561.0L157.1 560.4L157.2 559.8L157.2 559.2L157.2 558.6L157.3 558.0L157.3 557.4L157.4 556.8L157.5 556.2L157.6 555.6L157.7 554.8L157.9 554.2L158.1 553.8L158.2 553.9L158.4 554.1L158.5 554.4L158.7 554.9L158.8 555.4L158.9 556.0L159.1 556.7L159.2 557.5L159.4 558.3L159.5 559.0L159.6 559.8L159.8 560.5L159.9 561.2L160.0 561.9L160.1 562.5L160.2 563.2L160.3 564.0L160.4 564.8L160.5 565.5L160.6 566.3L160.7 567.0L160.8 567.6L160.9 568.1L161.0 568.5L161.1 568.7L161.2 568.8L161.4 568.7L161.5 568.4L161.7 568.0L161.9 567.4L162.0 566.8L162.2 566.1L162.4 565.4L162.5 564.6L162.7 563.9L162.8 563.1L163.0 562.4L163.0 561.7L163.1 561.1L163.2 560.5L163.2 559.9L163.3 559.3L163.3 558.7L163.4 558.1L163.4 557.5L163.4 556.9L163.5 556.3L163.5 555.7L163.5 555.1L163.6 554.5L163.6 553.9L163.6 553.3L163.7 552.7L163.7 552.1L163.7 551.5L163.8 550.9L163.8 550.3L163.8 549.7L163.9 549.1L163.9 548.5L163.9 547.9L163.9 547.3L164.0 546.7L164.0 546.1L164.0 545.5L164.1 544.9L164.1 544.3L164.1 543.7L164.2 543.1L164.2 542.5L164.2 541.9L164.3 541.3L164.3 540.7L164.3 540.1L164.4 539.5L164.4 538.9L164.4 538.3L164.5 537.7L164.5 537.1L164.5 536.5L164.6 535.9L164.6 535.3L164.6 534.7L164.7 534.1L164.7 533.5L164.7 532.9L164.8 532.3L164.8 531.7L164.9 531.1L164.9 530.5L164.9 529.9L165.0 529.3L165.0 528.7L165.1 528.1L165.1 527.5L165.1 526.9L165.2 526.3L165.2 525.7L165.3 525.1L165.3 524.5L165.4 523.9L165.4 523.3L165.5 522.7L165.5 522.1L165.6 521.5L165.6 520.9L165.7 520.3L165.7 519.7L165.8 519.1L165.8 518.5L165.9 517.9L165.9 517.3L166.0 516.8L166.1 516.2L166.2 515.6L166.3 515.0L166.4 514.3L166.5 513.6L166.7 512.8L166.8 512.1L167.0 511.4L167.2 510.8L167.3 510.3L167.4 510.0L167.5 510.0L167.6 510.1L167.7 510.3L167.8 510.5L167.8 510.9L167.9 511.3L168.0 511.7L168.0 512.2L168.1 512.8L168.1 513.4L168.2 514.1L168.2 514.8L168.3 515.5L168.3 516.3L168.4 517.1L168.4 517.9L168.4 518.7L168.5 519.5L168.5 520.3L168.6 521.0L168.6 521.8L168.6 522.5L168.7 523.3L168.7 524.0L168.7 524.6L168.8 525.2L168.8 525.8L168.8 526.4L168.9 527.0L168.9 527.6L168.9 528.2L168.9 528.8L169.0 529.4L169.0 530.0L169.0 530.6L169.0 531.2L169.1 531.8L169.1 532.4L169.1 533.0L169.1 533.6L169.2 534.2L169.2 534.8L169.2 535.4L169.2 536.0L169.3 536.6L169.3 537.2L169.3 537.8L169.3 538.4L169.3 539.0L169.4 539.6L169.4 540.2L169.4 540.8L169.4 541.4L169.5 542.0L169.5 542.6L169.5 543.2L169.5 543.8L169.6 544.4L169.6 545.0L169.6 545.6L169.6 546.2L169.7 546.8L169.7 547.4L169.7 548.0L169.7 548.6L169.7 549.2L169.8 549.8L169.8 550.4L169.8 551.0L169.8 551.6L169.9 552.2L169.9 552.8L169.9 553.4L170.0 554.0L170.0 554.6L170.0 555.2L170.0 555.8L170.1 556.4L170.1 557.0L170.1 557.6L170.2 558.2L170.2 558.8L170.2 559.4L170.2 560.0L170.3 560.6L170.3 561.2L170.3 561.8L170.4 562.4L170.4 563.0L170.4 563.6L170.5 564.2L170.5 564.8L170.5 565.4L170.6 566.0L170.6 566.6L170.7 567.2L170.7 567.8L170.7 568.4L170.8 569.0L170.8 569.6L170.9 570.2L170.9 570.8L171.0 571.4L171.1 572.0L171.1 572.5L171.2 573.1L171.2 573.7L171.3 574.3L171.4 574.9L171.4 575.5L171.5 576.1L171.6 576.7L171.6 577.3L171.7 577.9L171.7 578.5L171.8 579.1L171.9 579.7L171.9 580.3L172.0 581.0L172.1 581.6L172.1 582.4L172.2 583.1L172.3 583.9L172.3 584.7L172.4 585.5L172.5 586.3L172.5 587.1L172.6 587.8L172.7 588.6L172.7 589.3L172.8 590.0L172.8 590.7L172.9 591.3L173.0 591.9L173.0 592.4L173.1 592.9L173.1 593.3L173.2 593.6L173.2 593.8L173.3 594.0L173.3 594.0L173.3 593.8L173.4 593.4L173.4 592.7L173.4 591.9L173.4 591.1L173.5 590.4L173.5 589.8L173.6 589.2L173.6 588.6L173.6 588.0L173.7 587.4L173.7 586.8L173.8 586.2L173.9 585.6L173.9 585.0L174.0 584.4L174.0 583.8L174.1 583.2L174.2 582.6L174.2 582.0L174.3 581.4L174.4 580.8L174.4 580.2L174.5 579.6L174.6 579.0L174.6 578.4L174.7 577.8L174.8 577.2L174.8 576.6L174.9 576.0L174.9 575.4L175.0 574.8L175.1 574.2L175.1 573.6L175.2 573.0L175.2 572.4L175.3 571.9L175.3 571.3L175.4 570.7L175.4 570.1L175.4 569.5L175.5 568.9L175.5 568.3L175.6 567.7L175.6 567.1L175.7 566.5L175.7 565.9L175.7 565.3L175.8 564.7L175.8 564.1L175.9 563.5L175.9 562.9L175.9 562.3L176.0 561.7L176.0 561.1L176.0 560.5L176.1 559.9L176.1 559.3L176.1 558.7L176.2 558.1L176.2 557.5L176.2 556.9L176.3 556.3L176.3 555.7L176.3 555.1L176.4 554.5L176.4 553.9L176.4 553.3L176.4 552.7L176.5 552.1L176.5 551.5L176.5 550.9L176.5 550.3L176.6 549.7L176.6 549.1L176.6 548.5L176.6 547.9L176.7 547.3L176.7 546.7L176.7 546.1L176.7 545.5L176.8 544.9L176.8 544.3L176.8 543.7L176.8 543.1L176.9 542.5L176.9 541.9L176.9 541.3L177.0 540.7L177.0 540.1L177.0 539.5L177.0 538.9L177.1 538.3L177.1 537.7L177.1 537.1L177.1 536.5L177.2 535.9L177.2 535.3L177.2 534.7L177.2 534.1L177.3 533.5L177.3 532.9L177.3 532.3L177.3 531.7L177.4 531.1L177.4 530.5L177.4 529.9L177.4 529.3L177.4 528.7L177.5 528.1L177.5 527.5L177.5 526.9L177.5 526.3L177.6 525.7L177.6 525.1L177.6 524.5L177.6 523.9L177.7 523.3L177.7 522.7L177.7 522.1L177.7 521.5L177.8 520.9L177.8 520.3L177.8 519.7L177.8 519.1L177.9 518.5L177.9 517.9L177.9 517.3L177.9 516.7L178.0 516.1L178.0 515.5L178.0 514.9L178.0 514.3L178.1 513.7L178.1 513.1L178.1 512.5L178.1 511.9L178.2 511.3L178.2 510.7L178.2 510.1L178.3 509.5L178.3 508.9L178.3 508.3L178.3 507.7L178.4 507.1L178.4 506.5L178.4 505.9L178.5 505.3L178.5 504.7L178.5 504.1L178.5 503.5L178.6 502.9L178.6 502.3L178.6 501.7L178.7 501.1L178.7 500.5L178.7 499.9L178.7 499.3L178.8 498.7L178.8 498.1L178.8 497.5L178.8 496.9L178.9 496.3L178.9 495.7L178.9 495.1L178.9 494.5L179.0 493.9L179.0 493.3L179.0 492.7L179.0 492.1L179.1 491.5L179.1 490.9L179.1 490.3L179.1 489.7L179.2 489.1L179.2 488.5L179.2 487.9L179.2 487.3L179.2 486.7L179.3 486.1L179.3 485.5L179.3 484.9L179.3 484.3L179.3 483.7L179.4 483.1L179.4 482.5L179.4 481.9L179.4 481.3L179.4 480.8L179.5 480.2L179.5 479.6L179.5 479.0L179.5 478.4L179.6 477.8L179.6 477.2L179.6 476.6L179.6 476.0L179.6 475.4L179.7 474.8L179.7 474.2L179.7 473.6L179.7 473.0L179.8 472.4L179.8 471.8L179.8 471.2L179.8 470.6L179.9 470.0L179.9 469.4L179.9 468.8L180.0 468.2L180.0 467.6L180.0 467.0L180.0 466.4L180.1 465.8L180.1 465.2L180.1 464.5L180.1 463.9L180.2 463.3L180.2 462.7L180.2 462.1L180.3 461.5L180.3 460.9L180.3 460.3L180.4 459.7L180.4 459.1L180.5 458.5L180.5 458.0L180.6 457.4L180.7 456.8L180.8 456.1L181.0 455.4L181.2 454.6L181.5 453.9L181.7 453.2L182.0 452.6L182.3 452.1L182.6 451.8L182.9 451.5L183.2 451.5L183.6 451.7L184.0 452.0L184.4 452.4L184.8 453.0L185.3 453.6L185.7 454.2L186.0 454.9L186.2 455.5L186.4 456.0L186.5 456.5L186.6 457.1L186.7 457.6L186.8 458.2L186.9 458.8L187.0 459.4L187.1 460.0L187.1 460.6L187.2 461.2L187.3 461.8L187.3 462.4L187.4 463.0L187.4 463.6L187.5 464.3L187.5 464.9L187.6 465.5L187.6 466.1L187.7 466.7L187.7 467.3L187.8 467.9L187.8 468.5L187.9 469.1L187.9 469.7L187.9 470.3L188.0 470.9L188.0 471.5L188.1 472.1L188.1 472.7L188.2 473.3L188.2 473.9L188.2 474.5L188.3 475.1L188.3 475.7L188.3 476.3L188.4 476.9L188.4 477.5L188.4 478.1L188.5 478.7L188.5 479.3L188.5 479.9L188.5 480.5L188.6 481.1L188.6 481.7L188.6 482.3L188.6 482.9L188.7 483.5L188.7 484.1L188.7 484.7L188.7 485.3L188.7 485.9L188.7 486.5L188.7 487.1L188.8 487.7L188.8 488.3L188.8 488.9L188.8 489.5L188.8 490.1L188.8 490.7L188.8 491.3L188.9 491.9L188.9 492.5L188.9 493.1L188.9 493.7L188.9 494.3L188.9 494.9L189.0 495.5L189.0 496.1L189.0 496.7L189.0 497.3L189.0 497.9L189.0 498.5L189.0 499.1L189.1 499.7L189.1 500.3L189.1 500.9L189.1 501.5L189.1 502.1L189.1 502.7L189.1 503.3L189.2 503.9L189.2 504.5L189.2 505.1L189.2 505.7L189.2 506.3L189.2 506.9L189.2 507.5L189.3 508.1L189.3 508.7L189.3 509.3L189.3 509.9L189.3 510.5L189.3 511.1L189.3 511.7L189.4 512.3L189.4 512.9L189.4 513.5L189.4 514.1L189.4 514.7L189.4 515.3L189.4 515.9L189.5 516.5L189.5 517.1L189.5 517.7L189.5 518.3L189.5 518.9L189.5 519.5L189.5 520.1L189.6 520.7L189.6 521.3L189.6 521.9L189.6 522.5L189.6 523.1L189.6 523.7L189.6 524.3L189.6 524.9L189.7 525.5L189.7 526.1L189.7 526.7L189.7 527.3L189.7 527.9L189.7 528.5L189.7 529.1L189.7 529.7L189.8 530.3L189.8 530.9L189.8 531.5L189.8 532.1L189.8 532.7L189.8 533.3L189.8 533.9L189.8 534.5L189.9 535.1L189.9 535.7L189.9 536.3L189.9 536.9L189.9 537.5L189.9 538.1L189.9 538.7L190.0 539.3L190.0 539.9L190.0 540.5L190.0 541.1L190.0 541.7L190.0 542.3L190.0 542.9L190.1 543.5L190.1 544.1L190.1 544.7L190.1 545.3L190.1 545.9L190.1 546.5L190.1 547.1L190.2 547.7L190.2 548.3L190.2 548.9L190.2 549.5L190.2 550.1L190.2 550.7L190.2 551.3L190.3 551.9L190.3 552.5L190.3 553.1L190.3 553.7L190.3 554.3L190.3 554.9L190.4 555.5L190.4 556.1L190.4 556.7L190.4 557.3L190.4 557.9L190.5 558.5L190.5 559.1L190.5 559.7L190.5 560.3L190.5 560.9L190.6 561.5L190.6 562.1L190.6 562.7L190.6 563.3L190.6 563.9L190.7 564.5L190.7 565.1L190.7 565.7L190.7 566.3L190.8 566.9L190.8 567.5L190.8 568.1L190.8 568.7L190.9 569.3L190.9 569.9L190.9 570.5L191.0 571.1L191.0 571.7L191.0 572.3L191.0 572.9L191.1 573.5L191.1 574.1L191.1 574.7L191.2 575.3L191.2 575.9L191.2 576.5L191.3 577.1L191.3 577.7L191.3 578.3L191.3 578.9L191.4 579.5L191.4 580.1L191.5 580.7L191.5 581.3L191.5 581.9L191.6 582.5L191.7 583.1L191.7 583.7L191.8 584.3L191.9 584.9L192.1 585.7L192.2 586.0L192.3 585.9L192.4 585.6L192.4 585.1L192.5 584.5L192.5 583.8L192.6 583.0L192.6 582.2L192.7 581.4L192.7 580.7L192.8 580.0L192.9 579.4L192.9 578.8L193.0 578.2L193.0 577.6L193.1 577.0L193.2 576.4L193.2 575.8L193.3 575.2L193.3 574.7L193.4 574.1L193.4 573.5L193.5 572.9L193.5 572.3L193.6 571.7L193.6 571.1L193.7 570.5L193.7 569.9L193.8 569.3L193.8 568.7L193.9 568.1L193.9 567.5L194.0 566.9L194.0 566.3L194.1 565.7L194.1 565.1L194.1 564.5L194.2 563.9L194.2 563.3L194.3 562.7L194.3 562.1L194.4 561.5L194.4 560.9L194.5 560.3L194.5 559.7L194.6 559.1L194.6 558.5L194.7 557.9L194.8 557.3L194.9 556.6L195.1 556.0L195.2 556.1L195.2 556.4L195.3 556.9L195.4 557.6L195.4 558.4L195.5 559.1L195.5 559.9L195.6 560.6L195.6 561.2L195.7 561.8L195.7 562.4L195.7 563.0L195.8 563.6L195.8 564.2L195.8 564.8L195.8 565.4L195.9 566.0L195.9 566.6L195.9 567.2L195.9 567.8L196.0 568.4L196.0 569.0L196.0 569.6L196.0 570.2L196.1 570.8L196.1 571.4L196.1 572.0L196.1 572.6L196.2 573.2L196.2 573.8L196.2 574.4L196.2 575.0L196.3 575.6L196.3 576.2L196.3 576.8L196.3 577.4L196.3 578.0L196.4 578.6L196.4 579.2L196.4 579.8L196.4 580.4L196.5 581.0L196.5 581.6L196.5 582.2L196.5 582.8L196.6 583.4L196.6 584.0L196.6 584.6L196.6 585.2L196.6 585.8L196.7 586.4L196.7 587.0L196.7 587.6L196.7 588.2L196.7 588.8L196.8 589.4L196.8 590.0L196.8 590.6L196.8 591.2L196.8 591.8L196.8 592.4L196.8 593.0L196.8 593.6L196.8 594.2L196.9 594.8L196.9 595.4L196.9 596.0L196.9 596.6L196.9 597.2L196.9 597.8L196.9 598.4L196.9 599.0L196.9 599.6L196.9 600.2L196.9 600.8L197.0 601.4L197.0 602.0L197.0 602.6L197.0 603.2L197.0 603.8L197.0 604.4L197.0 605.0L197.0 605.6L197.0 606.2L197.0 606.8L197.1 607.4L197.1 608.0L197.1 608.6L197.1 609.2L197.1 609.8L197.1 610.4L197.1 611.0L197.2 611.6L197.2 612.2L197.2 612.8L197.2 613.4L197.2 614.0L197.2 614.6L197.2 615.2L197.3 615.8L197.3 616.4L197.3 617.0L197.3 617.6L197.3 618.2L197.4 618.8L197.4 619.4L197.4 620.0L197.4 620.6L197.4 621.2L197.5 621.8L197.5 622.4L197.5 623.0L197.5 623.6L197.5 624.2L197.6 624.8L197.6 625.4L197.6 626.0L197.6 626.6L197.7 627.2L197.7 627.8L197.7 628.4L197.7 629.0L197.8 629.6L197.8 630.2L197.8 630.8L197.8 631.4L197.9 632.0L197.9 632.6L197.9 633.2L198.0 633.8L198.0 634.4L198.0 635.0L198.1 635.6L198.1 636.2L198.1 636.8L198.1 637.4L198.2 638.0L198.2 638.6L198.2 639.2L198.3 639.8L198.3 640.4L198.3 641.0L198.4 641.6L198.4 642.2L198.4 642.8L198.5 643.4L198.5 644.0L198.5 644.6L198.5 645.2L198.6 645.8L198.6 646.4L198.6 647.0L198.7 647.6L198.7 648.2L198.7 648.8L198.8 649.4L198.8 650.0L198.8 650.6L198.9 651.2L198.9 651.8L199.0 652.4L199.0 653.0L199.1 653.6L199.2 654.4L199.3 655.1L199.4 655.9L199.5 656.7L199.6 657.5L199.7 658.2L199.9 658.9L200.0 659.5L200.1 660.1L200.2 660.6L200.4 660.9L200.5 661.1L200.6 661.2L200.7 661.1L200.8 660.9L200.9 660.6L201.1 660.1L201.2 659.5L201.3 658.9L201.4 658.2L201.5 657.5L201.7 656.7L201.8 655.9L201.9 655.1L202.1 654.4L202.2 653.7L202.4 653.0L202.5 652.4L202.7 651.8L202.9 651.0L203.1 650.3L203.3 649.6L203.6 648.9L203.8 648.3L204.0 647.8L204.2 647.6L204.5 647.5L204.7 647.7L204.9 648.1L205.1 648.6L205.3 649.2L205.5 649.9L205.8 650.7L206.0 651.4L206.1 652.1L206.3 652.7L206.5 653.3L206.6 653.9L206.8 654.4L206.9 655.0L207.0 655.6L207.2 656.2L207.3 656.8L207.4 657.4L207.6 658.0L207.7 658.5L207.9 659.1L208.0 659.7L208.2 660.3L208.3 660.9L208.5 661.6L208.7 662.4L208.8 663.1L209.0 663.9L209.2 664.6L209.4 665.3L209.5 665.9L209.7 666.5L210.0 666.9L210.2 667.3L210.4 667.5L210.7 667.5L211.0 667.3L211.4 667.0L211.9 666.6L212.4 666.0L212.8 665.4L213.2 664.8L213.5 664.2L213.8 663.7L214.0 663.1L214.1 662.6L214.3 662.0L214.4 661.5L214.5 660.9L214.6 660.3L214.7 659.7L214.8 659.1L214.9 658.5L215.0 657.9L215.1 657.2L215.2 656.6L215.3 656.0L215.4 655.4L215.5 654.8L215.6 654.2L215.7 653.6L215.8 653.1L215.9 652.5L216.0 651.9L216.1 651.3L216.2 650.7L216.3 650.1L216.4 649.5L216.5 648.9L216.6 648.3L216.7 647.7L216.8 647.1L216.9 646.5L216.9 645.9L217.0 645.4L217.1 644.8L217.2 644.2L217.3 643.6L217.4 643.0L217.5 642.4L217.6 641.8L217.6 641.2L217.7 640.6L217.8 640.0L217.9 639.4L218.0 638.8L218.1 638.2L218.1 637.6L218.2 637.0L218.3 636.4L218.4 635.8L218.4 635.2L218.5 634.7L218.6 634.1L218.7 633.5L218.8 632.9L218.8 632.3L218.9 631.7L219.0 631.1L219.0 630.5L219.1 629.9L219.2 629.3L219.3 628.7L219.3 628.1L219.4 627.5L219.5 626.9L219.5 626.3L219.6 625.7L219.7 625.1L219.7 624.5L219.8 623.9L219.9 623.3L219.9 622.7L220.0 622.1L220.0 621.5L220.1 620.9L220.1 620.3L220.2 619.7L220.2 619.2L220.3 618.6L220.4 618.0L220.4 617.4L220.5 616.8L220.5 616.2L220.5 615.6L220.6 615.0L220.6 614.4L220.7 613.8L220.7 613.2L220.8 612.6L220.8 612.0L220.8 611.4L220.9 610.8L220.9 610.2L221.0 609.6L221.0 609.0L221.0 608.4L221.1 607.8L221.1 607.2L221.1 606.6L221.1 606.0L221.2 605.4L221.2 604.8L221.2 604.2L221.3 603.6L221.3 603.0L221.3 602.4L221.3 601.8L221.4 601.2L221.4 600.6L221.4 600.0L221.4 599.4L221.5 598.8L221.5 598.2L221.5 597.6L221.5 597.0L221.6 596.4L221.6 595.8L221.6 595.2L221.6 594.6L221.7 594.0L221.7 593.4L221.7 592.8L221.7 592.2L221.7 591.6L221.8 591.0L221.8 590.4L221.8 589.8L221.8 589.2L221.9 588.6L221.9 588.0L221.9 587.4L221.9 586.8L222.0 586.2L222.0 585.6L222.0 585.0L222.0 584.4L222.1 583.8L222.1 583.2L222.1 582.6L222.1 582.0L222.2 581.4L222.2 580.8L222.2 580.2L222.2 579.6L222.3 579.0L222.3 578.4L222.3 577.8L222.3 577.2L222.4 576.6L222.4 576.0L222.4 575.4L222.4 574.8L222.5 574.2L222.5 573.6L222.5 573.0L222.6 572.4L222.6 571.8L222.6 571.2L222.6 570.6L222.7 570.0L222.7 569.4L222.7 568.8L222.8 568.2L222.8 567.6L222.8 567.0L222.8 566.4L222.9 565.8L222.9 565.2L222.9 564.6L223.0 564.0L223.0 563.4L223.0 562.8L223.0 562.2L223.1 561.6L223.1 561.0L223.1 560.4L223.2 559.8L223.2 559.2L223.2 558.6L223.3 558.0L223.3 557.4L223.3 556.8L223.4 556.2L223.4 555.6L223.4 555.0L223.4 554.4L223.5 553.8L223.5 553.2L223.5 552.6L223.6 552.0L223.6 551.4L223.6 550.8L223.7 550.2L223.7 549.6L223.7 549.0L223.8 548.4L223.8 547.8L223.8 547.2L223.8 546.6L223.9 546.0L223.9 545.4L223.9 544.8L224.0 544.2L224.0 543.6L224.0 543.0L224.0 542.4L224.1 541.8L224.1 541.2L224.1 540.7L224.2 540.1L224.2 539.5L224.2 538.9L224.2 538.3L224.3 537.7L224.3 537.1L224.3 536.5L224.4 535.9L224.4 535.3L224.4 534.7L224.4 534.1L224.5 533.5L224.5 532.9L224.5 532.3L224.5 531.7L224.6 531.1L224.6 530.5L224.6 529.9L224.6 529.3L224.7 528.7L224.7 528.1L224.7 527.5L224.7 526.9L224.8 526.3L224.8 525.7L224.8 525.1L224.8 524.5L224.9 523.9L224.9 523.3L224.9 522.7L224.9 522.1L224.9 521.5L225.0 520.9L225.0 520.3L225.0 519.7L225.0 519.1L225.0 518.5L225.1 517.9L225.1 517.3L225.1 516.7L225.1 516.1L225.1 515.5L225.2 514.9L225.2 514.3L225.2 513.7L225.2 513.1L225.2 512.5L225.2 511.9L225.3 511.3L225.3 510.7L225.3 510.1L225.3 509.5L225.3 508.9L225.4 508.3L225.4 507.7L225.4 507.1L225.4 506.5L225.4 505.9L225.4 505.3L225.5 504.7L225.5 504.1L225.5 503.5L225.5 502.9L225.5 502.3L225.5 501.7L225.6 501.1L225.6 500.5L225.6 499.9L225.6 499.3L225.6 498.7L225.6 498.1L225.6 497.5L225.7 496.9L225.7 496.3L225.7 495.7L225.7 495.1L225.7 494.5L225.7 493.9L225.7 493.3L225.8 492.7L225.8 492.1L225.8 491.5L225.8 490.9L225.8 490.3L225.8 489.7L225.8 489.1L225.9 488.5L225.9 487.9L225.9 487.3L225.9 486.7L225.9 486.1L225.9 485.5L225.9 484.9L226.0 484.3L226.0 483.7L226.0 483.1L226.0 482.5L226.0 481.9L226.0 481.3L226.0 480.7L226.1 480.1L226.1 479.5L226.1 478.9L226.1 478.3L226.1 477.7L226.1 477.1L226.1 476.5L226.2 475.9L226.2 475.3L226.2 474.7L226.2 474.1L226.2 473.5L226.2 472.9L226.3 472.3L226.3 471.7L226.3 471.1L226.3 470.5L226.3 469.9L226.4 469.3L226.4 468.7L226.4 468.1L226.4 467.5L226.4 466.9L226.5 466.3L226.5 465.7L226.5 465.1L226.5 464.5L226.6 463.9L226.6 463.3L226.6 462.7L226.7 462.1L226.7 461.5L226.7 460.9L226.7 460.3L226.8 459.7L226.8 459.1L226.8 458.5L226.9 457.9L226.9 457.3L226.9 456.7L227.0 456.1L227.0 455.5L227.0 454.9L227.0 454.3L227.1 453.7L227.1 453.1L227.1 452.5L227.2 451.9L227.2 451.3L227.2 450.7L227.2 450.1L227.3 449.5L227.3 448.9L227.3 448.3L227.4 447.7L227.4 447.1L227.4 446.5L227.5 445.9L227.5 445.3L227.6 444.7L227.6 444.1L227.6 443.5L227.7 442.9L227.7 442.3L227.7 441.7L227.8 441.1L227.8 440.5L227.9 439.9L227.9 439.3L228.0 438.7L228.0 438.1L228.1 437.5L228.1 436.9L228.2 436.3L228.2 435.7L228.3 435.1L228.4 434.5L228.4 434.0L228.5 433.4L228.6 432.8L228.7 432.2L228.7 431.6L228.8 431.0L228.9 430.4L229.0 429.8L229.1 429.2L229.2 428.6L229.3 428.0L229.4 427.4L229.5 426.8L229.7 426.3L229.8 425.7L229.9 425.1L230.1 424.5L230.2 423.9L230.3 423.3L230.5 422.7L230.7 422.2L230.8 421.6L231.0 421.0L231.1 420.4L231.3 419.9L231.5 419.3L231.6 418.7L231.8 418.1L232.0 417.6L232.2 417.0L232.4 416.4L232.5 415.8L232.7 415.3L232.9 414.7L233.1 414.1L233.3 413.6L233.5 413.0L233.6 412.4L233.8 411.8L234.0 411.3L234.2 410.7L234.4 410.1L234.6 409.6L234.7 409.0L234.9 408.4L235.1 407.8L235.3 407.3L235.4 406.7L235.6 406.1L235.8 405.5L235.9 405.0L236.1 404.4L236.3 403.8L236.4 403.2L236.6 402.6L236.7 402.1L236.9 401.5L237.1 400.9L237.2 400.3L237.3 399.7L237.5 399.1L237.6 398.4L237.8 397.8L237.9 397.2L238.1 396.7L238.3 396.1L238.5 395.6L238.7 395.1L239.0 394.7L239.4 394.2L239.9 393.7L240.4 393.2L240.9 392.8L241.4 392.6L241.9 392.5L242.3 392.7L242.8 393.1L243.2 393.7L243.6 394.2L244.0 394.7L244.6 395.1L245.1 395.6L245.6 396.0L246.0 396.2L246.4 396.2L246.7 395.9L247.0 395.5L247.3 395.0L247.5 394.4L247.8 393.7L248.0 393.0L248.3 392.3L248.5 391.7L248.8 391.1L249.1 390.6L249.4 390.0L249.7 389.5L250.0 389.0L250.3 388.5L250.7 388.0L251.0 387.5L251.4 386.9L251.9 386.4L252.3 385.9L252.8 385.7L253.3 385.6L253.8 385.6L254.5 385.7L255.1 385.8L255.8 385.9L256.3 386.0L256.9 386.2L257.3 386.4L257.6 386.8L257.9 387.3L258.2 387.9L258.5 388.5L258.8 389.1L259.2 389.7L259.5 390.1L259.9 390.7L260.3 391.3L260.8 391.7L261.2 391.9L261.6 391.8L261.9 391.4L262.3 390.9L262.7 390.4L263.1 389.7L263.4 389.2L263.8 388.7L264.2 388.2L264.6 387.6L265.0 387.1L265.4 386.6L265.8 386.1L266.3 385.8L266.8 385.6L267.3 385.6L267.9 385.5L268.6 385.5L269.2 385.5L269.8 385.6L270.3 385.7L270.7 385.9L271.1 386.3L271.4 386.9L271.8 387.5L272.1 388.1L272.4 388.7L272.7 389.3L273.0 389.8L273.2 390.3L273.5 390.9L273.7 391.4L274.0 392.0L274.2 392.5L274.5 393.1L274.7 393.6L275.0 394.2L275.2 394.7L275.5 395.2L275.8 395.8L276.1 396.3L276.3 396.8L276.6 397.4L276.9 397.9L277.2 398.4L277.5 399.0L277.8 399.5L278.1 400.0L278.4 400.6L278.6 401.1L278.9 401.6L279.1 402.2L279.2 402.7L279.4 403.3L279.5 403.9L279.6 404.5L279.7 405.1L279.8 405.7L279.9 406.3L280.0 406.9L280.1 407.5L280.2 408.1L280.2 408.7L280.3 409.3L280.3 409.9L280.4 410.5L280.4 411.1L280.5 411.7L280.5 412.3L280.5 412.9L280.6 413.5L280.6 414.1L280.6 414.7L280.7 415.3L280.7 415.9L280.7 416.5L280.8 417.1L280.8 417.7L280.8 418.3L280.9 418.9L280.9 419.5L280.9 420.1L280.9 420.7L281.0 421.3L281.0 421.9L281.0 422.5L281.0 423.1L281.1 423.7L281.1 424.3L281.1 424.9L281.1 425.5L281.2 426.1L281.2 426.7L281.2 427.3L281.2 427.9L281.3 428.5L281.3 429.1L281.3 429.7L281.3 430.2L281.4 430.8L281.4 431.4L281.4 432.0L281.5 432.6L281.5 433.2L281.5 433.8L281.5 434.4L281.6 435.0L281.6 435.6L281.6 436.2L281.7 436.8L281.7 437.4L281.7 438.0L281.8 438.6L281.8 439.2L281.8 439.8L281.9 440.4L281.9 441.0L281.9 441.6L282.0 442.2L282.0 442.8L282.0 443.4L282.1 444.0L282.1 444.6L282.1 445.2L282.2 445.8L282.2 446.4L282.2 447.0L282.2 447.6L282.2 448.2L282.2 448.8L282.2 449.4L282.2 450.0L282.2 450.6L282.3 451.2L282.3 451.8L282.3 452.4L282.3 453.0L282.3 453.6L282.3 454.2L282.3 454.8L282.3 455.4L282.3 456.0L282.3 456.6L282.3 457.2L282.4 457.8L282.4 458.4L282.4 459.0L282.4 459.6L282.4 460.2L282.4 460.8L282.4 461.4L282.4 462.0L282.4 462.6L282.4 463.2L282.5 463.8L282.5 464.4L282.5 465.0L282.5 465.6L282.5 466.2L282.5 466.8L282.6 467.4L282.6 468.0L282.6 468.6L282.6 469.2L282.7 469.8L282.7 470.4L282.7 471.0L282.8 471.6L282.8 472.2L282.9 472.8L283.0 473.4L283.0 474.0L283.1 474.6L283.1 475.2L283.1 475.8L283.1 476.4L283.2 477.0L283.2 477.6L283.2 478.2L283.2 478.8L283.3 479.4L283.3 480.0L283.3 480.6L283.3 481.2L283.3 481.8L283.4 482.4L283.4 483.0L283.4 483.6L283.4 484.2L283.4 484.8L283.5 485.4L283.5 486.0L283.5 486.6L283.5 487.2L283.5 487.8L283.5 488.4L283.6 489.0L283.6 489.6L283.6 490.2L283.6 490.8L283.6 491.4L283.7 492.0L283.7 492.6L283.7 493.2L283.7 493.8L283.7 494.4L283.7 495.0L283.8 495.6L283.8 496.2L283.8 496.8L283.8 497.4L283.8 498.0L283.8 498.6L283.9 499.2L283.9 499.8L283.9 500.4L283.9 501.0L283.9 501.6L284.0 502.2L284.0 502.8L284.0 503.4L284.0 504.0L284.0 504.6L284.0 505.2L284.1 505.8L284.1 506.4L284.1 507.0L284.1 507.6L284.1 508.2L284.2 508.8L284.2 509.4L284.2 510.0L284.2 510.6L284.2 511.2L284.3 511.8L284.3 512.4L284.3 513.0L284.3 513.6L284.3 514.2L284.4 514.8L284.4 515.4L284.4 516.0L284.4 516.6L284.4 517.2L284.5 517.8L284.5 518.4L284.5 519.0L284.5 519.6L284.6 520.2L284.6 520.8L284.6 521.4L284.6 522.0L284.6 522.6L284.7 523.2L284.7 523.8L284.7 524.4L284.7 525.0L284.7 525.6L284.7 526.2L284.7 526.8L284.7 527.4L284.7 528.0L284.8 528.6L284.8 529.2L284.8 529.8L284.8 530.4L284.8 531.0L284.8 531.6L284.8 532.2L284.8 532.8L284.8 533.4L284.8 534.0L284.8 534.6L284.8 535.2L284.9 535.8L284.9 536.4L284.9 537.0L284.9 537.6L284.9 538.2L284.9 538.8L284.9 539.4L284.9 540.0L284.9 540.6L284.9 541.2L284.9 541.8L284.9 542.4L285.0 543.0L285.0 543.6L285.0 544.2L285.0 544.8L285.0 545.4L285.0 546.0L285.0 546.6L285.1 547.2L285.1 547.8L285.1 548.4L285.1 549.0L285.1 549.6L285.1 550.2L285.2 550.8L285.2 551.4L285.2 552.0L285.2 552.6L285.3 553.2L285.3 553.8L285.3 554.4L285.3 555.0L285.4 555.6L285.4 556.2L285.4 556.8L285.5 557.4L285.5 558.0L285.5 558.6L285.6 559.2L285.6 559.8L285.7 560.4L285.8 561.0L285.8 561.6L285.9 562.1L285.9 562.7L286.0 563.3L286.0 563.9L286.1 564.6L286.1 565.3L286.1 566.0L286.2 566.7L286.2 567.5L286.3 568.3L286.3 569.1L286.3 569.9L286.4 570.7L286.4 571.5L286.5 572.2L286.5 572.9L286.5 573.6L286.6 574.3L286.6 574.9L286.7 575.4L286.7 575.9L286.7 576.3L286.8 576.6L286.8 576.8L286.9 577.0L286.9 577.0L287.0 576.9L287.0 576.6L287.1 576.1L287.1 575.5L287.2 574.9L287.2 574.1L287.3 573.3L287.3 572.5L287.4 571.8L287.4 571.0L287.5 570.3L287.5 569.7L287.6 569.1L287.6 568.5L287.7 567.9L287.7 567.3L287.8 566.7L287.8 566.1L287.8 565.5L287.9 564.9L287.9 564.3L288.0 563.7L288.0 563.1L288.1 562.5L288.1 561.9L288.2 561.3L288.2 560.7L288.2 560.1L288.3 559.5L288.3 558.9L288.4 558.3L288.4 557.7L288.4 557.1L288.5 556.5L288.5 555.9L288.6 555.4L288.6 554.8L288.6 554.2L288.7 553.6L288.7 553.0L288.7 552.4L288.8 551.8L288.8 551.2L288.8 550.6L288.9 550.0L288.9 549.4L288.9 548.8L289.0 548.2L289.0 547.6L289.0 547.0L289.1 546.4L289.1 545.8L289.1 545.2L289.2 544.6L289.2 544.0L289.2 543.4L289.3 542.8L289.3 542.2L289.3 541.6L289.3 541.0L289.4 540.4L289.4 539.8L289.4 539.2L289.4 538.6L289.5 538.0L289.5 537.4L289.5 536.8L289.5 536.2L289.6 535.6L289.6 535.0L289.6 534.4L289.6 533.8L289.6 533.2L289.7 532.6L289.7 532.0L289.7 531.4L289.7 530.8L289.7 530.2L289.7 529.6L289.7 529.0L289.7 528.4L289.8 527.8L289.8 527.2L289.8 526.6L289.8 526.0L289.8 525.4L289.8 524.8L289.8 524.2L289.8 523.6L289.8 523.0L289.9 522.4L289.9 521.8L289.9 521.2L289.9 520.6L289.9 520.0L289.9 519.4L289.9 518.8L289.9 518.2L290.0 517.6L290.0 517.0L290.0 516.4L290.0 515.8L290.0 515.2L290.0 514.6L290.0 514.0L290.0 513.4L290.1 512.8L290.1 512.2L290.1 511.6L290.1 511.0L290.1 510.4L290.1 509.8L290.1 509.2L290.1 508.6L290.2 508.0L290.2 507.4L290.2 506.8L290.2 506.2L290.2 505.6L290.2 505.0L290.2 504.4L290.3 503.8L290.3 503.2L290.3 502.6L290.3 502.0L290.3 501.4L290.3 500.8L290.4 500.2L290.4 499.6L290.4 499.0L290.4 498.4L290.4 497.8L290.4 497.2L290.5 496.6L290.5 496.0L290.5 495.4L290.5 494.8L290.5 494.2L290.6 493.6L290.6 493.0L290.6 492.4L290.6 491.8L290.6 491.2L290.7 490.6L290.7 490.0L290.7 489.4L290.7 488.8L290.7 488.2L290.8 487.6L290.8 487.0L290.8 486.4L290.8 485.8L290.9 485.2L290.9 484.6L290.9 484.0L290.9 483.4L290.9 482.8L291.0 482.2L291.0 481.6L291.0 481.0L291.0 480.4L291.1 479.8L291.1 479.2L291.1 478.6L291.1 478.0L291.2 477.4L291.2 476.8L291.2 476.2L291.3 475.6L291.3 475.0L291.3 474.4L291.3 473.8L291.4 473.2L291.4 472.6L291.4 472.0L291.5 471.4L291.5 470.8L291.5 470.2L291.6 469.6L291.6 469.0L291.6 468.4L291.7 467.8L291.7 467.2L291.8 466.6L291.8 466.0L291.9 465.4L291.9 464.8L292.0 464.2L292.0 463.4L292.1 462.7L292.2 461.9L292.3 461.1L292.3 460.3L292.4 459.6L292.5 458.9L292.6 458.3L292.7 457.8L292.8 457.3L292.9 457.1L293.1 456.9L293.2 456.9L293.3 457.2L293.5 457.5L293.7 458.1L293.9 458.7L294.2 459.4L294.4 460.1L294.6 460.9L294.7 461.7L294.9 462.4L295.0 463.0L295.1 463.6L295.1 464.2L295.2 464.8L295.3 465.4L295.3 466.0L295.4 466.5L295.4 467.1L295.5 467.7L295.5 468.3L295.6 468.9L295.6 469.5L295.6 470.1L295.7 470.7L295.7 471.3L295.7 471.9L295.8 472.5L295.8 473.1L295.8 473.7L295.9 474.4L295.9 475.0L295.9 475.6L296.0 476.2L296.0 476.8L296.0 477.4L296.1 478.0L296.1 478.6L296.1 479.2L296.2 479.8L296.2 480.4L296.3 481.0L296.3 481.6L296.3 482.2L296.4 482.8L296.4 483.4L296.4 484.0L296.5 484.6L296.5 485.2L296.5 485.8L296.6 486.4L296.6 487.0L296.6 487.6L296.7 488.1L296.7 488.7L296.7 489.3L296.8 489.9L296.8 490.5L296.8 491.1L296.9 491.7L296.9 492.3L296.9 492.9L297.0 493.5L297.0 494.1L297.0 494.7L297.1 495.3L297.1 495.9L297.1 496.5L297.2 497.1L297.2 497.7L297.2 498.3L297.3 498.9L297.3 499.5L297.3 500.1L297.4 500.7L297.4 501.3L297.4 501.9L297.5 502.5L297.5 503.1L297.5 503.7L297.6 504.3L297.6 504.9L297.6 505.5L297.7 506.1L297.7 506.7L297.7 507.3L297.8 507.9L297.8 508.5L297.8 509.1L297.9 509.7L297.9 510.3L297.9 510.9L298.0 511.5L298.0 512.1L298.0 512.7L298.1 513.3L298.1 513.9L298.1 514.5L298.2 515.1L298.2 515.7L298.3 516.3L298.3 516.9L298.3 517.5L298.4 518.1L298.4 518.7L298.4 519.3L298.5 519.9L298.5 520.5L298.5 521.1L298.6 521.7L298.6 522.3L298.6 522.9L298.7 523.5L298.7 524.1L298.7 524.7L298.8 525.3L298.8 525.9L298.8 526.5L298.9 527.1L298.9 527.7L298.9 528.3L299.0 528.9L299.0 529.5L299.0 530.1L299.1 530.7L299.1 531.3L299.1 531.9L299.2 532.5L299.2 533.1L299.2 533.7L299.3 534.3L299.3 534.9L299.3 535.5L299.4 536.1L299.4 536.7L299.4 537.3L299.5 537.9L299.5 538.5L299.5 539.1L299.6 539.7L299.6 540.3L299.7 540.9L299.7 541.5L299.7 542.1L299.8 542.7L299.8 543.3L299.9 543.9L299.9 544.5L299.9 545.1L300.0 545.7L300.0 546.3L300.1 546.9L300.1 547.5L300.1 548.0L300.2 548.6L300.2 549.2L300.3 549.8L300.3 550.4L300.3 551.0L300.4 551.6L300.4 552.2L300.5 552.8L300.5 553.4L300.6 554.0L300.6 554.6L300.6 555.2L300.7 555.8L300.7 556.4L300.8 557.0L300.8 557.6L300.9 558.2L300.9 558.8L300.9 559.4L301.0 560.0L301.0 560.6L301.1 561.2L301.1 561.8L301.2 562.4L301.2 563.0L301.3 563.6L301.3 564.2L301.3 564.8L301.4 565.4L301.4 566.0L301.5 566.6L301.5 567.2L301.6 567.8L301.6 568.4L301.7 569.0L301.7 569.6L301.8 570.2L301.8 570.8L301.9 571.4L301.9 572.0L301.9 572.6L302.0 573.2L302.0 573.8L302.1 574.4L302.1 575.0L302.2 575.6L302.2 576.2L302.3 576.8L302.3 577.4L302.4 578.0L302.4 578.6L302.5 579.2L302.5 579.8L302.6 580.4L302.6 581.0L302.7 581.6L302.7 582.1L302.8 582.7L302.9 583.3L302.9 583.9L303.0 584.5L303.0 585.1L303.1 585.7L303.1 586.3L303.2 586.9L303.2 587.5L303.3 588.1L303.4 588.7L303.4 589.3L303.5 589.9L303.5 590.5L303.6 591.1L303.7 591.7L303.7 592.3L303.8 592.9L303.8 593.5L303.9 594.1L304.0 594.7L304.0 595.3L304.1 595.9L304.2 596.5L304.2 597.1L304.3 597.7L304.4 598.3L304.4 598.9L304.5 599.5L304.6 600.1L304.6 600.7L304.7 601.2L304.8 601.8L304.8 602.4L304.9 603.0L305.0 603.6L305.0 604.2L305.1 604.8L305.2 605.4L305.2 606.0L305.3 606.6L305.3 607.2L305.4 607.8L305.5 608.4L305.5 609.0L305.6 609.6L305.7 610.2L305.7 610.8L305.8 611.4L305.9 612.0L305.9 612.6L306.0 613.2L306.1 613.8L306.1 614.4L306.2 615.0L306.2 615.6L306.3 616.2L306.4 616.8L306.5 617.4L306.5 617.9L306.6 618.5L306.7 619.1L306.8 619.7L306.9 620.3L307.0 620.9L307.1 621.5L307.2 622.1L307.3 622.7L307.4 623.3L307.5 623.9L307.7 624.5L307.8 625.1L307.9 625.9L308.1 626.6L308.2 627.3L308.4 627.9L308.7 628.3L309.0 628.5L309.5 628.5L310.0 628.1L310.3 627.6L310.5 627.1L310.6 626.6L310.7 626.0L310.8 625.4L310.8 624.8L310.9 624.2L311.0 623.6L311.0 622.9L311.1 622.3L311.1 621.7L311.2 621.1L311.3 620.5L311.3 619.9L311.4 619.3L311.5 618.7L311.5 618.1L311.6 617.5L311.7 616.9L311.8 616.3L311.8 615.7L311.9 615.1L312.0 614.5L312.0 613.9L312.1 613.3L312.2 612.7L312.2 612.1L312.3 611.5L312.4 610.9L312.4 610.3L312.5 609.7L312.6 609.1L312.7 608.5L312.7 607.9L312.8 607.3L312.9 606.8L313.0 606.2L313.0 605.6L313.1 605.0L313.2 604.4L313.3 603.8L313.4 603.2L313.5 602.6L313.6 602.0L313.7 601.4L313.8 600.8L313.9 600.2L314.0 599.6L314.1 599.0L314.2 598.5L314.3 597.9L314.4 597.3L314.5 596.7L314.6 596.1L314.7 595.5L314.8 594.9L314.9 594.3L315.0 593.7L315.2 593.1L315.3 592.6L315.4 592.0L315.5 591.4L315.6 590.8L315.7 590.2L315.8 589.6L315.9 589.0L316.0 588.4L316.1 587.8L316.2 587.2L316.3 586.6L316.4 586.0L316.5 585.5L316.6 584.9L316.7 584.3L316.8 583.7L316.8 583.1L316.9 582.5L317.0 581.9L317.1 581.3L317.2 580.7L317.3 580.1L317.4 579.5L317.4 578.9L317.5 578.3L317.6 577.7L317.7 577.1L317.8 576.5L317.8 576.0L317.9 575.4L318.0 574.8L318.1 574.2L318.1 573.6L318.2 573.0L318.3 572.4L318.3 571.8L318.4 571.2L318.5 570.6L318.5 570.0L318.6 569.4L318.7 568.8L318.7 568.2L318.8 567.6L318.8 567.0L318.9 566.4L319.0 565.8L319.0 565.2L319.1 564.6L319.1 564.0L319.2 563.4L319.2 562.8L319.3 562.2L319.3 561.6L319.4 561.0L319.4 560.4L319.5 559.8L319.5 559.2L319.6 558.6L319.6 558.0L319.7 557.4L319.7 556.8L319.7 556.2L319.8 555.6L319.8 555.0L319.9 554.4L319.9 553.8L319.9 553.3L320.0 552.7L320.0 552.1L320.0 551.5L320.0 550.9L320.1 550.3L320.1 549.7L320.1 549.1L320.2 548.5L320.2 547.9L320.2 547.3L320.2 546.7L320.3 546.1L320.3 545.5L320.3 544.9L320.3 544.3L320.4 543.7L320.4 543.1L320.4 542.5L320.4 541.9L320.4 541.3L320.5 540.7L320.5 540.1L320.5 539.5L320.5 538.9L320.5 538.3L320.6 537.7L320.6 537.1L320.6 536.5L320.6 535.9L320.6 535.3L320.6 534.7L320.6 534.1L320.7 533.5L320.7 532.9L320.7 532.3L320.7 531.7L320.7 531.1L320.7 530.5L320.7 529.9L320.8 529.3L320.8 528.7L320.8 528.1L320.8 527.5L320.8 526.9L320.8 526.3L320.8 525.7L320.9 525.1L320.9 524.5L320.9 523.9L320.9 523.3L320.9 522.7L320.9 522.1L320.9 521.5L321.0 520.9L321.0 520.3L321.0 519.7L321.0 519.1L321.0 518.5L321.0 517.9L321.0 517.3L321.1 516.7L321.1 516.1L321.1 515.5L321.1 514.9L321.1 514.3L321.1 513.7L321.2 513.1L321.2 512.5L321.2 511.9L321.2 511.3L321.2 510.7L321.2 510.1L321.3 509.5L321.3 508.9L321.3 508.3L321.3 507.7L321.3 507.1L321.3 506.5L321.4 505.9L321.4 505.3L321.4 504.7L321.4 504.1L321.4 503.5L321.5 502.9L321.5 502.3L321.5 501.7L321.5 501.1L321.5 500.5L321.6 499.9L321.6 499.3L321.6 498.7L321.6 498.1L321.6 497.5L321.7 496.9L321.7 496.3L321.7 495.7L321.7 495.1L321.8 494.5L321.8 493.9L321.8 493.3L321.8 492.7L321.9 492.1L321.9 491.5L321.9 490.9L321.9 490.3L322.0 489.7L322.0 489.1L322.0 488.5L322.0 487.9L322.1 487.3L322.1 486.7L322.1 486.1L322.2 485.5L322.2 484.9L322.2 484.3L322.2 483.7L322.3 483.1L322.3 482.5L322.3 481.9L322.3 481.3L322.4 480.7L322.4 480.1L322.4 479.5L322.5 478.9L322.5 478.3L322.5 477.7L322.6 477.1L322.6 476.5L322.6 475.9L322.7 475.3L322.7 474.7L322.7 474.1L322.8 473.5L322.8 472.9L322.8 472.3L322.9 471.7L322.9 471.1L322.9 470.5L323.0 469.9L323.0 469.3L323.0 468.7L323.1 468.1L323.1 467.5L323.1 466.9L323.2 466.3L323.2 465.7L323.2 465.1L323.3 464.5L323.3 463.9L323.4 463.3L323.4 462.7L323.4 462.1L323.5 461.5L323.5 460.9L323.6 460.3L323.6 459.7L323.6 459.1L323.7 458.5L323.7 457.9L323.8 457.3L323.8 456.7L323.8 456.1L323.9 455.5L323.9 454.9L324.0 454.3L324.0 453.7L324.0 453.1L324.1 452.5L324.1 451.9L324.1 451.3L324.2 450.7L324.2 450.1L324.2 449.6L324.3 449.0L324.3 448.4L324.3 447.8L324.4 447.2L324.4 446.6L324.4 446.0L324.4 445.4L324.5 444.8L324.5 444.2L324.5 443.6L324.6 443.0L324.6 442.4L324.6 441.8L324.7 441.2L324.7 440.6L324.7 440.0L324.8 439.4L324.8 438.8L324.8 438.2L324.9 437.6L324.9 437.0L324.9 436.4L325.0 435.8L325.0 435.2L325.1 434.6L325.1 434.0L325.1 433.4L325.2 432.8L325.2 432.2L325.3 431.6L325.3 431.0L325.3 430.4L325.4 429.8L325.4 429.2L325.5 428.6L325.5 428.0L325.5 427.4L325.6 426.8L325.6 426.2L325.7 425.6L325.7 425.0L325.7 424.4L325.8 423.8L325.8 423.2L325.9 422.6L325.9 422.0L326.0 421.4L326.0 420.8L326.1 420.2L326.1 419.6L326.1 419.0L326.2 418.4L326.2 417.8L326.3 417.2L326.3 416.6L326.4 416.0L326.4 415.4L326.4 414.8L326.5 414.2L326.5 413.6L326.6 413.0L326.6 412.4L326.7 411.8L326.7 411.2L326.7 410.6L326.8 410.0L326.8 409.4L326.9 408.8L326.9 408.2L327.0 407.6L327.0 407.0L327.1 406.4L327.1 405.8L327.2 405.3L327.3 404.7L327.3 404.1L327.4 403.5L327.4 402.9L327.5 402.3L327.6 401.7L327.6 401.1L327.7 400.5L327.8 399.9L327.9 399.3L327.9 398.7L328.0 398.1L328.1 397.5L328.2 396.9L328.3 396.3L328.4 395.7L328.5 395.1L328.6 394.5L328.8 394.0L328.9 393.4L329.1 392.8L329.2 392.2L329.4 391.6L329.6 391.0L329.8 390.5L330.0 389.9L330.2 389.4L330.5 388.9L330.8 388.3L331.1 387.8L331.4 387.3L331.8 386.8L332.2 386.3L332.6 385.9L333.0 385.5L333.5 385.1L334.0 384.8L334.6 384.4L335.1 384.2L335.7 384.1L336.3 384.0L336.8 383.9L337.5 383.9L338.1 383.8L338.7 383.8L339.3 383.8L339.9 383.8L340.5 383.8L341.1 383.8L341.7 383.8L342.3 383.8L342.9 383.8L343.5 383.8L344.1 383.9L344.7 384.0L345.2 384.1L345.8 384.3L346.4 384.4L347.0 384.5L347.6 384.7L348.2 384.8L348.8 384.9L349.4 385.0L350.0 385.0L350.5 384.8L351.1 384.6L351.7 384.4L352.3 384.3L352.9 384.2L353.5 384.1L354.1 384.0L354.7 383.9L355.3 383.8L355.9 383.8L356.5 383.8L357.1 383.8L357.7 383.8L358.3 383.8L358.9 383.8L359.5 383.8L360.1 383.8L360.7 383.8L361.3 383.8L361.9 383.8L362.5 383.8L363.1 383.8L363.6 383.9L364.1 384.1L364.7 384.5L365.2 385.0L365.6 385.5L366.0 386.0L366.2 386.6L366.4 387.0L366.5 387.6L366.7 388.1L366.8 388.7L366.9 389.3L367.0 389.9L367.1 390.6L367.1 391.2L367.2 391.8L367.3 392.4L367.3 393.0L367.4 393.6L367.5 394.2L367.5 394.8L367.6 395.4L367.6 396.0L367.7 396.6L367.8 397.2L367.8 397.8L367.9 398.4L367.9 399.0L367.9 399.6L368.0 400.2L368.0 400.8L368.1 401.4L368.1 402.0L368.2 402.6L368.2 403.2L368.2 403.8L368.3 404.4L368.3 405.0L368.3 405.6L368.4 406.2L368.4 406.8L368.4 407.4L368.5 408.0L368.5 408.6L368.5 409.2L368.6 409.8L368.6 410.4L368.6 411.0L368.7 411.6L368.7 412.2L368.7 412.8L368.8 413.4L368.8 414.0L368.9 414.6L368.9 415.2L368.9 415.8L369.0 416.4L369.0 417.0L369.0 417.6L369.1 418.2L369.1 418.8L369.1 419.4L369.2 420.0L369.2 420.6L369.2 421.2L369.3 421.8L369.3 422.4L369.4 423.0L369.4 423.6L369.4 424.2L369.5 424.8L369.5 425.4L369.5 426.0L369.6 426.6L369.6 427.2L369.7 427.8L369.7 428.4L369.7 429.0L369.8 429.6L369.8 430.2L369.9 430.8L369.9 431.4L369.9 432.0L370.0 432.6L370.0 433.2L370.1 433.8L370.1 434.4L370.1 434.9L370.2 435.5L370.2 436.1L370.3 436.7L370.3 437.3L370.4 437.9L370.4 438.5L370.4 439.1L370.5 439.7L370.5 440.3L370.6 440.9L370.6 441.6L370.7 442.3L370.8 443.1L370.8 443.9L370.9 444.6L370.9 445.4L371.0 446.0L371.1 446.6L371.1 447.0L371.2 447.2L371.2 447.2L371.3 447.0L371.3 446.7L371.4 446.3L371.4 445.8L371.5 445.2L371.5 444.5L371.6 443.8L371.6 443.0L371.7 442.2L371.7 441.4L371.8 440.6L371.8 439.9L371.9 439.2L371.9 438.5L371.9 437.9L372.0 437.3L372.0 436.7L372.1 436.1L372.1 435.5L372.2 434.9L372.2 434.3L372.3 433.7L372.3 433.1L372.4 432.5L372.4 431.9L372.5 431.3L372.5 430.7L372.6 430.2L372.6 429.6L372.7 429.0L372.7 428.4L372.8 427.8L372.8 427.2L372.9 426.6L372.9 426.0L372.9 425.4L373.0 424.8L373.1 424.2L373.1 423.6L373.2 423.0L373.2 422.4L373.3 421.8L373.3 421.2L373.4 420.6L373.4 420.0L373.5 419.4L373.6 418.8L373.6 418.2L373.7 417.6L373.8 417.0L373.8 416.4L373.9 415.8L374.0 415.2L374.1 414.6L374.2 414.0L374.3 413.4L374.4 412.8L374.5 412.3L374.7 411.7L374.8 411.1L374.9 410.5L375.1 409.9L375.2 409.3L375.4 408.8L375.6 408.2L375.8 407.6L376.0 407.0L376.3 406.4L376.6 405.9L376.9 405.5L377.2 405.0L377.7 404.5L378.3 404.1L378.8 403.7L379.3 403.5L379.6 403.5L379.9 403.8L380.1 404.2L380.4 404.8L380.6 405.5L380.8 406.2L380.9 407.0L381.1 407.7L381.2 408.3L381.3 408.9L381.4 409.5L381.5 410.1L381.6 410.7L381.6 411.3L381.7 411.9L381.8 412.5L381.8 413.1L381.9 413.7L382.0 414.3L382.1 414.9L382.1 415.5L382.2 416.1L382.2 416.7L382.3 417.3L382.4 417.9L382.4 418.5L382.5 419.1L382.5 419.7L382.6 420.3L382.6 420.9L382.7 421.5L382.7 422.1L382.8 422.7L382.8 423.3L382.9 423.9L382.9 424.5L383.0 425.1L383.1 425.6L383.1 426.2L383.2 426.8L383.2 427.4L383.3 428.0L383.3 428.6L383.4 429.2L383.4 429.8L383.5 430.4L383.5 431.0L383.6 431.6L383.6 432.2L383.7 432.8L383.7 433.4L383.8 434.0L383.8 434.6L383.9 435.2L383.9 435.8L384.0 436.4L384.0 437.0L384.1 437.6L384.1 438.2L384.2 438.8L384.2 439.4L384.3 440.0L384.3 440.6L384.4 441.2L384.4 441.8L384.5 442.4L384.5 443.0L384.5 443.6L384.6 444.2L384.6 444.8L384.7 445.4L384.7 446.0L384.8 446.6L384.8 447.2L384.9 447.8L384.9 448.4L385.0 449.0L385.0 449.6L385.1 450.2L385.1 450.8L385.1 451.4L385.2 452.0L385.2 452.6L385.3 453.2L385.3 453.8L385.4 454.4L385.4 455.0L385.4 455.6L385.5 456.2L385.5 456.8L385.5 457.4L385.5 458.0L385.6 458.6L385.6 459.2L385.7 459.9L385.8 460.6L385.9 461.4L386.0 462.2L386.1 462.9L386.2 463.7L386.4 464.3L386.5 464.9L386.6 465.4L386.7 465.8L386.8 466.0L386.9 466.0L387.0 465.8L387.1 465.6L387.2 465.2L387.3 464.6L387.4 464.0L387.5 463.4L387.6 462.6L387.7 461.9L387.8 461.1L387.9 460.3L388.0 459.5L388.0 458.8L388.1 458.1L388.1 457.5L388.1 456.9L388.1 456.3L388.2 455.7L388.2 455.1L388.2 454.5L388.2 453.9L388.2 453.3L388.2 452.7L388.3 452.1L388.3 451.5L388.3 450.9L388.3 450.3L388.4 449.7L388.4 449.1L388.4 448.5L388.4 447.9L388.5 447.3L388.5 446.7L388.5 446.1L388.6 445.5L388.6 444.9L388.6 444.3L388.7 443.7L388.7 443.1L388.7 442.5L388.8 441.9L388.8 441.3L388.8 440.7L388.9 440.1L388.9 439.5L388.9 438.9L389.0 438.3L389.0 437.7L389.1 437.1L389.1 436.5L389.1 435.9L389.2 435.3L389.2 434.7L389.2 434.1L389.3 433.5L389.3 432.9L389.4 432.3L389.4 431.7L389.4 431.1L389.5 430.5L389.5 429.9L389.6 429.3L389.6 428.7L389.7 428.1L389.7 427.5L389.8 426.9L389.8 426.3L389.8 425.7L389.9 425.1L389.9 424.5L390.0 423.9L390.0 423.3L390.0 422.7L390.1 422.1L390.1 421.5L390.2 420.9L390.3 420.3L390.3 419.7L390.4 419.1L390.5 418.5L390.6 417.9L390.7 417.3L390.8 416.8L390.9 416.2L391.0 415.6L391.2 415.0L391.3 414.4L391.5 413.9L391.7 413.3L391.9 412.7L392.1 412.2L392.3 411.6L392.6 411.0L392.8 410.4L393.0 409.7L393.2 409.1L393.5 408.6L393.9 408.5L394.4 408.8L394.6 409.2L394.7 409.7L394.8 410.2L395.0 410.7L395.0 411.3L395.1 411.9L395.2 412.6L395.2 413.2L395.3 413.9L395.3 414.5L395.4 415.2L395.4 415.9L395.5 416.5L395.5 417.1L395.6 417.7L395.7 418.3L395.8 418.9L395.8 419.5L395.9 420.1L396.0 420.7L396.0 421.3L396.1 421.9L396.2 422.5L396.3 423.1L396.3 423.7L396.4 424.3L396.5 424.9L396.5 425.5L396.6 426.1L396.6 426.7L396.7 427.3L396.8 427.9L396.8 428.5L396.9 429.1L396.9 429.7L397.0 430.3L397.0 430.9L397.1 431.5L397.1 432.1L397.2 432.7L397.2 433.3L397.3 433.9L397.3 434.5L397.4 435.1L397.4 435.7L397.5 436.2L397.5 436.8L397.6 437.4L397.6 438.0L397.7 438.6L397.7 439.2L397.8 439.8L397.8 440.4L397.9 441.0L397.9 441.6L398.0 442.2L398.0 442.8L398.1 443.4L398.1 444.0L398.1 444.6L398.2 445.2L398.2 445.8L398.3 446.4L398.3 447.0L398.4 447.6L398.4 448.2L398.5 448.8L398.5 449.4L398.6 450.0L398.6 450.6L398.6 451.2L398.7 451.8L398.7 452.4L398.8 453.0L398.8 453.6L398.9 454.2L398.9 454.8L399.0 455.4L399.0 456.0L399.1 456.6L399.1 457.2L399.2 457.8L399.2 458.4L399.3 459.0L399.3 459.6L399.4 460.2L399.4 460.8L399.5 461.4L399.5 462.0L399.6 462.6L399.7 463.2L399.7 463.8L399.8 464.4L399.8 465.0L399.9 465.6L399.9 466.1L400.0 466.7L400.1 467.3L400.1 467.9L400.2 468.5L400.2 469.1L400.3 469.7L400.4 470.3L400.4 470.9L400.5 471.5L400.6 472.1L400.7 472.7L400.8 473.3L400.9 473.9L400.9 474.5L401.0 475.1L401.1 475.7L401.2 476.3L401.3 476.9L401.4 477.5L401.5 478.0L401.6 478.6L401.7 479.2L401.8 479.8L401.9 480.4L401.9 481.0L402.0 481.6L402.1 482.2L402.2 482.8L402.2 483.4L402.3 484.0L402.4 484.6L402.5 485.2L402.5 485.8L402.6 486.4L402.7 487.0L402.8 487.6L402.8 488.2L402.9 488.8L403.0 489.3L403.1 489.9L403.1 490.5L403.2 491.1L403.3 491.7L403.3 492.3L403.4 492.9L403.5 493.5L403.6 494.1L403.7 494.7L403.8 495.3L403.9 496.0L404.0 496.7L404.2 497.4L404.3 498.2L404.5 499.0L404.6 499.7L404.8 500.4L404.9 501.1L405.1 501.6L405.2 502.0L405.4 502.3L405.5 502.5L405.7 502.5L405.9 502.2L406.0 501.9L406.2 501.3L406.4 500.7L406.5 500.0L406.7 499.2L406.9 498.5L407.0 497.7L407.1 497.0L407.2 496.3L407.3 495.8L407.4 495.2L407.5 494.6L407.6 494.0L407.6 493.4L407.7 492.8L407.7 492.2L407.8 491.6L407.9 491.0L407.9 490.4L408.0 489.8L408.0 489.2L408.1 488.6L408.2 488.0L408.2 487.4L408.3 486.8L408.4 486.2L408.4 485.6L408.5 485.0L408.5 484.4L408.6 483.8L408.6 483.2L408.7 482.6L408.7 482.0L408.8 481.4L408.8 480.8L408.9 480.2L408.9 479.6L409.0 479.0L409.0 478.4L409.1 477.8L409.1 477.2L409.2 476.6L409.2 476.0L409.3 475.4L409.3 474.8L409.3 474.2L409.4 473.6L409.4 473.0L409.4 472.4L409.5 471.8L409.5 471.2L409.5 470.7L409.6 470.1L409.6 469.5L409.6 468.9L409.7 468.3L409.7 467.7L409.7 467.1L409.8 466.5L409.8 465.9L409.8 465.3L409.9 464.7L409.9 464.1L409.9 463.5L410.0 462.9L410.0 462.3L410.0 461.7L410.1 461.1L410.1 460.5L410.1 459.9L410.2 459.3L410.2 458.7L410.3 458.1L410.3 457.5L410.3 456.9L410.4 456.3L410.4 455.7L410.5 455.1L410.5 454.5L410.6 453.9L410.6 453.3L410.6 452.7L410.7 452.1L410.7 451.5L410.8 450.9L410.8 450.3L410.9 449.7L410.9 449.1L411.0 448.5L411.0 447.9L411.1 447.3L411.1 446.7L411.2 446.1L411.3 445.5L411.3 444.9L411.4 444.3L411.4 443.7L411.5 443.1L411.5 442.5L411.6 441.9L411.6 441.3L411.7 440.7L411.8 440.1L411.8 439.5L411.9 438.9L411.9 438.3L412.0 437.7L412.1 437.1L412.1 436.6L412.2 436.0L412.3 435.4L412.3 434.8L412.4 434.2L412.5 433.6L412.5 433.0L412.6 432.4L412.7 431.8L412.8 431.2L412.8 430.6L412.9 430.0L413.0 429.4L413.1 428.8L413.2 428.2L413.3 427.6L413.4 427.0L413.5 426.4L413.6 425.8L413.7 425.1L413.9 424.4L414.0 423.6L414.2 422.9L414.4 422.2L414.6 421.7L414.8 421.3L415.0 421.2L415.2 421.3L415.4 421.6L415.7 422.1L415.9 422.7L416.1 423.4L416.4 424.1L416.6 424.8L416.8 425.6L416.9 426.2L417.0 426.8L417.1 427.4L417.2 427.9L417.3 428.5L417.3 429.1L417.4 429.7L417.5 430.3L417.5 430.9L417.6 431.5L417.6 432.1L417.7 432.7L417.7 433.3L417.8 433.9L417.8 434.5L417.9 435.1L417.9 435.7L418.0 436.3L418.0 436.9L418.1 437.5L418.2 438.1L418.2 438.7L418.3 439.3L418.3 439.9L418.4 440.5L418.5 441.1L418.5 441.7L418.6 442.3L418.6 442.9L418.7 443.5L418.7 444.1L418.8 444.7L418.9 445.3L418.9 445.9L419.0 446.5L419.0 447.1L419.1 447.7L419.1 448.3L419.2 448.9L419.2 449.5L419.3 450.1L419.3 450.7L419.4 451.3L419.5 451.9L419.5 452.5L419.6 453.1L419.6 453.7L419.7 454.3L419.7 454.9L419.8 455.5L419.8 456.1L419.9 456.6L419.9 457.2L420.0 457.8L420.0 458.4L420.1 459.0L420.1 459.6L420.2 460.2L420.2 460.8L420.3 461.4L420.3 462.0L420.4 462.6L420.4 463.2L420.5 463.8L420.5 464.4L420.6 465.0L420.6 465.6L420.7 466.2L420.7 466.8L420.8 467.4L420.8 468.0L420.9 468.6L420.9 469.2L421.0 469.8L421.0 470.4L421.1 471.0L421.1 471.6L421.1 472.2L421.2 472.8L421.2 473.4L421.3 474.0L421.3 474.6L421.4 475.2L421.4 475.8L421.5 476.4L421.5 477.0L421.5 477.6L421.6 478.2L421.6 478.8L421.7 479.4L421.7 480.0L421.7 480.6L421.7 481.2L421.8 481.8L421.8 482.4L421.8 483.0L421.9 483.6L421.9 484.2L421.9 484.8L421.9 485.4L421.9 486.0L422.0 486.6L422.0 487.2L422.0 487.8L422.0 488.4L422.0 489.0L422.1 489.6L422.1 490.2L422.1 490.8L422.1 491.4L422.1 492.0L422.2 492.6L422.2 493.2L422.2 493.8L422.2 494.4L422.2 495.0L422.3 495.6L422.3 496.2L422.3 496.8L422.3 497.4L422.3 498.0L422.3 498.6L422.4 499.2L422.4 499.8L422.4 500.4L422.4 501.0L422.4 501.6L422.4 502.2L422.5 502.8L422.5 503.4L422.5 504.0L422.5 504.6L422.5 505.2L422.6 505.8L422.6 506.4L422.6 507.0L422.6 507.6L422.6 508.2L422.7 508.8L422.7 509.4L422.7 510.0L422.7 510.6L422.7 511.2L422.7 511.8L422.8 512.4L422.8 513.0L422.8 513.6L422.8 514.2L422.8 514.8L422.9 515.4L422.9 516.0L422.9 516.6L422.9 517.2L422.9 517.8L423.0 518.4L423.0 519.0L423.0 519.6L423.0 520.2L423.0 520.8L423.0 521.4L423.1 522.0L423.1 522.6L423.1 523.2L423.1 523.8L423.1 524.4L423.1 525.0L423.2 525.6L423.2 526.2L423.2 526.8L423.2 527.4L423.2 528.0L423.2 528.6L423.3 529.2L423.3 529.8L423.3 530.4L423.3 530.9L423.3 531.5L423.4 532.1L423.4 532.7L423.4 533.3L423.4 533.9L423.4 534.5L423.4 535.1L423.5 535.7L423.5 536.3L423.5 536.9L423.5 537.5L423.5 538.1L423.6 538.7L423.6 539.3L423.6 539.9L423.6 540.5L423.6 541.1L423.6 541.7L423.7 542.3L423.7 542.9L423.7 543.5L423.7 544.1L423.7 544.7L423.8 545.3L423.8 545.9L423.8 546.5L423.8 547.1L423.8 547.7L423.9 548.3L423.9 548.9L423.9 549.5L423.9 550.1L423.9 550.7L424.0 551.3L424.0 551.9L424.0 552.5L424.0 553.1L424.1 553.7L424.1 554.3L424.1 554.9L424.1 555.5L424.2 556.1L424.2 556.7L424.2 557.3L424.2 557.9L424.2 558.5L424.3 559.1L424.3 559.7L424.3 560.3L424.3 560.9L424.3 561.5L424.3 562.1L424.4 562.7L424.4 563.3L424.4 563.9L424.4 564.5L424.4 565.1L424.4 565.7L424.5 566.3L424.5 566.9L424.5 567.5L424.5 568.1L424.5 568.7L424.5 569.3L424.6 569.9L424.6 570.5L424.6 571.1L424.6 571.7L424.6 572.3L424.6 572.9L424.7 573.5L424.7 574.1L424.7 574.7L424.7 575.3L424.7 575.9L424.7 576.5L424.7 577.1L424.8 577.7L424.8 578.3L424.8 578.9L424.8 579.5L424.8 580.1L424.8 580.7L424.8 581.3L424.9 581.9L424.9 582.5L424.9 583.1L424.9 583.7L424.9 584.3L424.9 584.9L424.9 585.5L425.0 586.1L425.0 586.7L425.0 587.3L425.0 587.9L425.0 588.5L425.0 589.1L425.1 589.7L425.1 590.3L425.1 590.9L425.1 591.5L425.1 592.1L425.1 592.7L425.2 593.3L425.2 593.9L425.2 594.5L425.2 595.1L425.2 595.7L425.3 596.3L425.3 596.9L425.3 597.5L425.3 598.1L425.3 598.7L425.4 599.3L425.4 599.9L425.4 600.5L425.4 601.1L425.4 601.7L425.5 602.3L425.5 602.9L425.5 603.5L425.5 604.1L425.5 604.7L425.6 605.3L425.6 605.9L425.6 606.5L425.6 607.1L425.6 607.7L425.7 608.3L425.7 608.9L425.7 609.5L425.7 610.1L425.8 610.7L425.8 611.3L425.8 611.9L425.8 612.5L425.8 613.1L425.9 613.7L425.9 614.3L425.9 614.9L425.9 615.5L426.0 616.1L426.0 616.7L426.0 617.3L426.0 617.9L426.1 618.5L426.1 619.1L426.1 619.7L426.1 620.3L426.2 620.9L426.2 621.5L426.2 622.1L426.2 622.7L426.3 623.3L426.3 623.9L426.3 624.5L426.3 625.1L426.4 625.7L426.4 626.3L426.4 626.9L426.4 627.5L426.5 628.1L426.5 628.7L426.5 629.3L426.6 629.9L426.6 630.5L426.6 631.1L426.6 631.7L426.7 632.3L426.7 632.9L426.7 633.5L426.8 634.1L426.8 634.7L426.8 635.3L426.9 635.9L426.9 636.5L426.9 637.1L426.9 637.7L427.0 638.3L427.0 638.9L427.0 639.5L427.1 640.1L427.1 640.7L427.1 641.3L427.2 641.9L427.2 642.5L427.2 643.1L427.3 643.7L427.3 644.3L427.3 644.9L427.4 645.5L427.4 646.1L427.4 646.7L427.5 647.3L427.5 647.9L427.6 648.5L427.6 649.1L427.6 649.7L427.7 650.3L427.7 650.9L427.8 651.5L427.8 652.1L427.8 652.7L427.9 653.3L427.9 653.9L428.0 654.5L428.0 655.1L428.1 655.7L428.1 656.3L428.1 656.8L428.2 657.4L428.2 658.0L428.3 658.6L428.4 659.2L428.4 659.8L428.5 660.4L428.5 661.0L428.6 661.6L428.7 662.2L428.7 662.8L428.8 663.4L428.9 664.0L428.9 664.6L429.0 665.2L429.1 665.8L429.2 666.4L429.3 667.0L429.4 667.6L429.5 668.2L429.6 668.8L429.7 669.3L429.8 669.9L430.0 670.5L430.1 671.1L430.3 671.7L430.4 672.3L430.6 672.8L430.8 673.4L430.9 674.0L431.1 674.6L431.3 675.3L431.5 675.9L431.8 676.4L432.1 676.9L432.4 677.4L432.8 677.7L433.3 678.0L434.0 678.0L434.6 677.8L434.9 677.7L435.2 677.4L435.4 677.0L435.7 676.5L435.8 675.9L436.0 675.3L436.2 674.7L436.3 674.0L436.5 673.3L436.6 672.5L436.7 671.8L436.8 671.2L437.0 670.5L437.1 669.9L437.2 669.3L437.3 668.8L437.4 668.2L437.6 667.6L437.7 667.0L437.8 666.4L437.9 665.8L438.0 665.2L438.0 664.6L438.1 664.0L438.2 663.4L438.2 662.8L438.3 662.2L438.3 661.6L438.4 661.0L438.4 660.4L438.5 659.8L438.5 659.2L438.5 658.6L438.6 658.0L438.6 657.4L438.6 656.8L438.7 656.2L438.7 655.6L438.7 655.0L438.7 654.4L438.8 653.8L438.8 653.2L438.8 652.6L438.8 652.0L438.9 651.4L438.9 650.8L438.9 650.2L438.9 649.6L438.9 649.0L439.0 648.4L439.0 647.8L439.0 647.2L439.0 646.6L439.0 646.0L439.1 645.4L439.1 644.8L439.1 644.2L439.1 643.6L439.1 643.0L439.2 642.4L439.2 641.8L439.2 641.2L439.2 640.6L439.2 640.0L439.3 639.4L439.3 638.8L439.3 638.2L439.3 637.6L439.3 637.0L439.4 636.4L439.4 635.8L439.4 635.2L439.4 634.6L439.5 634.0L439.5 633.4L439.5 632.8L439.5 632.2L439.5 631.6L439.6 631.0L439.6 630.4L439.6 629.9L439.6 629.3L439.6 628.7L439.7 628.1L439.7 627.5L439.7 626.9L439.7 626.3L439.7 625.7L439.8 625.1L439.8 624.5L439.8 623.9L439.8 623.3L439.8 622.7L439.9 622.1L439.9 621.5L439.9 620.9L439.9 620.3L440.0 619.7L440.0 619.1L440.0 618.5L440.0 617.9L440.0 617.3L440.1 616.7L440.1 616.1L440.1 615.5L440.1 614.9L440.1 614.3L440.2 613.7L440.2 613.1L440.2 612.5L440.2 611.9L440.2 611.3L440.3 610.7L440.3 610.1L440.3 609.5L440.3 608.9L440.3 608.3L440.4 607.7L440.4 607.1L440.4 606.5L440.4 605.9L440.4 605.3L440.5 604.7L440.5 604.1L440.5 603.5L440.5 602.9L440.5 602.3L440.6 601.7L440.6 601.1L440.6 600.5L440.6 599.9L440.6 599.3L440.6 598.7L440.7 598.1L440.7 597.5L440.7 596.9L440.7 596.3L440.7 595.7L440.8 595.1L440.8 594.5L440.8 593.9L440.8 593.3L440.8 592.7L440.8 592.1L440.9 591.5L440.9 590.9L440.9 590.3L440.9 589.7L440.9 589.1L440.9 588.5L441.0 587.9L441.0 587.3L441.0 586.7L441.0 586.1L441.0 585.5L441.0 584.9L441.1 584.3L441.1 583.7L441.1 583.1L441.1 582.5L441.1 581.9L441.1 581.3L441.1 580.7L441.2 580.1L441.2 579.5L441.2 578.9L441.2 578.3L441.2 577.7L441.2 577.1L441.2 576.5L441.3 575.9L441.3 575.3L441.3 574.7L441.3 574.1L441.3 573.5L441.3 572.9L441.3 572.3L441.4 571.7L441.4 571.1L441.4 570.5L441.4 569.9L441.4 569.3L441.4 568.7L441.4 568.1L441.4 567.5L441.5 566.9L441.5 566.3L441.5 565.7L441.5 565.1L441.5 564.5L441.5 563.9L441.5 563.3L441.5 562.7L441.5 562.1L441.6 561.5L441.6 560.9L441.6 560.3L441.6 559.7L441.6 559.1L441.6 558.5L441.6 557.9L441.6 557.3L441.7 556.7L441.7 556.1L441.7 555.5L441.7 554.9L441.7 554.3L441.7 553.7L441.7 553.1L441.8 552.5L441.8 551.9L441.8 551.3L441.8 550.7L441.8 550.1L441.8 549.5L441.9 548.9L441.9 548.3L441.9 547.7L441.9 547.1L441.9 546.5L441.9 545.9L442.0 545.3L442.0 544.7L442.0 544.1L442.0 543.5L442.0 542.9L442.0 542.3L442.1 541.7L442.1 541.1L442.1 540.5L442.1 539.9L442.1 539.3L442.2 538.7L442.2 538.1L442.2 537.5L442.2 536.9L442.2 536.3L442.3 535.7L442.3 535.1L442.3 534.5L442.3 533.9L442.3 533.3L442.4 532.7L442.4 532.1L442.4 531.5L442.4 530.9L442.5 530.3L442.5 529.7L442.5 529.1L442.5 528.5L442.6 527.9L442.6 527.3L442.6 526.7L442.6 526.1L442.7 525.5L442.7 524.9L442.7 524.3L442.7 523.7L442.8 523.1L442.8 522.5L442.8 521.9L442.8 521.3L442.9 520.7L442.9 520.1L442.9 519.5L443.0 518.9L443.0 518.3L443.0 517.7L443.0 517.1L443.1 516.5L443.1 515.9L443.1 515.3L443.2 514.7L443.2 514.1L443.2 513.5L443.2 512.9L443.3 512.3L443.3 511.7L443.3 511.1L443.4 510.5L443.4 509.9L443.4 509.3L443.4 508.7L443.5 508.1L443.5 507.5L443.5 506.9L443.6 506.3L443.6 505.7L443.6 505.1L443.7 504.5L443.7 503.9L443.7 503.3L443.7 502.7L443.8 502.1L443.8 501.5L443.8 500.9L443.9 500.3L443.9 499.7L443.9 499.1L444.0 498.5L444.0 497.9L444.0 497.3L444.0 496.7L444.1 496.1L444.1 495.5L444.1 494.9L444.2 494.3L444.2 493.7L444.2 493.1L444.3 492.5L444.3 491.9L444.3 491.3L444.4 490.7L444.4 490.1L444.4 489.5L444.5 488.9L444.5 488.3L444.5 487.7L444.6 487.1L444.6 486.5L444.6 485.9L444.7 485.3L444.7 484.7L444.7 484.1L444.8 483.5L444.8 483.0L444.8 482.4L444.9 481.8L444.9 481.2L444.9 480.6L444.9 480.0L445.0 479.4L445.0 478.8L445.0 478.2L445.1 477.6L445.1 477.0L445.1 476.4L445.2 475.8L445.2 475.2L445.2 474.6L445.2 474.0L445.3 473.4L445.3 472.8L445.3 472.2L445.4 471.6L445.4 471.0L445.4 470.4L445.4 469.8L445.5 469.2L445.5 468.6L445.5 468.0L445.6 467.4L445.6 466.8L445.6 466.2L445.7 465.6L445.7 465.0L445.7 464.4L445.8 463.8L445.8 463.2L445.9 462.6L445.9 462.0L445.9 461.4L446.0 460.8L446.0 460.2L446.1 459.6L446.1 459.0L446.2 458.4L446.2 457.8L446.2 457.2L446.3 456.6L446.3 456.0L446.4 455.4L446.4 454.8L446.5 454.2L446.5 453.6L446.6 453.0L446.6 452.4L446.7 451.8L446.7 451.2L446.8 450.6L446.8 450.0L446.9 449.4L446.9 448.8L447.0 448.2L447.0 447.6L447.1 447.0L447.1 446.4L447.1 445.8L447.2 445.2L447.2 444.6L447.3 444.0L447.3 443.4L447.3 442.8L447.4 442.2L447.4 441.6L447.5 441.0L447.5 440.4L447.5 439.8L447.6 439.2L447.6 438.6L447.7 438.0L447.7 437.4L447.7 436.8L447.8 436.2L447.8 435.7L447.9 435.1L447.9 434.5L448.0 433.9L448.0 433.3L448.0 432.7L448.1 432.1L448.1 431.5L448.2 430.9L448.2 430.3L448.3 429.7L448.3 429.1L448.4 428.5L448.4 427.9L448.5 427.3L448.5 426.7L448.6 426.1L448.6 425.5L448.7 424.9L448.7 424.3L448.7 423.7L448.8 423.1L448.8 422.5L448.9 421.9L448.9 421.3L449.0 420.7L449.0 420.1L449.1 419.5L449.1 418.9L449.2 418.3L449.2 417.7L449.3 417.1L449.4 416.5L449.4 415.9L449.5 415.3L449.5 414.7L449.6 414.1L449.6 413.5L449.7 412.9L449.8 412.3L449.8 411.7L449.9 411.1L450.0 410.5L450.1 410.0L450.2 409.4L450.2 408.8L450.3 408.2L450.4 407.6L450.5 407.0L450.6 406.4L450.7 405.8L450.8 405.2L450.9 404.6L451.1 404.0L451.2 403.4L451.3 402.9L451.5 402.3L451.6 401.7L451.7 401.1L451.9 400.5L452.0 399.9L452.2 399.4L452.3 398.8L452.5 398.2L452.6 397.6L452.8 397.0L452.9 396.5L453.0 395.9L453.2 395.3L453.3 394.7L453.5 394.1L453.7 393.6L453.9 393.0L454.1 392.4L454.3 391.9L454.5 391.3L454.8 390.8L455.1 390.3L455.4 389.7L455.7 389.2L456.1 388.7L456.4 388.3L456.8 387.7L457.1 387.2L457.5 386.7L457.9 386.1L458.2 385.6L458.7 385.2L459.1 384.9L459.6 384.7L460.1 384.5L460.7 384.3L461.3 384.2L461.9 384.1L462.5 384.1L463.1 384.2L463.8 384.3L464.4 384.6L464.9 384.9L465.4 385.2L465.7 385.6L466.0 386.0L466.3 386.5L466.5 387.0L466.7 387.6L466.8 388.3L467.0 388.9L467.2 389.6L467.4 390.2L467.6 390.7L467.7 391.3L467.9 391.9L468.1 392.4L468.3 393.0L468.4 393.6L468.6 394.2L468.8 394.8L468.9 395.3L469.1 395.9L469.3 396.5L469.4 397.1L469.6 397.6L469.7 398.2L469.9 398.8L470.1 399.4L470.2 399.9L470.4 400.5L470.6 401.1L470.8 401.8L471.1 402.0L471.3 401.7L471.6 401.1L471.8 400.4L472.0 399.7L472.3 399.1L472.5 398.5L472.6 397.9L472.8 397.2L473.0 396.6L473.1 396.0L473.3 395.5L473.6 395.0L473.9 394.6L474.3 394.1L474.9 393.7L475.4 393.5L476.0 393.5L476.7 393.6L477.3 393.8L477.9 394.0L478.2 394.2L478.5 394.6L478.7 395.1L478.9 395.7L479.0 396.4L479.2 397.1L479.3 397.7L479.5 398.3L479.6 398.9L479.7 399.5L479.8 400.1L480.0 400.7L480.1 401.3L480.2 401.9L480.3 402.4L480.4 403.0L480.5 403.6L480.6 404.2L480.7 404.8L480.8 405.4L480.9 406.0L480.9 406.6L481.0 407.2L481.1 407.8L481.2 408.4L481.3 409.0L481.3 409.6L481.4 410.2L481.5 410.8L481.5 411.4L481.6 412.0L481.7 412.6L481.7 413.1L481.8 413.7L481.9 414.3L481.9 414.9L482.0 415.5L482.1 416.1L482.1 416.7L482.2 417.3L482.2 417.9L482.3 418.5L482.4 419.1L482.4 419.7L482.5 420.3L482.5 420.9L482.6 421.5L482.6 422.1L482.7 422.7L482.7 423.3L482.8 423.9L482.8 424.5L482.9 425.1L483.0 425.7L483.0 426.3L483.1 426.9L483.1 427.5L483.2 428.1L483.2 428.7L483.3 429.3L483.3 429.9L483.4 430.5L483.4 431.1L483.5 431.7L483.5 432.3L483.6 432.9L483.6 433.5L483.7 434.1L483.7 434.7L483.8 435.3L483.9 435.9L483.9 436.4L484.0 437.0L484.0 437.6L484.1 438.2L484.1 438.8L484.2 439.4L484.3 440.0L484.3 440.6L484.4 441.2L484.4 441.8L484.5 442.4L484.6 443.0L484.6 443.6L484.7 444.2L484.8 444.8L484.8 445.4L484.9 446.0L485.0 446.6L485.0 447.2L485.1 447.8L485.2 448.4L485.2 449.0L485.3 449.6L485.3 450.2L485.4 450.8L485.4 451.4L485.5 452.0L485.6 452.6L485.6 453.2L485.7 453.8L485.8 454.4L485.8 454.9L485.9 455.5L486.0 456.1L486.0 456.7L486.1 457.3L486.2 457.9L486.2 458.5L486.3 459.1L486.4 459.7L486.5 460.3L486.5 460.9L486.6 461.5L486.7 462.1L486.8 462.7L486.9 463.3L487.0 463.9L487.0 464.6L487.1 465.3L487.2 466.1L487.3 466.9L487.4 467.7L487.5 468.4L487.6 469.1L487.7 469.7L487.8 470.3L487.9 470.7L487.9 470.9L488.0 471.0L488.1 470.5L488.1 469.8L488.3 469.2L488.4 468.7L488.6 468.1L488.8 467.5L489.0 466.9L489.2 466.4L489.4 465.8L489.5 465.2L489.6 464.6L489.7 464.0L489.8 463.4L489.9 462.8L490.0 462.3L490.1 461.7L490.1 461.1L490.2 460.5L490.3 459.9L490.3 459.3L490.4 458.7L490.5 458.1L490.5 457.5L490.6 456.9L490.6 456.3L490.7 455.7L490.7 455.1L490.8 454.5L490.8 453.9L490.9 453.3L490.9 452.7L490.9 452.1L491.0 451.5L491.0 450.9L491.1 450.3L491.1 449.7L491.2 449.1L491.2 448.5L491.2 447.9L491.3 447.3L491.3 446.7L491.4 446.1L491.4 445.5L491.4 444.9L491.5 444.3L491.5 443.7L491.5 443.1L491.6 442.5L491.6 441.9L491.7 441.3L491.7 440.7L491.7 440.1L491.8 439.5L491.8 438.9L491.8 438.3L491.8 437.7L491.9 437.1L491.9 436.5L491.9 435.9L492.0 435.3L492.0 434.7L492.0 434.1L492.0 433.5L492.1 432.9L492.1 432.3L492.1 431.7L492.1 431.1L492.2 430.5L492.2 429.9L492.2 429.3L492.3 428.7L492.3 428.1L492.3 427.5L492.3 426.9L492.4 426.3L492.4 425.7L492.4 425.1L492.5 424.5L492.5 423.9L492.5 423.3L492.6 422.7L492.6 422.1L492.6 421.5L492.7 420.9L492.7 420.3L492.8 419.7L492.8 419.1L492.8 418.5L492.9 417.9L492.9 417.3L493.0 416.7L493.0 416.1L493.0 415.6L493.1 415.0L493.1 414.4L493.2 413.8L493.2 413.2L493.3 412.6L493.3 412.0L493.4 411.4L493.5 410.8L493.5 410.2L493.6 409.6L493.6 409.0L493.7 408.4L493.8 407.8L493.8 407.2L493.9 406.6L494.0 406.0L494.1 405.4L494.1 404.8L494.2 404.2L494.3 403.6L494.4 403.0L494.5 402.4L494.6 401.8L494.6 401.2L494.7 400.6L494.8 400.1L494.9 399.5L495.0 398.9L495.1 398.3L495.2 397.7L495.4 397.1L495.5 396.5L495.6 395.9L495.7 395.3L495.9 394.7L496.0 394.2L496.1 393.6L496.3 393.0L496.5 392.4L496.6 391.9L496.8 391.3L497.1 390.7L497.3 390.1L497.5 389.6L497.8 389.0L498.0 388.5L498.3 388.0L498.6 387.5L498.9 386.9L499.2 386.2L499.5 385.6L499.9 385.0L500.3 384.6L500.7 384.2L501.2 384.1L501.7 384.1L502.4 384.1L502.9 384.2L503.5 384.5L503.9 384.9L504.3 385.3L504.6 385.8L504.9 386.3L505.1 386.9L505.4 387.5L505.6 388.1L505.8 388.7L506.0 389.3L506.2 389.8L506.4 390.4L506.6 390.9L506.8 391.5L507.0 392.1L507.1 392.7L507.3 393.3L507.5 393.8L507.6 394.4L507.8 395.0L507.9 395.6L508.1 396.2L508.2 396.7L508.4 397.3L508.5 397.9L508.6 398.5L508.8 399.1L508.9 399.7L509.0 400.2L509.2 400.8L509.3 401.4L509.4 402.0L509.6 402.6L509.7 403.2L509.8 403.8L509.9 404.4L510.0 404.9L510.2 405.5L510.3 406.1L510.4 406.7L510.5 407.3L510.6 407.9L510.7 408.5L510.9 409.1L511.0 409.7L511.1 410.2L511.2 410.8L511.3 411.4L511.4 412.0L511.5 412.6L511.6 413.2L511.7 413.8L511.8 414.4L511.9 415.0L512.0 415.6L512.1 416.2L512.2 416.7L512.3 417.3L512.4 417.9L512.5 418.5L512.5 419.1L512.6 419.7L512.7 420.3L512.8 420.9L512.9 421.5L513.0 422.1L513.1 422.7L513.1 423.3L513.2 423.9L513.3 424.5L513.4 425.1L513.5 425.7L513.5 426.3L513.6 426.8L513.7 427.4L513.8 428.0L513.9 428.6L513.9 429.2L514.0 429.8L514.1 430.4L514.2 431.0L514.2 431.6L514.3 432.2L514.4 432.8L514.5 433.4L514.5 434.0L514.6 434.6L514.7 435.2L514.8 435.8L514.8 436.4L514.9 437.0L515.0 437.6L515.1 438.2L515.1 438.8L515.2 439.4L515.3 439.9L515.3 440.5L515.4 441.1L515.5 441.7L515.6 442.3L515.6 442.9L515.7 443.5L515.8 444.1L515.9 444.7L515.9 445.3L516.0 445.9L516.1 446.5L516.2 447.1L516.3 447.7L516.3 448.3L516.4 448.9L516.5 449.5L516.6 450.1L516.7 450.6L516.9 451.2L517.0 451.8L517.1 452.4L517.3 453.0L517.4 453.6L517.6 454.1L517.7 454.7L517.9 455.3L518.1 455.9L518.3 456.5L518.4 457.0L518.6 457.6L518.8 458.2L519.0 458.7L519.2 459.3L519.5 459.8L519.7 460.4L519.9 461.0L520.1 461.5L520.4 462.1L520.6 462.6L520.8 463.2L520.9 463.8L521.1 464.3L521.3 464.9L521.5 465.5L521.6 466.1L521.8 466.7L521.9 467.2L522.1 467.8L522.2 468.4L522.4 469.0L522.5 469.6L522.6 470.2L522.7 470.7L522.8 471.3L522.9 471.9L523.0 472.5L523.1 473.1L523.2 473.7L523.3 474.3L523.3 474.9L523.4 475.5L523.5 476.1L523.5 476.7L523.6 477.3L523.7 477.9L523.7 478.5L523.8 479.1L523.8 479.7L523.9 480.3L523.9 480.9L524.0 481.5L524.0 482.1L524.1 482.7L524.1 483.3L524.2 483.9L524.2 484.5L524.2 485.1L524.3 485.7L524.3 486.3L524.4 486.9L524.4 487.5L524.4 488.1L524.5 488.7L524.5 489.3L524.6 489.9L524.6 490.5L524.6 491.1L524.7 491.7L524.7 492.2L524.7 492.8L524.8 493.4L524.8 494.0L524.8 494.6L524.9 495.2L524.9 495.8L524.9 496.4L525.0 497.0L525.0 497.6L525.0 498.2L525.1 498.8L525.1 499.4L525.1 500.0L525.2 500.6L525.2 501.2L525.2 501.8L525.3 502.4L525.3 503.0L525.3 503.6L525.4 504.2L525.4 504.8L525.4 505.4L525.5 506.0L525.5 506.6L525.5 507.2L525.6 507.8L525.6 508.4L525.6 509.0L525.7 509.6L525.7 510.2L525.7 510.8L525.8 511.4L525.8 512.0L525.8 512.6L525.9 513.2L525.9 513.8L525.9 514.4L526.0 515.0L526.0 515.6L526.0 516.2L526.1 516.8L526.1 517.4L526.1 518.0L526.2 518.6L526.2 519.2L526.2 519.8L526.3 520.4L526.3 521.0L526.4 521.6L526.4 522.2L526.4 522.8L526.5 523.4L526.5 524.0L526.5 524.6L526.6 525.2L526.6 525.8L526.6 526.4L526.7 527.0L526.7 527.6L526.7 528.2L526.7 528.8L526.8 529.4L526.8 530.0L526.8 530.6L526.9 531.2L526.9 531.8L526.9 532.4L526.9 533.0L527.0 533.6L527.0 534.2L527.0 534.8L527.0 535.4L527.0 536.0L527.0 536.6L527.1 537.2L527.1 537.8L527.1 538.4L527.1 539.0L527.2 539.6L527.2 540.2L527.2 540.8L527.3 541.4L527.3 542.1L527.4 542.8L527.5 543.6L527.6 544.4L527.7 545.1L527.9 545.6L528.0 546.0L528.1 546.2L528.2 546.1L528.3 545.9L528.4 545.6L528.5 545.2L528.6 544.6L528.7 544.0L528.8 543.3L528.8 542.6L528.9 541.8L529.0 541.0L529.1 540.2L529.2 539.4L529.3 538.7L529.3 538.0L529.4 537.4L529.5 536.8L529.5 536.2L529.6 535.6L529.7 535.0L529.7 534.4L529.8 533.8L529.8 533.2L529.9 532.6L529.9 532.0L530.0 531.4L530.0 530.8L530.1 530.2L530.1 529.6L530.2 529.0L530.2 528.4L530.3 527.8L530.3 527.2L530.4 526.6L530.4 526.0L530.5 525.4L530.5 524.8L530.6 524.2L530.6 523.6L530.7 523.0L530.7 522.4L530.8 521.8L530.8 521.2L530.9 520.7L530.9 520.1L531.0 519.5L531.0 518.9L531.0 518.3L531.1 517.7L531.1 517.1L531.2 516.5L531.2 515.9L531.3 515.3L531.3 514.7L531.4 514.1L531.4 513.5L531.5 512.9L531.5 512.3L531.6 511.6L531.7 510.8L531.8 510.1L531.9 509.3L532.0 508.5L532.1 507.8L532.2 507.2L532.3 506.7L532.4 506.4L532.5 506.2L532.6 506.3L532.7 506.5L532.8 506.9L533.0 507.5L533.1 508.1L533.2 508.8L533.4 509.6L533.5 510.4L533.6 511.2L533.7 511.9L533.8 512.5L533.8 513.1L533.8 513.7L533.9 514.3L533.9 514.9L534.0 515.5L534.0 516.1L534.0 516.7L534.1 517.3L534.1 517.9L534.1 518.5L534.1 519.1L534.2 519.7L534.2 520.3L534.2 520.9L534.2 521.5L534.3 522.1L534.3 522.7L534.3 523.3L534.3 523.9L534.4 524.5L534.4 525.1L534.4 525.7L534.5 526.3L534.5 526.9L534.5 527.5L534.5 528.1L534.6 528.7L534.6 529.3L534.6 529.9L534.7 530.5L534.7 531.1L534.7 531.7L534.7 532.3L534.8 532.9L534.8 533.5L534.8 534.1L534.9 534.7L534.9 535.3L534.9 535.9L535.0 536.5L535.0 537.1L535.0 537.7L535.0 538.3L535.1 538.9L535.1 539.5L535.1 540.1L535.2 540.7L535.2 541.3L535.2 541.9L535.2 542.5L535.3 543.1L535.3 543.7L535.3 544.3L535.3 544.9L535.4 545.5L535.4 546.1L535.4 546.7L535.5 547.3L535.5 547.9L535.5 548.5L535.5 549.1L535.6 549.7L535.6 550.3L535.6 550.9L535.7 551.5L535.7 552.1L535.7 552.7L535.7 553.3L535.8 553.9L535.8 554.5L535.8 555.1L535.8 555.7L535.9 556.3L535.9 556.9L535.9 557.5L535.9 558.1L536.0 558.7L536.0 559.3L536.0 559.9L536.1 560.5L536.1 561.1L536.1 561.7L536.1 562.3L536.2 562.9L536.2 563.5L536.2 564.1L536.2 564.7L536.3 565.3L536.3 565.9L536.3 566.5L536.3 567.1L536.4 567.7L536.4 568.3L536.4 568.9L536.4 569.5L536.5 570.1L536.5 570.7L536.5 571.3L536.5 571.9L536.6 572.5L536.6 573.1L536.6 573.7L536.7 574.3L536.7 574.9L536.7 575.5L536.7 576.1L536.8 576.7L536.8 577.3L536.8 577.9L536.8 578.5L536.9 579.0L536.9 579.6L536.9 580.2L537.0 580.8L537.0 581.4L537.0 582.0L537.0 582.6L537.1 583.2L537.1 583.8L537.1 584.4L537.2 585.0L537.2 585.6L537.2 586.2L537.3 586.8L537.3 587.4L537.3 588.0L537.4 588.6L537.4 589.2L537.4 589.8L537.5 590.4L537.5 591.0L537.6 591.6L537.6 592.2L537.6 592.8L537.7 593.4L537.7 594.0L537.8 594.6L537.8 595.2L537.9 595.8L537.9 596.4L537.9 597.0L538.0 597.6L538.0 598.2L538.0 598.8L538.1 599.4L538.1 600.0L538.1 600.6L538.2 601.2L538.2 601.8L538.3 602.4L538.3 603.0L538.3 603.6L538.4 604.2L538.4 604.8L538.4 605.4L538.5 606.0L538.5 606.6L538.5 607.2L538.6 607.8L538.6 608.4L538.7 609.0L538.7 609.6L538.8 610.2L538.8 610.8L538.9 611.4L538.9 612.0L539.0 612.6L539.0 613.2L539.1 613.8L539.2 614.4L539.3 615.1L539.4 615.9L539.5 616.7L539.7 617.5L539.8 618.2L540.0 618.8L540.1 619.3L540.2 619.7L540.3 620.0L540.4 620.0L540.5 619.8L540.6 619.5L540.7 619.0L540.8 618.4L540.9 617.7L540.9 617.0L541.0 616.2L541.1 615.4L541.1 614.6L541.2 613.9L541.2 613.2L541.3 612.6L541.3 612.0L541.3 611.4L541.4 610.8L541.4 610.2L541.4 609.6L541.5 609.0L541.5 608.4L541.5 607.8L541.5 607.2L541.6 606.6L541.6 606.0L541.6 605.4L541.6 604.8L541.7 604.2L541.7 603.6L541.7 603.0L541.7 602.4L541.8 601.8L541.8 601.2L541.8 600.6L541.9 600.0L541.9 599.4L541.9 598.8L541.9 598.2L542.0 597.6L542.0 597.0L542.0 596.4L542.0 595.8L542.1 595.2L542.1 594.6L542.1 594.0L542.1 593.4L542.2 592.8L542.2 592.2L542.2 591.6L542.2 591.0L542.2 590.4L542.3 589.8L542.3 589.2L542.3 588.6L542.3 588.0L542.3 587.4L542.4 586.8L542.4 586.2L542.4 585.6L542.4 585.0L542.4 584.4L542.5 583.8L542.5 583.2L542.5 582.6L542.5 582.0L542.5 581.4L542.6 580.8L542.6 580.2L542.6 579.6L542.6 579.0L542.6 578.4L542.7 577.8L542.7 577.2L542.7 576.6L542.7 576.0L542.7 575.4L542.8 574.8L542.8 574.2L542.8 573.6L542.8 573.0L542.8 572.4L542.9 571.8L542.9 571.2L542.9 570.6L542.9 570.0L542.9 569.4L543.0 568.8L543.0 568.2L543.0 567.6L543.0 567.0L543.0 566.4L543.1 565.8L543.1 565.2L543.1 564.6L543.1 564.0L543.1 563.4L543.2 562.8L543.2 562.2L543.2 561.6L543.2 561.0L543.2 560.4L543.2 559.8L543.3 559.2L543.3 558.6L543.3 558.0L543.3 557.4L543.3 556.8L543.4 556.2L543.4 555.7L543.4 555.1L543.4 554.5L543.4 553.9L543.4 553.3L543.5 552.7L543.5 552.1L543.5 551.5L543.5 550.9L543.5 550.3L543.5 549.7L543.6 549.1L543.6 548.5L543.6 547.9L543.6 547.3L543.6 546.7L543.7 546.1L543.7 545.5L543.7 544.9L543.7 544.3L543.7 543.7L543.7 543.1L543.7 542.5L543.8 541.9L543.8 541.3L543.8 540.7L543.8 540.1L543.8 539.5L543.8 538.9L543.9 538.3L543.9 537.7L543.9 537.1L543.9 536.5L543.9 535.9L543.9 535.3L543.9 534.7L544.0 534.1L544.0 533.5L544.0 532.9L544.0 532.3L544.0 531.7L544.0 531.1L544.0 530.5L544.1 529.9L544.1 529.3L544.1 528.7L544.1 528.1L544.1 527.5L544.1 526.9L544.1 526.3L544.2 525.7L544.2 525.1L544.2 524.5L544.2 523.9L544.2 523.3L544.2 522.7L544.3 522.1L544.3 521.5L544.3 520.9L544.3 520.3L544.3 519.7L544.3 519.1L544.3 518.5L544.4 517.9L544.4 517.3L544.4 516.7L544.4 516.1L544.4 515.5L544.4 514.9L544.5 514.3L544.5 513.7L544.5 513.1L544.5 512.5L544.5 511.9L544.5 511.3L544.5 510.7L544.5 510.1L544.6 509.5L544.6 508.9L544.6 508.3L544.6 507.7L544.6 507.1L544.6 506.5L544.6 505.9L544.6 505.3L544.6 504.7L544.7 504.1L544.7 503.5L544.7 502.9L544.7 502.3L544.7 501.7L544.7 501.1L544.7 500.5L544.7 499.9L544.7 499.3L544.7 498.7L544.8 498.1L544.8 497.5L544.8 496.9L544.8 496.3L544.8 495.7L544.8 495.1L544.8 494.5L544.8 493.9L544.8 493.3L544.9 492.7L544.9 492.1L544.9 491.5L544.9 490.9L544.9 490.3L544.9 489.7L544.9 489.1L545.0 488.5L545.0 487.9L545.0 487.3L545.0 486.7L545.0 486.1L545.1 485.5L545.1 484.9L545.1 484.3L545.1 483.7L545.2 483.1L545.2 482.5L545.2 481.9L545.2 481.3L545.2 480.7L545.3 480.1L545.3 479.5L545.3 478.9L545.4 478.3L545.4 477.7L545.4 477.1L545.4 476.5L545.5 475.9L545.5 475.3L545.5 474.7L545.6 474.1L545.6 473.5L545.6 472.9L545.7 472.3L545.7 471.7L545.8 471.1L545.8 470.5L545.8 469.9L545.9 469.3L545.9 468.7L546.0 468.1L546.0 467.5L546.1 466.9L546.1 466.3L546.2 465.7L546.2 465.1L546.3 464.5L546.3 463.9L546.4 463.3L546.4 462.7L546.5 462.1L546.5 461.5L546.6 460.9L546.6 460.3L546.7 459.7L546.7 459.1L546.8 458.5L546.9 457.9L546.9 457.3L547.0 456.7L547.1 456.1L547.2 455.5L547.3 455.0L547.4 454.3L547.5 453.6L547.7 452.9L548.0 452.2L548.2 451.4L548.5 450.8L548.7 450.2L549.0 449.8L549.3 449.5L549.5 449.4L549.7 449.5L550.0 449.7L550.3 450.1L550.6 450.6L550.9 451.1L551.2 451.8L551.4 452.4L551.7 453.2L552.0 453.9L552.2 454.6L552.4 455.3L552.5 455.9L552.7 456.5L552.8 457.1L552.9 457.7L553.0 458.3L553.0 458.9L553.1 459.5L553.2 460.0L553.3 460.7L553.3 461.3L553.4 461.9L553.5 462.5L553.5 463.1L553.6 463.7L553.6 464.3L553.7 464.9L553.7 465.5L553.8 466.1L553.8 466.7L553.9 467.3L553.9 467.9L554.0 468.5L554.0 469.1L554.1 469.7L554.1 470.3L554.2 470.8L554.2 471.4L554.3 472.0L554.3 472.6L554.3 473.2L554.4 473.8L554.4 474.4L554.5 475.0L554.5 475.6L554.5 476.2L554.6 476.8L554.6 477.4L554.6 478.0L554.7 478.6L554.7 479.2L554.7 479.8L554.8 480.4L554.8 481.0L554.8 481.6L554.9 482.2L554.9 482.8L554.9 483.4L555.0 484.0L555.0 484.6L555.0 485.2L555.1 485.8L555.1 486.4L555.1 487.0L555.2 487.6L555.2 488.2L555.3 488.8L555.3 489.4L555.3 490.0L555.4 490.6L555.4 491.2L555.5 491.8L555.5 492.4L555.5 493.0L555.6 493.6L555.6 494.2L555.7 494.8L555.7 495.4L555.8 496.0L555.8 496.6L555.8 497.2L555.9 497.8L555.9 498.4L556.0 499.0L556.0 499.6L556.1 500.2L556.1 500.8L556.2 501.4L556.2 502.0L556.3 502.6L556.3 503.2L556.4 503.8L556.4 504.4L556.4 505.0L556.5 505.6L556.5 506.2L556.6 506.8L556.6 507.4L556.7 508.0L556.7 508.6L556.7 509.2L556.8 509.8L556.8 510.4L556.9 511.0L556.9 511.6L556.9 512.2L557.0 512.8L557.0 513.4L557.1 514.0L557.1 514.6L557.1 515.2L557.2 515.7L557.2 516.3L557.2 516.9L557.3 517.5L557.3 518.1L557.4 518.7L557.4 519.3L557.4 519.9L557.5 520.5L557.5 521.1L557.5 521.7L557.6 522.3L557.6 522.9L557.6 523.5L557.7 524.1L557.7 524.7L557.7 525.3L557.8 525.9L557.8 526.5L557.8 527.1L557.9 527.7L557.9 528.3L558.0 528.9L558.0 529.5L558.0 530.1L558.1 530.7L558.1 531.3L558.1 531.9L558.2 532.5L558.2 533.1L558.2 533.7L558.3 534.3L558.3 534.9L558.3 535.5L558.4 536.1L558.4 536.7L558.4 537.3L558.5 537.9L558.5 538.5L558.5 539.1L558.6 539.7L558.6 540.3L558.6 540.9L558.7 541.5L558.7 542.1L558.7 542.7L558.8 543.3L558.8 543.9L558.8 544.5L558.9 545.1L558.9 545.7L559.0 546.3L559.0 546.9L559.0 547.5L559.1 548.1L559.1 548.7L559.1 549.3L559.2 549.9L559.2 550.5L559.3 551.1L559.3 551.7L559.3 552.3L559.4 552.9L559.4 553.5L559.4 554.1L559.5 554.7L559.5 555.3L559.6 555.9L559.6 556.5L559.6 557.1L559.7 557.7L559.7 558.3L559.8 558.9L559.8 559.5L559.8 560.1L559.9 560.7L559.9 561.3L560.0 561.9L560.0 562.5L560.1 563.1L560.1 563.7L560.1 564.3L560.2 564.9L560.2 565.5L560.3 566.1L560.3 566.7L560.4 567.2L560.4 567.8L560.5 568.4L560.5 569.0L560.6 569.6L560.6 570.2L560.7 570.8L560.7 571.4L560.8 572.0L560.8 572.6L560.9 573.2L561.0 573.8L561.0 574.4L561.1 575.0L561.1 575.6L561.2 576.2L561.3 576.8L561.3 577.4L561.4 578.0L561.5 578.6L561.6 579.2L561.7 579.8L561.7 580.4L561.8 581.0L561.9 581.6L562.0 582.2L562.1 582.8L562.2 583.3L562.3 583.9L562.4 584.6L562.5 585.3L562.5 586.1L562.6 586.9L562.7 587.7L562.8 588.4L562.9 589.1L563.0 589.7L563.1 590.3L563.3 590.7L563.4 590.9L563.5 591.0L563.7 590.9L563.8 590.6L564.0 590.1L564.2 589.6L564.4 588.9L564.6 588.2L564.8 587.4L565.0 586.7L565.3 586.0L565.5 585.3L565.7 584.7L566.0 584.1L566.2 583.3L566.5 582.6L566.7 582.0L567.0 581.5L567.1 581.2L567.3 581.2L567.4 581.4L567.5 581.8L567.5 582.2L567.6 582.8L567.7 583.5L567.7 584.2L567.8 585.0L567.8 585.8L567.9 586.6L568.0 587.3L568.0 588.1L568.1 588.7L568.2 589.3L568.3 589.9L568.3 590.5L568.4 591.1L568.4 591.7L568.5 592.3L568.5 592.9L568.5 593.5L568.6 594.1L568.6 594.7L568.6 595.3L568.7 595.9L568.7 596.5L568.7 597.1L568.8 597.7L568.8 598.3L568.8 598.9L568.8 599.5L568.9 600.1L568.9 600.7L568.9 601.3L568.9 601.9L569.0 602.5L569.0 603.1L569.0 603.7L569.0 604.3L569.1 604.9L569.1 605.5L569.1 606.1L569.1 606.7L569.2 607.3L569.2 607.9L569.2 608.5L569.2 609.1L569.2 609.7L569.3 610.3L569.3 610.9L569.3 611.5L569.3 612.1L569.3 612.7L569.4 613.3L569.4 613.9L569.4 614.5L569.4 615.1L569.5 615.7L569.5 616.3L569.5 616.9L569.5 617.5L569.5 618.1L569.6 618.7L569.6 619.3L569.6 619.9L569.7 620.5L569.7 621.1L569.7 621.7L569.7 622.3L569.8 622.9L569.8 623.4L569.8 624.0L569.8 624.6L569.9 625.2L569.9 625.8L569.9 626.4L570.0 627.0L570.0 627.6L570.0 628.2L570.1 628.8L570.1 629.4L570.1 630.0L570.2 630.6L570.2 631.2L570.2 631.8L570.3 632.4L570.3 633.0L570.4 633.6L570.4 634.2L570.4 634.8L570.5 635.4L570.5 636.0L570.6 636.6L570.6 637.2L570.6 637.8L570.7 638.4L570.7 639.0L570.8 639.6L570.8 640.2L570.8 640.8L570.9 641.4L570.9 642.0L571.0 642.6L571.0 643.2L571.0 643.8L571.1 644.4L571.1 645.0L571.2 645.6L571.2 646.2L571.3 646.8L571.3 647.4L571.3 648.0L571.4 648.6L571.4 649.2L571.5 649.8L571.5 650.4L571.6 651.0L571.6 651.6L571.7 652.2L571.8 652.8L571.8 653.4L571.9 654.0L571.9 654.6L572.0 655.2L572.0 655.8L572.1 656.4L572.2 657.0L572.3 657.6L572.3 658.2L572.4 658.9L572.5 659.7L572.6 660.5L572.6 661.3L572.7 662.0L572.8 662.7L573.0 663.3L573.1 663.8L573.2 664.2L573.4 664.4L573.6 664.4L574.0 664.2L574.5 663.9L575.1 663.5L575.7 663.0L576.2 662.5L576.6 662.0L576.7 661.5L576.9 661.0L577.0 660.5L577.1 659.9L577.2 659.3L577.3 658.7L577.4 658.1L577.5 657.4L577.5 656.8L577.6 656.2L577.7 655.5L577.8 654.9L577.9 654.3L577.9 653.7L578.0 653.2L578.1 652.6L578.2 652.0L578.2 651.4L578.3 650.8L578.4 650.2L578.5 649.6L578.5 649.0L578.6 648.4L578.6 647.8L578.7 647.2L578.8 646.6L578.8 646.0L578.9 645.4L578.9 644.8L579.0 644.2L579.0 643.6L579.1 643.0L579.1 642.4L579.1 641.8L579.2 641.2L579.2 640.6L579.3 640.0L579.3 639.4L579.3 638.8L579.4 638.2L579.4 637.6L579.4 637.0L579.4 636.4L579.5 635.8L579.5 635.2L579.5 634.6L579.5 634.0L579.6 633.4L579.6 632.8L579.6 632.2L579.6 631.6L579.7 631.0L579.7 630.4L579.7 629.8L579.7 629.2L579.7 628.6L579.8 628.0L579.8 627.4L579.8 626.8L579.8 626.2L579.8 625.6L579.9 625.0L579.9 624.4L579.9 623.8L579.9 623.2L579.9 622.6L579.9 622.0L580.0 621.4L580.0 620.8L580.0 620.2L580.0 619.6L580.0 619.0L580.0 618.4L580.1 617.8L580.1 617.2L580.1 616.6L580.1 616.0L580.1 615.4L580.1 614.8L580.2 614.2L580.2 613.6L580.2 613.0L580.2 612.4L580.2 611.8L580.2 611.2L580.3 610.6L580.3 610.0L580.3 609.4L580.3 608.8L580.3 608.2L580.4 607.6L580.4 607.0L580.4 606.4L580.4 605.8L580.4 605.2L580.4 604.6L580.5 604.0L580.5 603.4L580.5 602.8L580.5 602.2L580.5 601.6L580.6 601.0L580.6 600.4L580.6 599.8L580.6 599.2L580.6 598.6L580.7 598.0L580.7 597.4L580.7 596.8L580.7 596.2L580.7 595.6L580.8 595.0L580.8 594.4L580.8 593.8L580.8 593.2L580.9 592.6L580.9 592.0L580.9 591.4L581.0 590.8L581.0 590.2L581.0 589.6L581.0 589.0L581.1 588.4L581.1 587.8L581.1 587.2L581.1 586.6L581.1 586.0L581.2 585.4L581.2 584.8L581.2 584.2L581.2 583.6L581.2 583.0L581.3 582.4L581.3 581.8L581.3 581.2L581.3 580.6L581.3 580.0L581.4 579.5L581.4 578.9L581.4 578.3L581.4 577.7L581.4 577.1L581.5 576.5L581.5 575.9L581.5 575.3L581.5 574.7L581.5 574.1L581.5 573.5L581.6 572.9L581.6 572.3L581.6 571.7L581.6 571.1L581.6 570.5L581.6 569.9L581.7 569.3L581.7 568.7L581.7 568.1L581.7 567.5L581.7 566.9L581.7 566.3L581.7 565.7L581.8 565.1L581.8 564.5L581.8 563.9L581.8 563.3L581.8 562.7L581.8 562.1L581.9 561.5L581.9 560.9L581.9 560.3L581.9 559.7L581.9 559.1L581.9 558.5L582.0 557.9L582.0 557.3L582.0 556.7L582.0 556.1L582.0 555.5L582.0 554.9L582.1 554.3L582.1 553.7L582.1 553.1L582.1 552.5L582.1 551.9L582.1 551.3L582.2 550.7L582.2 550.1L582.2 549.5L582.2 548.9L582.2 548.3L582.2 547.7L582.3 547.1L582.3 546.5L582.3 545.9L582.3 545.3L582.3 544.7L582.3 544.1L582.4 543.5L582.4 542.9L582.4 542.3L582.4 541.7L582.4 541.1L582.4 540.5L582.5 539.9L582.5 539.3L582.5 538.7L582.5 538.1L582.5 537.5L582.5 536.9L582.6 536.3L582.6 535.7L582.6 535.1L582.6 534.5L582.6 533.9L582.6 533.3L582.7 532.7L582.7 532.1L582.7 531.5L582.7 530.9L582.7 530.3L582.8 529.7L582.8 529.1L582.8 528.5L582.8 527.9L582.8 527.3L582.8 526.7L582.9 526.1L582.9 525.5L582.9 524.9L582.9 524.3L582.9 523.7L582.9 523.1L583.0 522.5L583.0 521.9L583.0 521.3L583.0 520.7L583.0 520.1L583.0 519.5L583.1 518.9L583.1 518.3L583.1 517.7L583.1 517.1L583.1 516.5L583.1 515.9L583.2 515.3L583.2 514.7L583.2 514.1L583.2 513.5L583.2 512.9L583.2 512.3L583.3 511.7L583.3 511.1L583.3 510.5L583.3 509.9L583.3 509.3L583.4 508.7L583.4 508.1L583.4 507.5L583.4 506.9L583.4 506.3L583.5 505.7L583.5 505.1L583.5 504.5L583.5 503.9L583.6 503.3L583.6 502.7L583.6 502.1L583.7 501.5L583.7 500.9L583.7 500.3L583.7 499.7L583.8 499.1L583.8 498.5L583.8 497.9L583.9 497.3L583.9 496.7L583.9 496.1L583.9 495.5L584.0 494.9L584.0 494.3L584.0 493.7L584.1 493.1L584.1 492.5L584.1 491.9L584.1 491.3L584.2 490.7L584.2 490.1L584.2 489.5L584.3 488.9L584.3 488.3L584.3 487.7L584.4 487.1L584.4 486.5L584.4 485.9L584.4 485.3L584.5 484.7L584.5 484.1L584.5 483.5L584.6 482.9L584.6 482.3L584.6 481.7L584.7 481.1L584.7 480.5L584.7 479.9L584.8 479.3L584.8 478.7L584.8 478.1L584.8 477.5L584.9 476.9L584.9 476.3L584.9 475.7L585.0 475.1L585.0 474.5L585.0 473.9L585.1 473.3L585.1 472.7L585.1 472.1L585.2 471.5L585.2 470.9L585.2 470.3L585.3 469.7L585.3 469.1L585.3 468.5L585.4 467.9L585.4 467.3L585.4 466.7L585.5 466.1L585.5 465.5L585.5 464.9L585.5 464.3L585.6 463.7L585.6 463.1L585.6 462.5L585.6 461.9L585.7 461.3L585.7 460.7L585.7 460.1L585.7 459.5L585.8 458.9L585.8 458.3L585.8 457.7L585.9 457.1L585.9 456.5L585.9 455.9L586.0 455.3L586.0 454.7L586.1 454.1L586.2 453.5L586.2 453.0L586.4 452.4L586.5 452.0" fill="none" stroke="#000" stroke-width="1.9" stroke-linejoin="round" stroke-linecap="butt" stroke-dasharray="3.3 4.2"/>
<path d="M89.5 305.95V8.45M80.2 305.95H89.5M80.2 268.76H89.5M80.2 231.57H89.5M80.2 194.39H89.5M80.2 157.20H89.5M80.2 120.01H89.5M80.2 82.82H89.5M80.2 45.63H89.5M80.2 8.45H89.5" stroke="#000" stroke-width="1" fill="none"/>
<path d="M89.5 681.55V398.64M80.2 398.64H89.5M80.2 413.53H89.5M80.2 532.65H89.5M80.2 681.55H89.5" stroke="#000" stroke-width="1" fill="none"/>
<path d="M108.70 318.0H586.50M108.70 318.0V327.40M156.48 318.0V327.40M204.26 318.0V327.40M252.04 318.0V327.40M299.82 318.0V327.40M347.60 318.0V327.40M395.38 318.0V327.40M443.16 318.0V327.40M490.94 318.0V327.40M538.72 318.0V327.40M586.50 318.0V327.40" stroke="#000" stroke-width="1" fill="none"/>
<path d="M108.70 693.5H586.50M108.70 693.5V702.90M156.48 693.5V702.90M204.26 693.5V702.90M252.04 693.5V702.90M299.82 693.5V702.90M347.60 693.5V702.90M395.38 693.5V702.90M443.16 693.5V702.90M490.94 693.5V702.90M538.72 693.5V702.90M586.50 693.5V702.90" stroke="#000" stroke-width="1" fill="none"/>
<g font-family="&quot;Liberation Sans&quot;, sans-serif" font-size="15" fill="#000" style="opacity:0.999">
<text transform="translate(71.90 311.25) scale(1 1.0)" text-anchor="end">50</text>
<text transform="translate(71.90 274.06) scale(1 1.0)" text-anchor="end">150</text>
<text transform="translate(71.90 236.87) scale(1 1.0)" text-anchor="end">250</text>
<text transform="translate(71.90 199.69) scale(1 1.0)" text-anchor="end">350</text>
<text transform="translate(71.90 162.50) scale(1 1.0)" text-anchor="end">450</text>
<text transform="translate(71.90 125.31) scale(1 1.0)" text-anchor="end">550</text>
<text transform="translate(71.90 88.12) scale(1 1.0)" text-anchor="end">650</text>
<text transform="translate(71.90 50.93) scale(1 1.0)" text-anchor="end">750</text>
<text transform="translate(71.90 13.75) scale(1 1.0)" text-anchor="end">850</text>
<text transform="translate(71.90 403.94) scale(1 1.0)" text-anchor="end">0.05</text>
<text transform="translate(71.90 418.83) scale(1 1.0)" text-anchor="end">0.10</text>
<text transform="translate(71.90 537.95) scale(1 1.0)" text-anchor="end">0.50</text>
<text transform="translate(71.90 686.85) scale(1 1.0)" text-anchor="end">1.00</text>
<text transform="translate(108.70 350.20) scale(1 1.0)" text-anchor="middle">-100</text>
<text transform="translate(156.48 350.20) scale(1 1.0)" text-anchor="middle">0</text>
<text transform="translate(204.26 350.20) scale(1 1.0)" text-anchor="middle">100</text>
<text transform="translate(252.04 350.20) scale(1 1.0)" text-anchor="middle">200</text>
<text transform="translate(299.82 350.20) scale(1 1.0)" text-anchor="middle">300</text>
<text transform="translate(347.60 350.20) scale(1 1.0)" text-anchor="middle">400</text>
<text transform="translate(395.38 350.20) scale(1 1.0)" text-anchor="middle">500</text>
<text transform="translate(443.16 350.20) scale(1 1.0)" text-anchor="middle">600</text>
<text transform="translate(490.94 350.20) scale(1 1.0)" text-anchor="middle">700</text>
<text transform="translate(538.72 350.20) scale(1 1.0)" text-anchor="middle">800</text>
<text transform="translate(586.50 350.20) scale(1 1.0)" text-anchor="middle">900</text>
<text transform="translate(347.70 367.90) scale(1 1.0)" text-anchor="middle">Time (in ms)</text>
<text transform="translate(108.70 725.70) scale(1 1.0)" text-anchor="middle">-100</text>
<text transform="translate(156.48 725.70) scale(1 1.0)" text-anchor="middle">0</text>
<text transform="translate(204.26 725.70) scale(1 1.0)" text-anchor="middle">100</text>
<text transform="translate(252.04 725.70) scale(1 1.0)" text-anchor="middle">200</text>
<text transform="translate(299.82 725.70) scale(1 1.0)" text-anchor="middle">300</text>
<text transform="translate(347.60 725.70) scale(1 1.0)" text-anchor="middle">400</text>
<text transform="translate(395.38 725.70) scale(1 1.0)" text-anchor="middle">500</text>
<text transform="translate(443.16 725.70) scale(1 1.0)" text-anchor="middle">600</text>
<text transform="translate(490.94 725.70) scale(1 1.0)" text-anchor="middle">700</text>
<text transform="translate(538.72 725.70) scale(1 1.0)" text-anchor="middle">800</text>
<text transform="translate(586.50 725.70) scale(1 1.0)" text-anchor="middle">900</text>
<text transform="translate(347.70 743.30) scale(1 1.0)" text-anchor="middle">Time (in ms)</text>
<text transform="translate(14.2 157.6) rotate(-90)" text-anchor="middle" textLength="205" lengthAdjust="spacing">Repetition Effects (1st vs 2nd):</text>
<text transform="translate(32 157.4) rotate(-90)" text-anchor="middle" textLength="274.4" lengthAdjust="spacing">Topographic Differences (in Tsum2 units)</text>
<text transform="translate(14.2 532.6) rotate(-90)" text-anchor="middle">Interaction of Lexicality and Repetition:</text>
<text transform="translate(32 532.6) rotate(-90)" text-anchor="middle">p-values (uncorrected)</text>
<text transform="translate(513.00 23.80) scale(1 1.0)" text-anchor="start">Words</text>
<text transform="translate(512.90 45.50) scale(1 1.0)" text-anchor="start">Pseudowords</text>
</g>
<line x1="474" y1="18.3" x2="499.5" y2="18.3" stroke="#000" stroke-width="2.2" stroke-linecap="round"/>
<line x1="473.9" y1="40.7" x2="499.6" y2="40.7" stroke="#666" stroke-width="2" stroke-linecap="round" stroke-dasharray="7.2 8.1"/>
</svg></body></html>
